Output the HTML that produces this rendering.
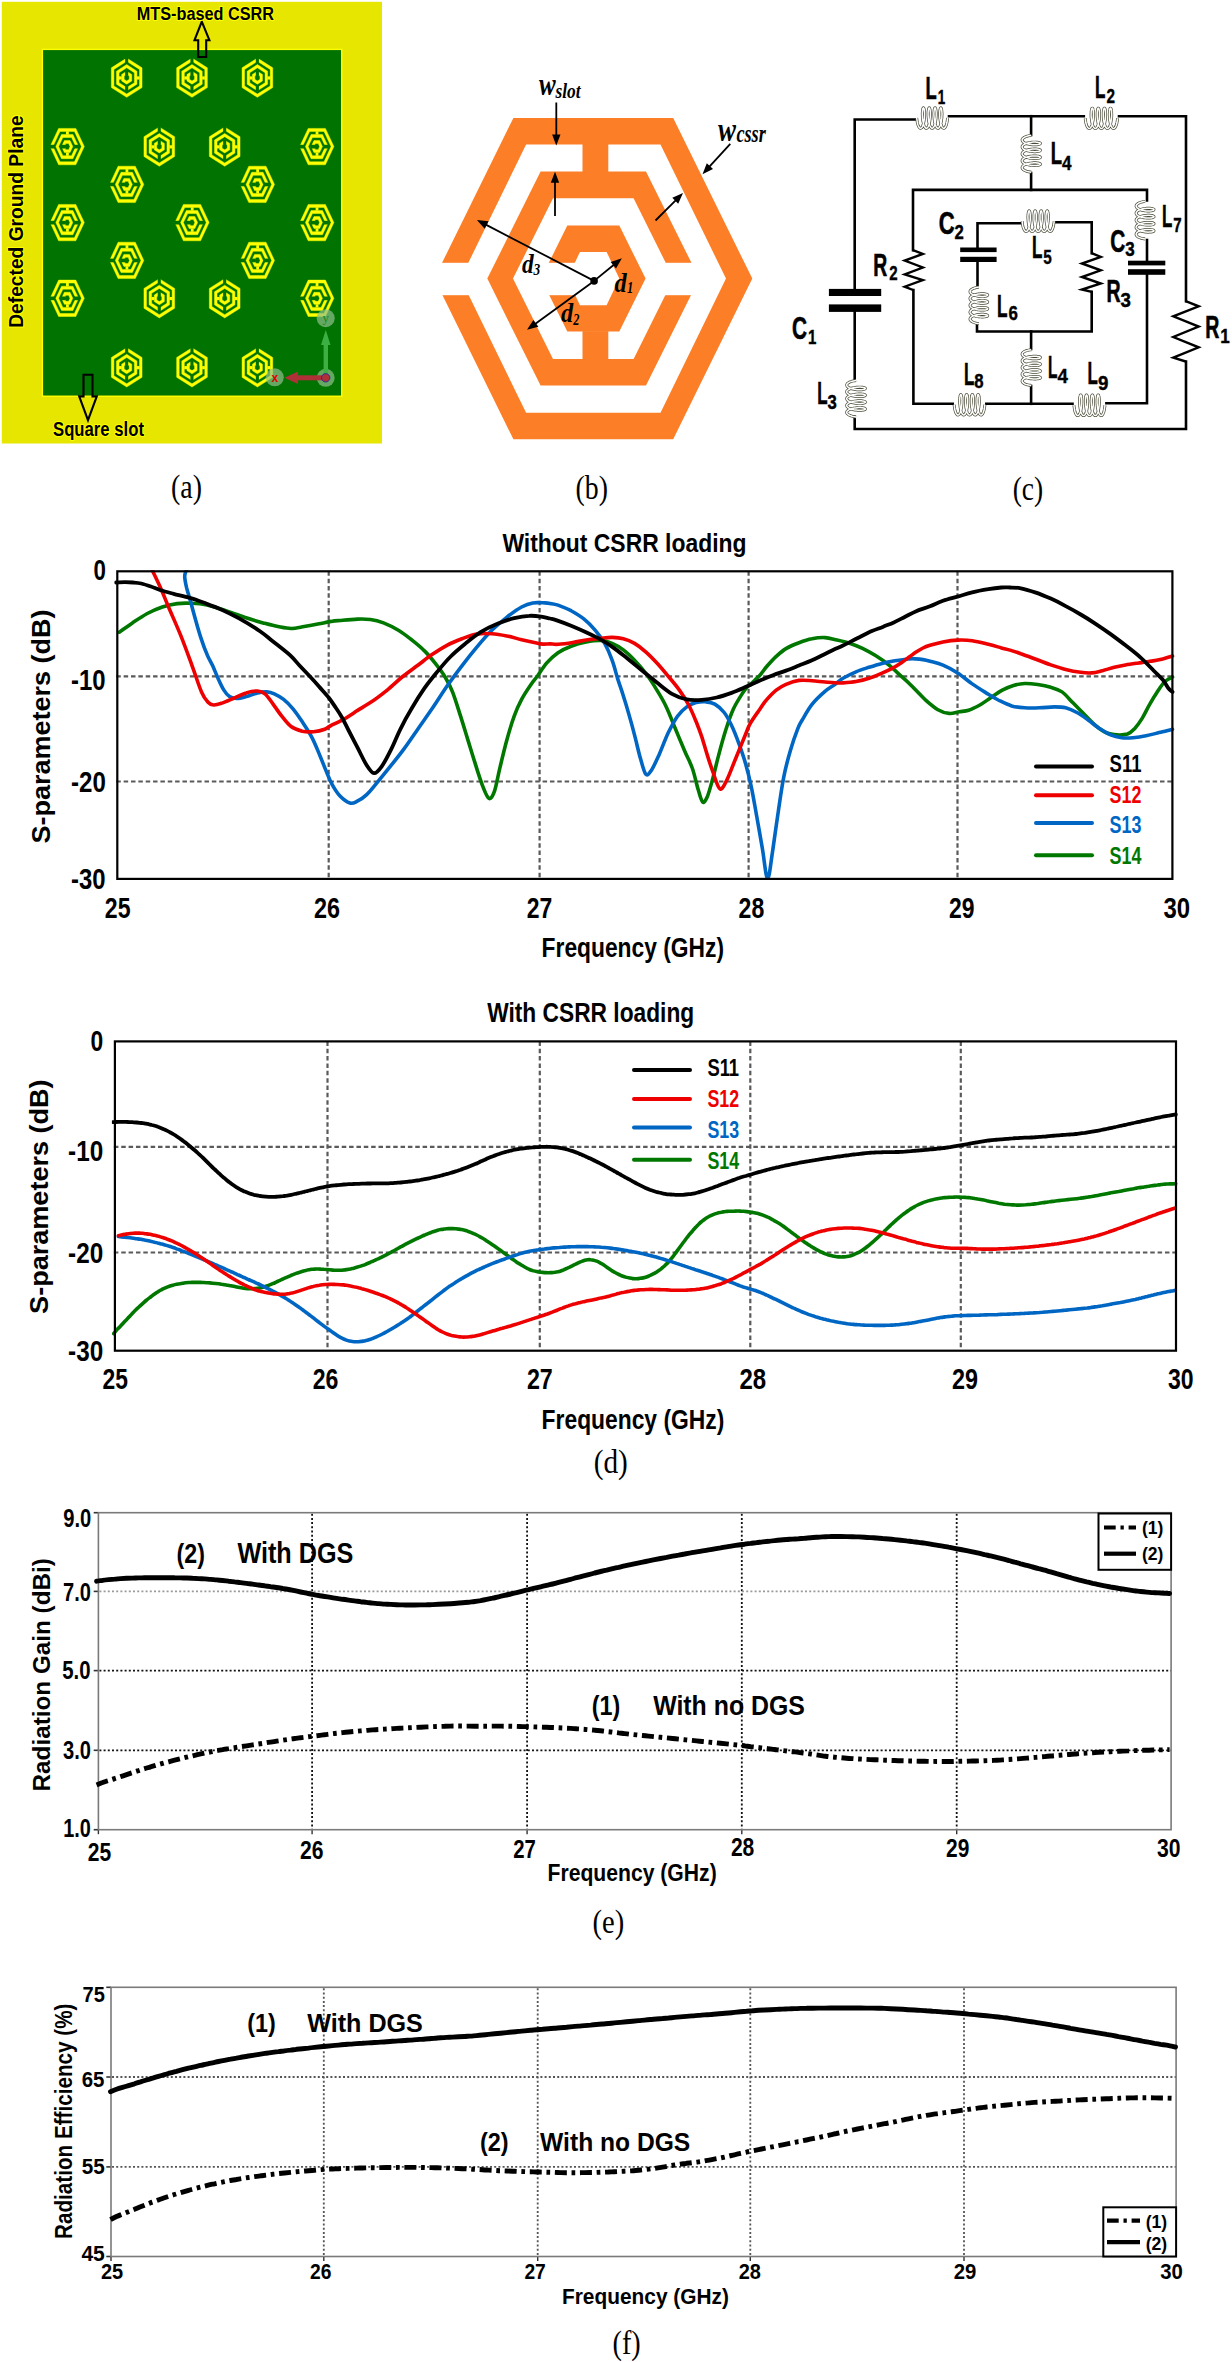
<!DOCTYPE html>
<html><head><meta charset="utf-8"><style>
html,body{margin:0;padding:0;background:#fff;}
body{width:1232px;height:2362px;overflow:hidden;}
svg{display:block;}
</style></head><body>
<svg width="1232" height="2362" viewBox="0 0 1232 2362">
<rect x="0" y="0" width="1232" height="2362" fill="#fff"/>
<line x1="328.7" y1="571.3" x2="328.7" y2="878.9" stroke="#5a5a5a" stroke-width="2.2" stroke-dasharray="4.5 2.85"/>
<line x1="539.6" y1="571.3" x2="539.6" y2="878.9" stroke="#5a5a5a" stroke-width="2.2" stroke-dasharray="4.5 2.85"/>
<line x1="748.6" y1="571.3" x2="748.6" y2="878.9" stroke="#5a5a5a" stroke-width="2.2" stroke-dasharray="4.5 2.85"/>
<line x1="957.5" y1="571.3" x2="957.5" y2="878.9" stroke="#5a5a5a" stroke-width="2.2" stroke-dasharray="4.5 2.85"/>
<line x1="116.3" y1="676.4" x2="1172.4" y2="676.4" stroke="#5a5a5a" stroke-width="2.2" stroke-dasharray="4.5 2.85"/>
<line x1="116.3" y1="781.5" x2="1172.4" y2="781.5" stroke="#5a5a5a" stroke-width="2.2" stroke-dasharray="4.5 2.85"/>
<g clip-path="url(#clip1)">
<clipPath id="clip1"><rect x="114.3" y="570.3" width="1061.1" height="309.6"/></clipPath>
<path d="M119.3 632.2C121.5 630.7 127.7 626 132.4 622.9C137.1 619.8 142.4 616.2 147.3 613.5C152.3 610.9 157.3 608.7 162.3 607C167.3 605.4 172.2 604.3 177.2 603.6C182.2 603 187.2 603 192.1 603.3C197.1 603.5 201.5 603.9 207.1 605.1C212.7 606.4 219.5 608.7 225.7 610.7C232 612.8 238.2 615.3 244.4 617.3C250.6 619.3 257.5 621.3 263.1 622.9C268.7 624.4 273.4 625.7 278 626.6C282.7 627.5 286.7 628.5 291.1 628.5C295.4 628.5 299.5 627.4 304.2 626.6C308.8 625.8 314.6 624.7 319.1 623.8C323.6 622.9 327.7 621.9 331.2 621.4C334.7 620.8 335.6 620.8 340 620.5C344.4 620.1 352.3 619.3 357.3 619.1C362.4 619 366 618.9 370.4 619.5C374.8 620.1 378.8 621.1 383.5 622.9C388.1 624.7 393.7 627.5 398.4 630.3C403.1 633.1 407.1 636.3 411.5 639.7C415.8 643.1 420.5 646.8 424.5 650.9C428.6 654.9 432.3 659.6 435.7 663.9C439.2 668.3 442.3 672.3 445.1 677C447.9 681.7 450.1 685.7 452.5 691.9C455 698.2 457.5 706.6 460 714.4C462.5 722.1 465 730.5 467.5 738.6C470 746.7 472.5 755.1 475 762.9C477.4 770.7 480.1 779.4 482.4 785.3C484.8 791.2 486.9 797.4 489 798.4C491 799.3 492.7 796.2 494.6 790.9C496.4 785.6 498.1 775 500.2 766.6C502.2 758.2 504.4 748.9 506.7 740.5C509 732.1 511.7 723.1 514.2 716.2C516.6 709.4 518.8 704.7 521.6 699.4C524.4 694.1 528.3 688.4 531 684.5C533.6 680.6 534.8 679.6 537.5 676C540.1 672.4 543.4 666.8 546.8 662.9C550.2 659.1 554 655.5 558 652.7C562 650 566.4 648 571.1 646.2C575.7 644.4 581 642.9 586 641.9C591 641 596.6 640.2 600.9 640.4C605.3 640.7 608.4 641.8 612.1 643.4C615.9 645 619.6 647.1 623.3 649.9C627.1 652.7 630.8 656.3 634.5 660.2C638.3 664.1 642 668.3 645.7 673.3C649.5 678.3 653.5 684.5 656.9 690.1C660.4 695.7 663.2 700.3 666.3 706.9C669.4 713.4 672.5 721.8 675.6 729.3C678.7 736.8 682.2 745.2 685 751.7C687.8 758.2 690.2 762.3 692.4 768.5C694.6 774.7 696.3 783.4 698 789C699.7 794.6 701.1 800.8 702.7 802.1C704.2 803.3 705.6 800.5 707.4 796.5C709.1 792.4 711.1 784.7 713 777.8C714.8 771 716.4 763.5 718.6 755.4C720.7 747.3 723.5 737.1 726 729.3C728.5 721.5 730.7 714.8 733.5 708.8C736.3 702.7 740.5 696.4 742.8 692.8C745.2 689.1 745.9 688.5 747.5 686.8C749 685.1 750.6 684.2 752.2 682.8C753.7 681.4 755.5 679.5 756.8 678.3C758.1 677 758.4 677.1 760 675.2C761.6 673.3 763.8 669.9 766.5 666.8C769.2 663.7 773 659.4 776.2 656.4C779.5 653.4 782.2 650.9 786 648.6C789.8 646.3 794.7 644.3 799 642.7C803.3 641.1 807.7 639.6 812 638.8C816.3 637.9 820.8 637.4 825 637.6C829.2 637.8 832.9 639.1 837 640C841.1 640.9 845.2 641.8 849.5 643.2C853.8 644.6 858.2 646.3 862.5 648.4C866.8 650.5 871.2 652.9 875.5 655.6C879.8 658.3 884.1 661.2 888.4 664.7C892.7 668.2 897.8 673.1 901.4 676.4C905 679.6 906.1 680.4 910 684.2C913.9 688 920.2 695 924.8 699.3C929.5 703.5 933.8 707.3 937.9 709.7C941.9 712 945.5 713.1 949.1 713.4C952.7 713.8 956.1 712.2 959.3 711.7C962.6 711.2 965.2 711.3 968.7 710.2C972.1 709.1 976.1 707.1 979.9 705C983.6 702.9 987.3 700 991.1 697.5C994.8 695.1 998.5 692.1 1002.3 690.1C1006 688.1 1009.7 686.5 1013.5 685.4C1017.2 684.3 1020.6 683.7 1024.7 683.5C1028.7 683.4 1033.4 683.9 1037.7 684.5C1042.1 685.1 1046.8 686 1050.8 687.3C1054.9 688.5 1058.3 689.3 1062 691.9C1065.7 694.6 1069.5 699.4 1073.2 703.1C1076.9 706.9 1080.7 710.6 1084.4 714.4C1088.1 718.1 1091.9 722.4 1095.6 725.6C1099.4 728.7 1103.1 731.5 1106.8 733C1110.6 734.6 1114.6 734.7 1118 734.9C1121.4 735 1124.6 735 1127.4 734C1130.2 732.9 1132.3 731 1134.8 728.4C1137.3 725.7 1139.8 722.1 1142.3 718.1C1144.8 714 1147.3 708.4 1149.8 704.1C1152.2 699.7 1154.7 695.7 1157.2 691.9C1159.7 688.2 1162.1 684.2 1164.7 681.7C1167.2 679.2 1171.2 677.8 1172.5 677" fill="none" stroke="#007800" stroke-width="3.6" stroke-linecap="round" stroke-linejoin="round"/>
<path d="M186.5 569.7C186.2 570.8 184.7 573.2 184.7 576.2C184.7 579.2 185.6 583.4 186.5 587.4C187.5 591.4 188.7 594.9 190.3 600.5C191.8 606.1 194 614.5 195.9 621C197.7 627.5 199.6 634.1 201.5 639.7C203.3 645.3 205.2 650.3 207.1 654.6C208.9 659 210.8 661.8 212.7 665.8C214.5 669.9 216.4 674.8 218.3 678.9C220.1 682.9 222 687.1 223.9 690.1C225.7 693 227.3 695.2 229.5 696.6C231.7 698 234.1 698.5 236.9 698.5C239.7 698.5 242.9 697.5 246.3 696.6C249.7 695.7 254.1 693.7 257.5 692.9C260.9 692.1 264 691.8 266.8 691.9C269.6 692.1 271.5 692.6 274.3 693.8C277.1 695.1 280.5 696.9 283.6 699.4C286.7 701.9 289.8 705 293 708.8C296.1 712.5 299.2 717.2 302.3 721.8C305.4 726.5 308.8 731.5 311.6 736.8C314.4 742 316.5 747.3 319.1 753.6C321.7 759.8 325.3 769.2 327.5 774.3C329.6 779.5 330.1 781 332.2 784.6C334.2 788.2 337 792.9 340 796C343 799.1 347 802.2 349.9 803C352.8 803.9 354.5 802.6 357.3 801.2C360.1 799.8 363.2 797.9 366.7 794.6C370.1 791.4 373.8 786.4 377.9 781.6C381.9 776.7 386.6 771.1 390.9 765.7C395.3 760.2 399.7 754.8 404 748.9C408.4 743 412.4 736.9 417.1 730.2C421.7 723.5 427 716.1 432 708.8C437 701.4 442 693.5 446.9 686.3C451.9 679.2 456.9 672.3 461.9 665.8C466.9 659.3 471.8 653.1 476.8 647.1C481.8 641.2 486.8 635.3 491.8 630.3C496.7 625.4 501.7 621.2 506.7 617.3C511.7 613.4 517.3 609.4 521.6 607C526 604.6 528.9 603.6 532.8 602.9C536.7 602.2 542.1 602.8 544.9 602.9C547.8 603 547.8 603 550 603.4C552.2 603.8 554.5 603.9 558 605.1C561.5 606.4 566.7 608.4 571.1 610.7C575.4 613.1 580.1 615.9 584.1 619.1C588.2 622.4 591.9 626.3 595.3 630.3C598.8 634.4 601.9 638.4 604.7 643.4C607.5 648.4 610 654.3 612.1 660.2C614.3 666.1 615.9 673 617.7 678.9C619.6 684.8 621.5 689.8 623.3 695.7C625.2 701.6 627.1 707.8 628.9 714.4C630.8 720.9 632.7 727.7 634.5 734.9C636.4 742 638.3 750.8 640.1 757.3C642 763.8 643.9 771.9 645.7 774.1C647.6 776.3 649.2 773.5 651.3 770.4C653.5 767.2 656 761.6 658.8 755.4C661.6 749.2 665 739.6 668.1 733C671.3 726.5 674.4 720.6 677.5 716.2C680.6 711.9 683.7 709.2 686.8 706.9C689.9 704.6 693 703.4 696.2 702.6C699.3 701.7 702.4 701.6 705.5 701.8C708.6 702.1 711.7 702.3 714.8 704.1C717.9 705.9 721.4 708.9 724.2 712.5C727 716.1 729.1 720.3 731.6 725.6C734.1 730.8 736.8 737.9 739.1 744.2C741.4 750.6 743.6 756.7 745.6 763.8C747.6 770.8 749.3 777.5 751.2 786.3C753.1 795.2 754.9 806.3 756.8 816.7C758.7 827.1 760.6 838.4 762.4 848.8C764.2 859.1 765.9 878.3 767.6 878.6C769.3 878.9 770.9 861.8 772.7 850.6C774.4 839.4 776.4 823.9 778.3 811.5C780.1 799.1 781.8 786.5 783.9 776.3C785.9 766.1 788.1 758.4 790.4 750.5C792.7 742.5 795.9 733.5 797.9 728.4C799.8 723.4 799.8 724 802.2 720C804.6 716 808.2 709.2 812 704.4C815.8 699.6 821.2 694.7 825 691.4C828.8 688.1 831.7 686.8 834.7 684.6C837.7 682.4 839.5 680.4 843 678.3C846.5 676.2 851.7 673.6 856 671.8C860.3 670 864.7 668.7 869 667.3C873.3 665.9 877.7 664.5 882 663.4C886.3 662.3 890.6 661.5 895 660.8C899.4 660.1 904.9 659.3 908.4 659C911.9 658.7 913.3 658.8 915.7 658.9C918.1 659 920.6 659.2 923 659.6C925.4 660 926.7 660.3 930 661.2C933.3 662.1 938.4 663.2 943 665.1C947.6 667 952.7 669.8 957.6 672.9C962.5 676 967.1 680.3 972.2 683.9C977.3 687.5 984.1 691.6 988.4 694.3C992.7 697 994.3 698.1 998.2 700C1002.1 701.9 1007.2 704.6 1011.6 705.9C1016 707.2 1020 707.5 1024.7 707.8C1029.3 708.1 1034.6 708 1039.6 707.8C1044.6 707.7 1050.2 706.9 1054.5 706.9C1058.9 706.9 1062 706.9 1065.7 707.8C1069.5 708.8 1073.2 710.5 1076.9 712.5C1080.7 714.5 1084.4 717.3 1088.1 720C1091.9 722.6 1095.6 725.9 1099.4 728.4C1103.1 730.8 1106.8 733.3 1110.6 734.9C1114.3 736.4 1118 737.2 1121.8 737.7C1125.5 738.2 1128.9 738 1133 737.7C1137 737.4 1141.7 736.7 1146 735.8C1150.4 735 1154.7 733.7 1159.1 732.6C1163.5 731.6 1170.3 729.8 1172.5 729.3" fill="none" stroke="#0066c4" stroke-width="3.6" stroke-linecap="round" stroke-linejoin="round"/>
<path d="M152 569.7C153.4 572.6 157.4 580.7 160.4 587.4C163.4 594.1 166.3 601.7 169.7 609.8C173.2 617.9 177.2 626.6 180.9 635.9C184.7 645.3 188.7 656.5 192.1 665.8C195.6 675.1 198.8 685.9 201.5 691.9C204.1 698 206 700 208 702.2C210 704.4 211.3 704.9 213.6 705C215.9 705.2 218.7 704.2 222 703.1C225.3 702.1 229.2 700.2 233.2 698.5C237.3 696.8 242.2 694.1 246.3 692.9C250.3 691.6 254.4 690.9 257.5 691C260.6 691.2 262.5 691.8 265 693.8C267.4 695.8 269.6 699.4 272.4 703.1C275.2 706.9 278.6 712.3 281.8 716.2C284.9 720.1 287.7 724 291.1 726.5C294.5 729 298.6 730.3 302.3 731.2C306 732 309.8 732 313.5 731.7C317.2 731.4 321.7 730.4 324.7 729.3C327.6 728.2 328.6 726.7 331.2 725.3C333.8 724 337.8 722.2 340 721.2C342.2 720.1 341.4 720.8 344.3 719C347.2 717.3 352.7 713.6 357.3 710.6C362 707.7 367.3 704.7 372.3 701.3C377.3 697.9 382.2 694.1 387.2 690.1C392.2 686 397.2 681.1 402.1 677C407.1 673 412.1 669.5 417.1 665.8C422.1 662.1 427 658 432 654.6C437 651.2 442 647.9 446.9 645.3C451.9 642.6 456.9 640.6 461.9 638.7C466.9 636.9 471.8 634.9 476.8 634.1C481.8 633.2 486.8 633.4 491.8 633.7C496.7 634 501.7 634.9 506.7 635.9C511.7 636.9 516.6 638.5 521.6 639.7C526.6 640.9 533 642.3 536.6 643C540.1 643.8 540.8 644 543.1 644.1C545.3 644.3 547.5 643.8 550 643.8C552.5 643.9 554.2 644.6 558 644.3C561.8 644.1 568 643.3 572.9 642.5C577.9 641.7 583.2 640.4 587.9 639.7C592.5 639 596.9 638.6 600.9 638.2C605 637.8 608.4 637.3 612.1 637.4C615.9 637.5 619.6 637.7 623.3 638.7C627.1 639.7 630.8 641.2 634.5 643.4C638.3 645.6 642 648.5 645.7 651.8C649.5 655.1 653.2 659 656.9 663C660.7 667.1 664.4 671.6 668.1 676.1C671.9 680.6 675.9 685.3 679.4 690.1C682.8 694.9 685.9 699.7 688.7 705C691.5 710.3 694 716.5 696.2 721.8C698.3 727.1 699.9 731.2 701.8 736.8C703.6 742.4 705.5 749.5 707.4 755.4C709.2 761.3 711.1 766.9 713 772.2C714.8 777.5 717 784.5 718.6 787.2C720.1 789.8 720.7 789.6 722.3 788.1C723.8 786.5 725.7 782.6 727.9 777.8C730.1 773 732.4 766.5 735.4 759.2C738.3 752 743.1 740.3 745.6 734.3C748.1 728.3 747.9 727.6 750.3 723.4C752.7 719.1 757.3 712.9 760 709C762.7 705.1 763.8 703 766.5 699.9C769.2 696.8 773 692.7 776.2 690.1C779.5 687.5 782.2 685.9 786 684.3C789.8 682.7 794.7 681 799 680.4C803.3 679.8 807.7 680.4 812 680.7C816.3 681 821.2 681.7 825 682C828.8 682.3 831.7 682.6 834.7 682.7C837.7 682.9 839.5 683.1 843 682.9C846.5 682.7 851.7 682.4 856 681.6C860.3 680.8 864.7 679.7 869 678.3C873.3 676.9 878.2 674.7 882 673.1C885.8 671.5 888.5 670.3 891.7 668.6C894.9 666.9 898.4 664.7 901.4 662.7C904.4 660.7 907.6 658.2 910 656.5C912.4 654.8 913.5 653.7 915.7 652.3C917.9 650.9 920.6 649.2 923 648C925.4 646.8 926.7 646.3 930 645.3C933.3 644.3 938.4 642.9 943 642C947.6 641.1 952.7 640.3 957.6 640.1C962.5 639.9 967.1 640 972.2 640.7C977.3 641.4 983.5 643.1 988.4 644.3C993.3 645.5 997.8 646.9 1001.4 647.9C1005 648.9 1006.7 649.1 1010 650.1C1013.3 651.1 1016.6 652.1 1020.9 653.7C1025.3 655.2 1030.9 657.4 1035.9 659.3C1040.9 661.1 1045.8 663.2 1050.8 664.9C1055.8 666.6 1060.8 668.3 1065.7 669.5C1070.7 670.8 1076.3 671.8 1080.7 672.3C1085 672.9 1088.1 673.2 1091.9 672.9C1095.6 672.6 1099.4 671.4 1103.1 670.5C1106.8 669.5 1110.6 668.2 1114.3 667.3C1118 666.4 1121.4 665.6 1125.5 664.9C1129.5 664.2 1134.2 663.6 1138.6 663C1142.9 662.4 1147.6 661.8 1151.6 661.1C1155.7 660.5 1159.3 659.7 1162.8 658.9C1166.3 658.1 1170.9 656.6 1172.5 656.1" fill="none" stroke="#ee0000" stroke-width="3.6" stroke-linecap="round" stroke-linejoin="round"/>
<path d="M116 582.5C117.5 582.5 122.2 582.2 125 582.2C127.8 582.2 130.3 582.3 133 582.5C135.7 582.7 138.2 582.8 141.2 583.5C144.2 584.2 147.7 585.4 150.9 586.5C154.1 587.6 156.8 589 160.6 590.2C164.4 591.4 168.7 592.5 173.6 593.8C178.5 595.1 184.5 596.3 189.9 597.9C195.3 599.5 200.7 601.6 206.1 603.6C211.5 605.6 216.9 607.6 222.3 610C227.7 612.4 232.3 614.7 238.6 618.2C244.9 621.7 254.4 627.4 260 631.2C265.6 635 267.4 637 272.4 641C277.4 645 285.5 651.1 290 655.2C294.5 659.3 296.2 662 299.5 665.5C302.8 669 306.2 672.5 309.5 676C312.8 679.5 315.8 682.8 319 686.5C322.2 690.2 326.2 694.4 329 698C331.8 701.6 333.8 704.8 336 708C338.2 711.2 339.9 713.8 342 717.5C344.1 721.2 345.8 725 348.4 730C351 735 354.3 741.4 357.3 747.2C360.4 753.1 363.9 760.9 366.7 765.2C369.5 769.6 371.7 772.9 374.1 773.2C376.6 773.4 378.8 770.5 381.6 766.6C384.4 762.7 387.8 756 390.9 749.8C394.1 743.6 396.9 736.1 400.3 729.3C403.7 722.4 407.4 715.6 411.5 708.8C415.5 701.9 420.2 694.4 424.5 688.2C428.9 682 433.3 676.7 437.6 671.4C442 666.1 446 661.1 450.7 656.5C455.3 651.8 460.6 647.5 465.6 643.4C470.6 639.4 475.3 635.5 480.6 632.2C485.8 628.9 491.8 626.1 497.4 623.8C503 621.5 508.9 619.5 514.2 618.2C519.4 616.9 524.6 616 529.1 615.8C533.6 615.5 537.7 616.1 541.2 616.6C544.7 617.1 547.5 618 550 618.5C552.5 619.1 552.6 618.9 556.1 620.1C559.6 621.3 566.1 623.7 571.1 625.7C576 627.7 581 629.9 586 632.2C591 634.5 596.3 637 600.9 639.7C605.6 642.3 609.7 645 614 648.1C618.4 651.2 622.4 654.6 627.1 658.3C631.7 662.1 637 666.4 642 670.5C647 674.5 652 678.7 656.9 682.6C661.9 686.5 666.9 691 671.9 693.8C676.9 696.6 681.8 698.4 686.8 699.4C691.8 700.4 696.8 700.1 701.8 699.8C706.7 699.5 711.7 698.7 716.7 697.5C721.7 696.4 726.6 694.7 731.6 692.9C736.6 691.1 743.3 688 746.6 686.6C749.8 685.2 749 685.5 751.2 684.5C753.4 683.5 756.4 681.9 760 680.4C763.6 678.9 768.7 676.8 773 675.2C777.3 673.6 781.7 672.2 786 670.6C790.3 669 794.7 667.2 799 665.5C803.3 663.8 807.7 662.2 812 660.3C816.3 658.4 821.3 655.8 825 654C828.7 652.2 831 650.9 834 649.5C837 648.1 839.1 647.4 843 645.5C846.9 643.6 852.5 640.7 857.3 638.3C862.1 635.9 867.6 633 871.9 631.1C876.1 629.2 879.1 628.4 882.8 626.9C886.4 625.4 890.1 624 893.8 622.4C897.4 620.8 901.1 618.8 904.7 617C908.4 615.2 911.5 613.2 915.7 611.4C919.9 609.6 925.5 608.1 930 606.3C934.5 604.5 938.4 602.4 943 600.8C947.6 599.2 952.7 598 957.6 596.6C962.5 595.2 967.1 593.5 972.2 592.3C977.3 591 983.5 589.9 988.4 589.1C993.3 588.3 997.8 587.8 1001.4 587.5C1005 587.2 1006.7 587.4 1010 587.5C1013.3 587.6 1016.6 587.5 1020.9 588.3C1025.3 589.2 1030.9 590.9 1035.9 592.6C1040.9 594.3 1045.8 596.4 1050.8 598.6C1055.8 600.8 1060.8 603.4 1065.7 606.1C1070.7 608.7 1075.7 611.5 1080.7 614.5C1085.7 617.4 1090.6 620.5 1095.6 623.8C1100.6 627.1 1105.6 630.5 1110.6 634.1C1115.5 637.7 1120.5 641.4 1125.5 645.3C1130.5 649.2 1135.8 653.2 1140.4 657.4C1145.1 661.6 1149.8 666.7 1153.5 670.5C1157.2 674.2 1160.3 676.9 1162.8 679.8C1165.3 682.8 1166.8 686.2 1168.4 688.2C1170 690.2 1171.8 691.3 1172.5 691.9" fill="none" stroke="#000" stroke-width="3.8" stroke-linecap="round" stroke-linejoin="round"/>
</g>
<rect x="117.3" y="571.3" width="1055.1" height="307.6" fill="none" stroke="#000" stroke-width="2.2"/>
<line x1="1036" y1="766.4" x2="1092" y2="766.4" stroke="#000" stroke-width="4" stroke-linecap="round"/>
<text x="1109.6" y="772.3" font-family="Liberation Sans, sans-serif" font-size="24" font-weight="bold" font-style="normal" fill="#000" textLength="31.80" lengthAdjust="spacingAndGlyphs">S11</text>
<line x1="1036" y1="795.2" x2="1092" y2="795.2" stroke="#ee0000" stroke-width="4" stroke-linecap="round"/>
<text x="1109.6" y="803.3" font-family="Liberation Sans, sans-serif" font-size="24" font-weight="bold" font-style="normal" fill="#ee0000" textLength="31.81" lengthAdjust="spacingAndGlyphs">S12</text>
<line x1="1036" y1="822.9" x2="1092" y2="822.9" stroke="#0066c4" stroke-width="4" stroke-linecap="round"/>
<text x="1109.6" y="833.2" font-family="Liberation Sans, sans-serif" font-size="24" font-weight="bold" font-style="normal" fill="#0066c4" textLength="31.81" lengthAdjust="spacingAndGlyphs">S13</text>
<line x1="1036" y1="855.3" x2="1092" y2="855.3" stroke="#007800" stroke-width="4" stroke-linecap="round"/>
<text x="1109.6" y="864.4" font-family="Liberation Sans, sans-serif" font-size="24" font-weight="bold" font-style="normal" fill="#007800" textLength="31.81" lengthAdjust="spacingAndGlyphs">S14</text>
<text x="502.4" y="551.7" font-family="Liberation Sans, sans-serif" font-size="26.6" font-weight="bold" font-style="normal" fill="#000" textLength="244.20" lengthAdjust="spacingAndGlyphs">Without CSRR loading</text>
<text transform="translate(50.2 843.6) rotate(-90)" x="0" y="0" font-family="Liberation Sans, sans-serif" font-size="26.7" font-weight="bold" font-style="normal" fill="#000" textLength="234.00" lengthAdjust="spacingAndGlyphs">S-parameters (dB)</text>
<text x="541.6" y="956.5" font-family="Liberation Sans, sans-serif" font-size="27.9" font-weight="bold" font-style="normal" fill="#000" textLength="182.40" lengthAdjust="spacingAndGlyphs">Frequency (GHz)</text>
<text x="93.4" y="580.2" font-family="Liberation Sans, sans-serif" font-size="29" font-weight="bold" font-style="normal" fill="#000" textLength="12.40" lengthAdjust="spacingAndGlyphs">0</text>
<text x="71" y="690.1" font-family="Liberation Sans, sans-serif" font-size="29" font-weight="bold" font-style="normal" fill="#000" textLength="34.51" lengthAdjust="spacingAndGlyphs">-10</text>
<text x="71" y="791.5" font-family="Liberation Sans, sans-serif" font-size="29" font-weight="bold" font-style="normal" fill="#000" textLength="34.81" lengthAdjust="spacingAndGlyphs">-20</text>
<text x="71" y="888.6" font-family="Liberation Sans, sans-serif" font-size="29" font-weight="bold" font-style="normal" fill="#000" textLength="34.51" lengthAdjust="spacingAndGlyphs">-30</text>
<text x="104.8" y="917.5" font-family="Liberation Sans, sans-serif" font-size="29" font-weight="bold" font-style="normal" fill="#000" textLength="25.71" lengthAdjust="spacingAndGlyphs">25</text>
<text x="314" y="917.5" font-family="Liberation Sans, sans-serif" font-size="29" font-weight="bold" font-style="normal" fill="#000" textLength="26.01" lengthAdjust="spacingAndGlyphs">26</text>
<text x="526.8" y="917.5" font-family="Liberation Sans, sans-serif" font-size="29" font-weight="bold" font-style="normal" fill="#000" textLength="25.51" lengthAdjust="spacingAndGlyphs">27</text>
<text x="738.6" y="917.5" font-family="Liberation Sans, sans-serif" font-size="29" font-weight="bold" font-style="normal" fill="#000" textLength="25.61" lengthAdjust="spacingAndGlyphs">28</text>
<text x="949" y="917.5" font-family="Liberation Sans, sans-serif" font-size="29" font-weight="bold" font-style="normal" fill="#000" textLength="25.51" lengthAdjust="spacingAndGlyphs">29</text>
<text x="1163.4" y="917.5" font-family="Liberation Sans, sans-serif" font-size="29" font-weight="bold" font-style="normal" fill="#000" textLength="26.61" lengthAdjust="spacingAndGlyphs">30</text>
<line x1="327.5" y1="1041.4" x2="327.5" y2="1350.7" stroke="#5a5a5a" stroke-width="2.2" stroke-dasharray="4.5 2.85"/>
<line x1="539.8" y1="1041.4" x2="539.8" y2="1350.7" stroke="#5a5a5a" stroke-width="2.2" stroke-dasharray="4.5 2.85"/>
<line x1="750.3" y1="1041.4" x2="750.3" y2="1350.7" stroke="#5a5a5a" stroke-width="2.2" stroke-dasharray="4.5 2.85"/>
<line x1="960.8" y1="1041.4" x2="960.8" y2="1350.7" stroke="#5a5a5a" stroke-width="2.2" stroke-dasharray="4.5 2.85"/>
<line x1="113.9" y1="1146.8" x2="1176" y2="1146.8" stroke="#5a5a5a" stroke-width="2.2" stroke-dasharray="4.5 2.85"/>
<line x1="113.9" y1="1252.5" x2="1176" y2="1252.5" stroke="#5a5a5a" stroke-width="2.2" stroke-dasharray="4.5 2.85"/>
<clipPath id="clip2"><rect x="111.9" y="1040.4" width="1067.1" height="311.3"/></clipPath>
<g clip-path="url(#clip2)">
<path d="M113.7 1333.7C114.2 1333.1 115.7 1331.1 116.7 1329.9C117.7 1328.8 118.7 1327.9 119.7 1326.9C120.7 1325.9 121.7 1324.9 122.7 1323.8C123.7 1322.7 124.7 1321.6 125.7 1320.6C126.7 1319.5 127.7 1318.4 128.7 1317.3C129.7 1316.2 130.7 1315.2 131.7 1314.1C132.7 1313.1 133.7 1312 134.7 1311C135.7 1310 136.7 1309.1 137.7 1308.1C138.7 1307.2 139.7 1306.2 140.7 1305.3C141.7 1304.4 142.7 1303.5 143.7 1302.6C144.7 1301.7 145.7 1300.8 146.7 1300C147.7 1299.1 148.7 1298.3 149.7 1297.6C150.7 1296.8 151.7 1296.1 152.7 1295.3C153.7 1294.6 154.7 1293.9 155.7 1293.2C156.7 1292.5 157.7 1291.9 158.7 1291.2C159.7 1290.6 160.7 1290.1 161.7 1289.6C162.7 1289 163.7 1288.6 164.7 1288.2C165.7 1287.7 166.7 1287.3 167.7 1286.9C168.7 1286.5 169.7 1286.1 170.7 1285.8C171.7 1285.5 172.7 1285.1 173.7 1284.9C174.7 1284.6 175.7 1284.4 176.7 1284.2C177.7 1284 178.7 1283.8 179.7 1283.7C180.7 1283.5 181.7 1283.4 182.7 1283.2C183.7 1283.1 184.7 1282.9 185.7 1282.8C186.7 1282.7 187.7 1282.6 188.7 1282.5C189.7 1282.5 190.7 1282.4 191.7 1282.4C192.7 1282.4 193.7 1282.4 194.7 1282.4C195.7 1282.4 196.7 1282.4 197.7 1282.4C198.7 1282.4 199.7 1282.4 200.7 1282.4C201.7 1282.4 202.7 1282.5 203.7 1282.5C204.7 1282.5 205.7 1282.6 206.7 1282.7C207.7 1282.8 208.7 1282.8 209.7 1282.9C210.7 1283 211.7 1283.1 212.7 1283.2C213.7 1283.3 214.7 1283.4 215.7 1283.5C216.7 1283.6 217.7 1283.7 218.7 1283.8C219.7 1284 220.7 1284.1 221.7 1284.3C222.7 1284.4 223.7 1284.6 224.7 1284.7C225.7 1284.9 226.7 1285 227.7 1285.2C228.7 1285.4 229.7 1285.5 230.7 1285.7C231.7 1285.9 232.7 1286.1 233.7 1286.3C234.7 1286.5 235.7 1286.7 236.7 1286.9C237.7 1287.1 238.7 1287.3 239.7 1287.5C240.7 1287.7 241.7 1287.9 242.7 1288.1C243.7 1288.2 244.7 1288.4 245.7 1288.5C246.7 1288.6 247.7 1288.7 248.7 1288.7C249.7 1288.7 250.7 1288.7 251.7 1288.7C252.7 1288.7 253.7 1288.7 254.7 1288.6C255.7 1288.5 256.7 1288.5 257.7 1288.3C258.7 1288.2 259.7 1288 260.7 1287.8C261.7 1287.6 262.7 1287.3 263.7 1287C264.7 1286.7 265.7 1286.4 266.7 1286C267.7 1285.7 268.7 1285.3 269.7 1284.9C270.7 1284.5 271.7 1284.1 272.7 1283.7C273.7 1283.3 274.7 1282.8 275.7 1282.3C276.7 1281.9 277.7 1281.4 278.7 1280.9C279.7 1280.5 280.7 1280 281.7 1279.5C282.7 1279.1 283.7 1278.6 284.7 1278.2C285.7 1277.7 286.7 1277.3 287.7 1276.9C288.7 1276.4 289.7 1276 290.7 1275.6C291.7 1275.2 292.7 1274.7 293.7 1274.3C294.7 1274 295.7 1273.6 296.7 1273.2C297.7 1272.9 298.7 1272.5 299.7 1272.2C300.7 1271.9 301.7 1271.6 302.7 1271.3C303.7 1271 304.7 1270.7 305.7 1270.5C306.7 1270.2 307.7 1270 308.7 1269.8C309.7 1269.6 310.7 1269.5 311.7 1269.3C312.7 1269.2 313.7 1269.2 314.7 1269.1C315.7 1269.1 316.7 1269 317.7 1269C318.7 1269 319.7 1269 320.7 1269.1C321.7 1269.1 322.7 1269.2 323.7 1269.3C324.7 1269.3 325.7 1269.4 326.7 1269.5C327.7 1269.6 328.7 1269.7 329.7 1269.8C330.7 1269.9 331.7 1270 332.7 1270.1C333.7 1270.2 334.7 1270.2 335.7 1270.3C336.7 1270.3 337.7 1270.3 338.7 1270.3C339.7 1270.3 340.7 1270.2 341.7 1270.2C342.7 1270.1 343.7 1270 344.7 1269.9C345.7 1269.7 346.7 1269.6 347.7 1269.4C348.7 1269.3 349.7 1269.1 350.7 1268.9C351.7 1268.7 352.7 1268.4 353.7 1268.2C354.7 1267.9 355.7 1267.6 356.7 1267.3C357.7 1267 358.7 1266.7 359.7 1266.4C360.7 1266.1 361.7 1265.8 362.7 1265.4C363.7 1265.1 364.7 1264.7 365.7 1264.3C366.7 1263.9 367.7 1263.4 368.7 1263C369.7 1262.6 370.7 1262.1 371.7 1261.7C372.7 1261.3 373.7 1260.8 374.7 1260.4C375.7 1259.9 376.7 1259.5 377.7 1259C378.7 1258.5 379.7 1258.1 380.7 1257.6C381.7 1257.1 382.7 1256.6 383.7 1256.1C384.7 1255.6 385.7 1255.1 386.7 1254.6C387.7 1254.1 388.7 1253.6 389.7 1253C390.7 1252.5 391.7 1252 392.7 1251.4C393.7 1250.9 394.7 1250.3 395.7 1249.7C396.7 1249.2 397.7 1248.6 398.7 1248C399.7 1247.5 400.7 1246.9 401.7 1246.4C402.7 1245.8 403.7 1245.3 404.7 1244.7C405.7 1244.2 406.7 1243.7 407.7 1243.2C408.7 1242.7 409.7 1242.2 410.7 1241.7C411.7 1241.2 412.7 1240.7 413.7 1240.2C414.7 1239.7 415.7 1239.2 416.7 1238.7C417.7 1238.2 418.7 1237.8 419.7 1237.3C420.7 1236.8 421.7 1236.4 422.7 1235.9C423.7 1235.5 424.7 1235 425.7 1234.6C426.7 1234.1 427.7 1233.7 428.7 1233.3C429.7 1232.9 430.7 1232.5 431.7 1232.2C432.7 1231.8 433.7 1231.5 434.7 1231.2C435.7 1230.9 436.7 1230.6 437.7 1230.3C438.7 1230 439.7 1229.8 440.7 1229.6C441.7 1229.4 442.7 1229.2 443.7 1229.1C444.7 1228.9 445.7 1228.8 446.7 1228.7C447.7 1228.7 448.7 1228.6 449.7 1228.6C450.7 1228.5 451.7 1228.5 452.7 1228.5C453.7 1228.6 454.7 1228.7 455.7 1228.8C456.7 1228.9 457.7 1229 458.7 1229.1C459.7 1229.3 460.7 1229.4 461.7 1229.6C462.7 1229.8 463.7 1230 464.7 1230.2C465.7 1230.5 466.7 1230.8 467.7 1231.2C468.7 1231.5 469.7 1231.9 470.7 1232.3C471.7 1232.7 472.7 1233.1 473.7 1233.6C474.7 1234 475.7 1234.5 476.7 1235C477.7 1235.5 478.7 1236 479.7 1236.6C480.7 1237.1 481.7 1237.7 482.7 1238.3C483.7 1238.9 484.7 1239.6 485.7 1240.2C486.7 1240.9 487.7 1241.5 488.7 1242.2C489.7 1242.8 490.7 1243.5 491.7 1244.2C492.7 1244.9 493.7 1245.5 494.7 1246.2C495.7 1246.9 496.7 1247.7 497.7 1248.4C498.7 1249.1 499.7 1249.8 500.7 1250.5C501.7 1251.2 502.7 1252 503.7 1252.7C504.7 1253.4 505.7 1254.1 506.7 1254.9C507.7 1255.6 508.7 1256.4 509.7 1257.1C510.7 1257.8 511.7 1258.6 512.7 1259.3C513.7 1260 514.7 1260.7 515.7 1261.4C516.7 1262.1 517.7 1262.8 518.7 1263.4C519.7 1264 520.7 1264.6 521.7 1265.2C522.7 1265.8 523.7 1266.5 524.7 1267C525.7 1267.6 526.7 1268.2 527.7 1268.7C528.7 1269.1 529.7 1269.6 530.7 1270C531.7 1270.4 532.7 1270.6 533.7 1270.9C534.7 1271.2 535.7 1271.4 536.7 1271.6C537.7 1271.8 538.7 1271.9 539.7 1272.1C540.7 1272.2 541.7 1272.3 542.7 1272.4C543.7 1272.5 544.7 1272.6 545.7 1272.6C546.7 1272.7 547.7 1272.7 548.7 1272.7C549.7 1272.7 550.7 1272.6 551.7 1272.6C552.7 1272.5 553.7 1272.4 554.7 1272.3C555.7 1272.1 556.7 1272 557.7 1271.8C558.7 1271.5 559.7 1271.3 560.7 1271C561.7 1270.6 562.7 1270.2 563.7 1269.8C564.7 1269.4 565.7 1268.9 566.7 1268.5C567.7 1268 568.7 1267.5 569.7 1267.1C570.7 1266.6 571.7 1266.1 572.7 1265.6C573.7 1265.1 574.7 1264.6 575.7 1264.2C576.7 1263.7 577.7 1263.2 578.7 1262.7C579.7 1262.2 580.7 1261.7 581.7 1261.4C582.7 1261 583.7 1260.6 584.7 1260.3C585.7 1260 586.7 1259.8 587.7 1259.7C588.7 1259.6 589.7 1259.6 590.7 1259.7C591.7 1259.7 592.7 1259.9 593.7 1260.2C594.7 1260.4 595.7 1260.8 596.7 1261.2C597.7 1261.6 598.7 1262.1 599.7 1262.6C600.7 1263.1 601.7 1263.7 602.7 1264.3C603.7 1265 604.7 1265.7 605.7 1266.4C606.7 1267.1 607.7 1267.8 608.7 1268.5C609.7 1269.2 610.7 1269.9 611.7 1270.6C612.7 1271.2 613.7 1271.8 614.7 1272.3C615.7 1272.9 616.7 1273.4 617.7 1273.9C618.7 1274.4 619.7 1274.9 620.7 1275.3C621.7 1275.8 622.7 1276.2 623.7 1276.5C624.7 1276.9 625.7 1277.1 626.7 1277.4C627.7 1277.7 628.7 1277.9 629.7 1278.1C630.7 1278.3 631.7 1278.5 632.7 1278.6C633.7 1278.7 634.7 1278.7 635.7 1278.7C636.7 1278.7 637.7 1278.7 638.7 1278.6C639.7 1278.5 640.7 1278.3 641.7 1278.1C642.7 1278 643.7 1277.8 644.7 1277.5C645.7 1277.2 646.7 1276.9 647.7 1276.5C648.7 1276.1 649.7 1275.6 650.7 1275.2C651.7 1274.7 652.7 1274.2 653.7 1273.7C654.7 1273.1 655.7 1272.6 656.7 1272C657.7 1271.3 658.7 1270.7 659.7 1269.9C660.7 1269.2 661.7 1268.3 662.7 1267.5C663.7 1266.6 664.7 1265.7 665.7 1264.7C666.7 1263.8 667.7 1262.8 668.7 1261.7C669.7 1260.6 670.7 1259.4 671.7 1258.2C672.7 1256.9 673.7 1255.6 674.7 1254.2C675.7 1252.9 676.7 1251.5 677.7 1250.1C678.7 1248.8 679.7 1247.4 680.7 1246C681.7 1244.7 682.7 1243.3 683.7 1242C684.7 1240.7 685.7 1239.3 686.7 1238C687.7 1236.7 688.7 1235.5 689.7 1234.2C690.7 1233 691.7 1231.8 692.7 1230.7C693.7 1229.5 694.7 1228.4 695.7 1227.3C696.7 1226.3 697.7 1225.2 698.7 1224.2C699.7 1223.2 700.7 1222.3 701.7 1221.5C702.7 1220.6 703.7 1219.9 704.7 1219.2C705.7 1218.5 706.7 1217.9 707.7 1217.3C708.7 1216.7 709.7 1216.2 710.7 1215.7C711.7 1215.2 712.7 1214.8 713.7 1214.4C714.7 1214 715.7 1213.7 716.7 1213.4C717.7 1213.1 718.7 1212.8 719.7 1212.6C720.7 1212.3 721.7 1212.1 722.7 1211.9C723.7 1211.8 724.7 1211.6 725.7 1211.5C726.7 1211.4 727.7 1211.4 728.7 1211.3C729.7 1211.2 730.7 1211.2 731.7 1211.2C732.7 1211.1 733.7 1211.1 734.7 1211.1C735.7 1211 736.7 1211 737.7 1211C738.7 1211 739.7 1211 740.7 1211.1C741.7 1211.1 742.7 1211.2 743.7 1211.3C744.7 1211.4 745.7 1211.5 746.7 1211.6C747.7 1211.7 748.7 1211.8 749.7 1212C750.7 1212.1 751.7 1212.3 752.7 1212.4C753.7 1212.6 754.7 1212.8 755.7 1213C756.7 1213.2 757.7 1213.5 758.7 1213.7C759.7 1214 760.7 1214.4 761.7 1214.7C762.7 1215.1 763.7 1215.5 764.7 1215.9C765.7 1216.3 766.7 1216.7 767.7 1217.2C768.7 1217.6 769.7 1218.1 770.7 1218.6C771.7 1219.1 772.7 1219.7 773.7 1220.3C774.7 1220.8 775.7 1221.4 776.7 1222C777.7 1222.6 778.7 1223.2 779.7 1223.8C780.7 1224.5 781.7 1225.2 782.7 1225.9C783.7 1226.5 784.7 1227.3 785.7 1228C786.7 1228.7 787.7 1229.5 788.7 1230.2C789.7 1231 790.7 1231.7 791.7 1232.5C792.7 1233.2 793.7 1234 794.7 1234.7C795.7 1235.5 796.7 1236.2 797.7 1237C798.7 1237.7 799.7 1238.5 800.7 1239.2C801.7 1239.9 802.7 1240.7 803.7 1241.4C804.7 1242.1 805.7 1242.8 806.7 1243.4C807.7 1244.1 808.7 1244.8 809.7 1245.4C810.7 1246.1 811.7 1246.7 812.7 1247.4C813.7 1248 814.7 1248.6 815.7 1249.1C816.7 1249.7 817.7 1250.2 818.7 1250.7C819.7 1251.3 820.7 1251.8 821.7 1252.2C822.7 1252.7 823.7 1253.2 824.7 1253.6C825.7 1254 826.7 1254.3 827.7 1254.7C828.7 1255 829.7 1255.3 830.7 1255.5C831.7 1255.8 832.7 1256 833.7 1256.2C834.7 1256.4 835.7 1256.6 836.7 1256.7C837.7 1256.8 838.7 1256.9 839.7 1256.9C840.7 1257 841.7 1257 842.7 1256.9C843.7 1256.9 844.7 1256.8 845.7 1256.7C846.7 1256.6 847.7 1256.4 848.7 1256.2C849.7 1256 850.7 1255.7 851.7 1255.4C852.7 1255 853.7 1254.7 854.7 1254.2C855.7 1253.8 856.7 1253.4 857.7 1252.9C858.7 1252.4 859.7 1251.9 860.7 1251.2C861.7 1250.6 862.7 1249.9 863.7 1249.2C864.7 1248.5 865.7 1247.8 866.7 1247C867.7 1246.2 868.7 1245.5 869.7 1244.6C870.7 1243.8 871.7 1243 872.7 1242.1C873.7 1241.2 874.7 1240.3 875.7 1239.4C876.7 1238.5 877.7 1237.6 878.7 1236.7C879.7 1235.7 880.7 1234.8 881.7 1233.9C882.7 1232.9 883.7 1231.9 884.7 1230.9C885.7 1230 886.7 1229 887.7 1228C888.7 1227 889.7 1226 890.7 1225.1C891.7 1224.1 892.7 1223.2 893.7 1222.3C894.7 1221.4 895.7 1220.5 896.7 1219.6C897.7 1218.8 898.7 1217.9 899.7 1217.1C900.7 1216.3 901.7 1215.5 902.7 1214.7C903.7 1213.9 904.7 1213.2 905.7 1212.5C906.7 1211.7 907.7 1211 908.7 1210.4C909.7 1209.7 910.7 1209 911.7 1208.4C912.7 1207.8 913.7 1207.1 914.7 1206.6C915.7 1206 916.7 1205.5 917.7 1205C918.7 1204.5 919.7 1204.1 920.7 1203.7C921.7 1203.2 922.7 1202.8 923.7 1202.4C924.7 1202.1 925.7 1201.7 926.7 1201.4C927.7 1201 928.7 1200.7 929.7 1200.5C930.7 1200.2 931.7 1199.9 932.7 1199.7C933.7 1199.4 934.7 1199.2 935.7 1199C936.7 1198.8 937.7 1198.6 938.7 1198.4C939.7 1198.2 940.7 1198.1 941.7 1198C942.7 1197.9 943.7 1197.7 944.7 1197.6C945.7 1197.5 946.7 1197.4 947.7 1197.4C948.7 1197.3 949.7 1197.2 950.7 1197.2C951.7 1197.1 952.7 1197.1 953.7 1197.1C954.7 1197 955.7 1197 956.7 1197C957.7 1197 958.7 1197 959.7 1197.1C960.7 1197.1 961.7 1197.1 962.7 1197.2C963.7 1197.2 964.7 1197.3 965.7 1197.4C966.7 1197.4 967.7 1197.5 968.7 1197.6C969.7 1197.7 970.7 1197.9 971.7 1198C972.7 1198.1 973.7 1198.3 974.7 1198.5C975.7 1198.6 976.7 1198.8 977.7 1199C978.7 1199.1 979.7 1199.3 980.7 1199.5C981.7 1199.7 982.7 1199.9 983.7 1200.1C984.7 1200.3 985.7 1200.5 986.7 1200.8C987.7 1201 988.7 1201.2 989.7 1201.4C990.7 1201.6 991.7 1201.8 992.7 1202C993.7 1202.2 994.7 1202.4 995.7 1202.6C996.7 1202.8 997.7 1203 998.7 1203.2C999.7 1203.3 1000.7 1203.5 1001.7 1203.7C1002.7 1203.9 1003.7 1204 1004.7 1204.2C1005.7 1204.3 1006.7 1204.4 1007.7 1204.5C1008.7 1204.6 1009.7 1204.7 1010.7 1204.8C1011.7 1204.8 1012.7 1204.9 1013.7 1204.9C1014.7 1205 1015.7 1205 1016.7 1205.1C1017.7 1205.1 1018.7 1205.1 1019.7 1205.1C1020.7 1205.1 1021.7 1205 1022.7 1205C1023.7 1204.9 1024.7 1204.8 1025.7 1204.8C1026.7 1204.7 1027.7 1204.6 1028.7 1204.5C1029.7 1204.5 1030.7 1204.4 1031.7 1204.3C1032.7 1204.2 1033.7 1204 1034.7 1203.9C1035.7 1203.8 1036.7 1203.6 1037.7 1203.5C1038.7 1203.3 1039.7 1203.2 1040.7 1203C1041.7 1202.9 1042.7 1202.7 1043.7 1202.6C1044.7 1202.5 1045.7 1202.3 1046.7 1202.2C1047.7 1202 1048.7 1201.9 1049.7 1201.8C1050.7 1201.6 1051.7 1201.5 1052.7 1201.4C1053.7 1201.3 1054.7 1201.1 1055.7 1201C1056.7 1200.9 1057.7 1200.8 1058.7 1200.6C1059.7 1200.5 1060.7 1200.4 1061.7 1200.3C1062.7 1200.2 1063.7 1200.1 1064.7 1200C1065.7 1199.9 1066.7 1199.8 1067.7 1199.6C1068.7 1199.5 1069.7 1199.4 1070.7 1199.3C1071.7 1199.2 1072.7 1199.1 1073.7 1199C1074.7 1198.9 1075.7 1198.8 1076.7 1198.7C1077.7 1198.6 1078.7 1198.4 1079.7 1198.3C1080.7 1198.1 1081.7 1198 1082.7 1197.9C1083.7 1197.7 1084.7 1197.6 1085.7 1197.4C1086.7 1197.3 1087.7 1197.1 1088.7 1196.9C1089.7 1196.8 1090.7 1196.6 1091.7 1196.5C1092.7 1196.3 1093.7 1196.1 1094.7 1195.9C1095.7 1195.8 1096.7 1195.6 1097.7 1195.4C1098.7 1195.2 1099.7 1195 1100.7 1194.8C1101.7 1194.6 1102.7 1194.5 1103.7 1194.3C1104.7 1194.1 1105.7 1193.9 1106.7 1193.7C1107.7 1193.5 1108.7 1193.3 1109.7 1193.1C1110.7 1193 1111.7 1192.8 1112.7 1192.6C1113.7 1192.4 1114.7 1192.2 1115.7 1192C1116.7 1191.8 1117.7 1191.6 1118.7 1191.5C1119.7 1191.3 1120.7 1191.1 1121.7 1190.9C1122.7 1190.7 1123.7 1190.5 1124.7 1190.3C1125.7 1190.1 1126.7 1190 1127.7 1189.8C1128.7 1189.6 1129.7 1189.4 1130.7 1189.2C1131.7 1189 1132.7 1188.8 1133.7 1188.7C1134.7 1188.5 1135.7 1188.3 1136.7 1188.1C1137.7 1188 1138.7 1187.8 1139.7 1187.6C1140.7 1187.5 1141.7 1187.3 1142.7 1187.2C1143.7 1187 1144.7 1186.9 1145.7 1186.7C1146.7 1186.6 1147.7 1186.4 1148.7 1186.3C1149.7 1186.1 1150.7 1186 1151.7 1185.8C1152.7 1185.7 1153.7 1185.5 1154.7 1185.4C1155.7 1185.3 1156.7 1185.1 1157.7 1185C1158.7 1184.8 1159.7 1184.7 1160.7 1184.6C1161.7 1184.4 1162.7 1184.3 1163.7 1184.2C1164.7 1184.1 1165.7 1184.1 1166.7 1184C1167.7 1184 1168.7 1183.9 1169.7 1183.9C1170.7 1183.9 1171.7 1183.9 1172.7 1183.9C1173.7 1183.8 1175.2 1183.8 1175.7 1183.8" fill="none" stroke="#007800" stroke-width="3.6" stroke-linecap="round" stroke-linejoin="round"/>
<path d="M118.4 1236.6C118.9 1236.7 120.4 1236.8 121.4 1236.9C122.4 1237 123.4 1237.1 124.4 1237.2C125.4 1237.3 126.4 1237.4 127.4 1237.5C128.4 1237.6 129.4 1237.7 130.4 1237.8C131.4 1238 132.4 1238.1 133.4 1238.2C134.4 1238.4 135.4 1238.5 136.4 1238.7C137.4 1238.8 138.4 1239 139.4 1239.1C140.4 1239.3 141.4 1239.5 142.4 1239.6C143.4 1239.8 144.4 1240 145.4 1240.2C146.4 1240.4 147.4 1240.6 148.4 1240.8C149.4 1241.1 150.4 1241.3 151.4 1241.5C152.4 1241.7 153.4 1241.9 154.4 1242.2C155.4 1242.4 156.4 1242.6 157.4 1242.9C158.4 1243.1 159.4 1243.4 160.4 1243.7C161.4 1244 162.4 1244.2 163.4 1244.5C164.4 1244.8 165.4 1245.1 166.4 1245.4C167.4 1245.7 168.4 1246 169.4 1246.3C170.4 1246.6 171.4 1246.9 172.4 1247.3C173.4 1247.6 174.4 1248 175.4 1248.3C176.4 1248.7 177.4 1249.1 178.4 1249.4C179.4 1249.8 180.4 1250.2 181.4 1250.6C182.4 1250.9 183.4 1251.3 184.4 1251.7C185.4 1252.1 186.4 1252.5 187.4 1252.9C188.4 1253.3 189.4 1253.7 190.4 1254.1C191.4 1254.5 192.4 1254.9 193.4 1255.3C194.4 1255.7 195.4 1256.1 196.4 1256.6C197.4 1257 198.4 1257.4 199.4 1257.8C200.4 1258.2 201.4 1258.7 202.4 1259.1C203.4 1259.5 204.4 1259.9 205.4 1260.4C206.4 1260.8 207.4 1261.2 208.4 1261.7C209.4 1262.1 210.4 1262.6 211.4 1263C212.4 1263.4 213.4 1263.9 214.4 1264.3C215.4 1264.7 216.4 1265.2 217.4 1265.6C218.4 1266.1 219.4 1266.5 220.4 1266.9C221.4 1267.4 222.4 1267.8 223.4 1268.2C224.4 1268.7 225.4 1269.1 226.4 1269.6C227.4 1270 228.4 1270.4 229.4 1270.9C230.4 1271.3 231.4 1271.8 232.4 1272.2C233.4 1272.7 234.4 1273.1 235.4 1273.6C236.4 1274.1 237.4 1274.5 238.4 1275C239.4 1275.4 240.4 1275.9 241.4 1276.4C242.4 1276.8 243.4 1277.3 244.4 1277.7C245.4 1278.2 246.4 1278.6 247.4 1279.1C248.4 1279.5 249.4 1280 250.4 1280.4C251.4 1280.9 252.4 1281.3 253.4 1281.7C254.4 1282.2 255.4 1282.6 256.4 1283.1C257.4 1283.5 258.4 1284 259.4 1284.4C260.4 1284.9 261.4 1285.3 262.4 1285.8C263.4 1286.3 264.4 1286.8 265.4 1287.3C266.4 1287.8 267.4 1288.3 268.4 1288.8C269.4 1289.3 270.4 1289.8 271.4 1290.3C272.4 1290.8 273.4 1291.3 274.4 1291.9C275.4 1292.4 276.4 1292.9 277.4 1293.5C278.4 1294.1 279.4 1294.6 280.4 1295.2C281.4 1295.8 282.4 1296.3 283.4 1296.9C284.4 1297.5 285.4 1298.1 286.4 1298.7C287.4 1299.3 288.4 1300 289.4 1300.6C290.4 1301.3 291.4 1302 292.4 1302.6C293.4 1303.3 294.4 1304 295.4 1304.7C296.4 1305.4 297.4 1306.1 298.4 1306.8C299.4 1307.5 300.4 1308.2 301.4 1308.9C302.4 1309.6 303.4 1310.4 304.4 1311.1C305.4 1311.8 306.4 1312.6 307.4 1313.3C308.4 1314.1 309.4 1314.8 310.4 1315.6C311.4 1316.3 312.4 1317.1 313.4 1317.9C314.4 1318.7 315.4 1319.5 316.4 1320.3C317.4 1321.1 318.4 1321.9 319.4 1322.7C320.4 1323.5 321.4 1324.2 322.4 1324.9C323.4 1325.7 324.4 1326.4 325.4 1327.1C326.4 1327.8 327.4 1328.5 328.4 1329.2C329.4 1329.9 330.4 1330.7 331.4 1331.4C332.4 1332.1 333.4 1332.8 334.4 1333.5C335.4 1334.2 336.4 1334.9 337.4 1335.6C338.4 1336.2 339.4 1336.8 340.4 1337.4C341.4 1337.9 342.4 1338.4 343.4 1338.9C344.4 1339.4 345.4 1339.8 346.4 1340.1C347.4 1340.5 348.4 1340.8 349.4 1341C350.4 1341.2 351.4 1341.4 352.4 1341.5C353.4 1341.6 354.4 1341.7 355.4 1341.7C356.4 1341.8 357.4 1341.7 358.4 1341.7C359.4 1341.6 360.4 1341.5 361.4 1341.4C362.4 1341.2 363.4 1341.1 364.4 1340.9C365.4 1340.7 366.4 1340.5 367.4 1340.2C368.4 1339.9 369.4 1339.6 370.4 1339.3C371.4 1338.9 372.4 1338.5 373.4 1338.1C374.4 1337.7 375.4 1337.3 376.4 1336.8C377.4 1336.4 378.4 1336 379.4 1335.5C380.4 1335 381.4 1334.5 382.4 1334C383.4 1333.5 384.4 1333 385.4 1332.4C386.4 1331.9 387.4 1331.3 388.4 1330.7C389.4 1330.2 390.4 1329.6 391.4 1329C392.4 1328.4 393.4 1327.8 394.4 1327.2C395.4 1326.6 396.4 1326 397.4 1325.4C398.4 1324.8 399.4 1324.1 400.4 1323.5C401.4 1322.8 402.4 1322.2 403.4 1321.5C404.4 1320.9 405.4 1320.2 406.4 1319.5C407.4 1318.8 408.4 1318.1 409.4 1317.4C410.4 1316.6 411.4 1315.9 412.4 1315.1C413.4 1314.3 414.4 1313.5 415.4 1312.7C416.4 1312 417.4 1311.2 418.4 1310.4C419.4 1309.6 420.4 1308.8 421.4 1308C422.4 1307.2 423.4 1306.5 424.4 1305.7C425.4 1304.9 426.4 1304.1 427.4 1303.3C428.4 1302.5 429.4 1301.7 430.4 1301C431.4 1300.2 432.4 1299.4 433.4 1298.6C434.4 1297.8 435.4 1297 436.4 1296.2C437.4 1295.5 438.4 1294.7 439.4 1293.9C440.4 1293.1 441.4 1292.3 442.4 1291.6C443.4 1290.8 444.4 1290 445.4 1289.3C446.4 1288.5 447.4 1287.8 448.4 1287.1C449.4 1286.4 450.4 1285.8 451.4 1285.1C452.4 1284.5 453.4 1283.8 454.4 1283.2C455.4 1282.5 456.4 1281.9 457.4 1281.3C458.4 1280.7 459.4 1280 460.4 1279.4C461.4 1278.8 462.4 1278.2 463.4 1277.6C464.4 1277.1 465.4 1276.5 466.4 1275.9C467.4 1275.3 468.4 1274.8 469.4 1274.2C470.4 1273.7 471.4 1273.1 472.4 1272.6C473.4 1272.1 474.4 1271.6 475.4 1271.1C476.4 1270.6 477.4 1270.1 478.4 1269.7C479.4 1269.2 480.4 1268.8 481.4 1268.3C482.4 1267.8 483.4 1267.4 484.4 1267C485.4 1266.5 486.4 1266.1 487.4 1265.7C488.4 1265.2 489.4 1264.8 490.4 1264.4C491.4 1264 492.4 1263.6 493.4 1263.2C494.4 1262.8 495.4 1262.4 496.4 1262C497.4 1261.6 498.4 1261.3 499.4 1260.9C500.4 1260.5 501.4 1260.1 502.4 1259.8C503.4 1259.4 504.4 1259 505.4 1258.7C506.4 1258.3 507.4 1258 508.4 1257.6C509.4 1257.3 510.4 1256.9 511.4 1256.6C512.4 1256.2 513.4 1255.9 514.4 1255.5C515.4 1255.2 516.4 1254.9 517.4 1254.6C518.4 1254.2 519.4 1253.9 520.4 1253.6C521.4 1253.3 522.4 1253 523.4 1252.7C524.4 1252.4 525.4 1252.1 526.4 1251.9C527.4 1251.7 528.4 1251.5 529.4 1251.3C530.4 1251.1 531.4 1250.9 532.4 1250.7C533.4 1250.6 534.4 1250.4 535.4 1250.2C536.4 1250.1 537.4 1249.9 538.4 1249.8C539.4 1249.6 540.4 1249.5 541.4 1249.4C542.4 1249.2 543.4 1249.1 544.4 1249C545.4 1248.8 546.4 1248.7 547.4 1248.6C548.4 1248.5 549.4 1248.4 550.4 1248.2C551.4 1248.1 552.4 1248 553.4 1247.9C554.4 1247.9 555.4 1247.8 556.4 1247.7C557.4 1247.6 558.4 1247.5 559.4 1247.5C560.4 1247.4 561.4 1247.3 562.4 1247.2C563.4 1247.2 564.4 1247.1 565.4 1247.1C566.4 1247 567.4 1247 568.4 1246.9C569.4 1246.9 570.4 1246.8 571.4 1246.8C572.4 1246.8 573.4 1246.7 574.4 1246.7C575.4 1246.7 576.4 1246.7 577.4 1246.6C578.4 1246.6 579.4 1246.6 580.4 1246.6C581.4 1246.6 582.4 1246.6 583.4 1246.6C584.4 1246.6 585.4 1246.6 586.4 1246.6C587.4 1246.6 588.4 1246.7 589.4 1246.7C590.4 1246.7 591.4 1246.7 592.4 1246.8C593.4 1246.8 594.4 1246.8 595.4 1246.9C596.4 1246.9 597.4 1247 598.4 1247C599.4 1247.1 600.4 1247.2 601.4 1247.3C602.4 1247.3 603.4 1247.4 604.4 1247.5C605.4 1247.6 606.4 1247.7 607.4 1247.8C608.4 1247.9 609.4 1248 610.4 1248.1C611.4 1248.2 612.4 1248.3 613.4 1248.5C614.4 1248.6 615.4 1248.8 616.4 1248.9C617.4 1249.1 618.4 1249.2 619.4 1249.4C620.4 1249.5 621.4 1249.7 622.4 1249.9C623.4 1250 624.4 1250.2 625.4 1250.4C626.4 1250.5 627.4 1250.7 628.4 1250.9C629.4 1251.1 630.4 1251.3 631.4 1251.4C632.4 1251.6 633.4 1251.8 634.4 1252C635.4 1252.2 636.4 1252.4 637.4 1252.6C638.4 1252.8 639.4 1253 640.4 1253.2C641.4 1253.4 642.4 1253.6 643.4 1253.8C644.4 1254 645.4 1254.3 646.4 1254.5C647.4 1254.8 648.4 1255 649.4 1255.3C650.4 1255.5 651.4 1255.8 652.4 1256C653.4 1256.3 654.4 1256.5 655.4 1256.8C656.4 1257.1 657.4 1257.4 658.4 1257.7C659.4 1258 660.4 1258.3 661.4 1258.6C662.4 1258.9 663.4 1259.2 664.4 1259.5C665.4 1259.8 666.4 1260.1 667.4 1260.4C668.4 1260.7 669.4 1261.1 670.4 1261.4C671.4 1261.7 672.4 1262 673.4 1262.4C674.4 1262.7 675.4 1263 676.4 1263.4C677.4 1263.7 678.4 1264 679.4 1264.4C680.4 1264.7 681.4 1265 682.4 1265.4C683.4 1265.7 684.4 1266 685.4 1266.4C686.4 1266.7 687.4 1267 688.4 1267.4C689.4 1267.7 690.4 1268 691.4 1268.4C692.4 1268.7 693.4 1269 694.4 1269.3C695.4 1269.7 696.4 1270 697.4 1270.3C698.4 1270.6 699.4 1271 700.4 1271.3C701.4 1271.6 702.4 1272 703.4 1272.3C704.4 1272.6 705.4 1273 706.4 1273.3C707.4 1273.6 708.4 1274 709.4 1274.3C710.4 1274.6 711.4 1275 712.4 1275.3C713.4 1275.7 714.4 1276 715.4 1276.4C716.4 1276.7 717.4 1277.1 718.4 1277.4C719.4 1277.8 720.4 1278.2 721.4 1278.5C722.4 1278.9 723.4 1279.3 724.4 1279.7C725.4 1280 726.4 1280.4 727.4 1280.8C728.4 1281.2 729.4 1281.6 730.4 1282C731.4 1282.4 732.4 1282.8 733.4 1283.2C734.4 1283.6 735.4 1284 736.4 1284.4C737.4 1284.8 738.4 1285.2 739.4 1285.6C740.4 1286 741.4 1286.3 742.4 1286.7C743.4 1287 744.4 1287.3 745.4 1287.6C746.4 1287.9 747.4 1288.2 748.4 1288.5C749.4 1288.8 750.4 1289.1 751.4 1289.4C752.4 1289.7 753.4 1290 754.4 1290.3C755.4 1290.6 756.4 1290.9 757.4 1291.3C758.4 1291.6 759.4 1292 760.4 1292.4C761.4 1292.8 762.4 1293.2 763.4 1293.7C764.4 1294.1 765.4 1294.6 766.4 1295C767.4 1295.5 768.4 1295.9 769.4 1296.4C770.4 1296.9 771.4 1297.4 772.4 1297.8C773.4 1298.3 774.4 1298.8 775.4 1299.2C776.4 1299.7 777.4 1300.2 778.4 1300.7C779.4 1301.2 780.4 1301.7 781.4 1302.1C782.4 1302.6 783.4 1303.1 784.4 1303.6C785.4 1304.1 786.4 1304.6 787.4 1305.1C788.4 1305.6 789.4 1306.1 790.4 1306.6C791.4 1307.1 792.4 1307.5 793.4 1308C794.4 1308.5 795.4 1308.9 796.4 1309.4C797.4 1309.8 798.4 1310.2 799.4 1310.7C800.4 1311.1 801.4 1311.6 802.4 1312C803.4 1312.4 804.4 1312.8 805.4 1313.2C806.4 1313.6 807.4 1314 808.4 1314.4C809.4 1314.7 810.4 1315.1 811.4 1315.4C812.4 1315.7 813.4 1316 814.4 1316.3C815.4 1316.7 816.4 1317 817.4 1317.3C818.4 1317.6 819.4 1317.9 820.4 1318.2C821.4 1318.4 822.4 1318.7 823.4 1319C824.4 1319.2 825.4 1319.5 826.4 1319.7C827.4 1319.9 828.4 1320.2 829.4 1320.4C830.4 1320.6 831.4 1320.8 832.4 1321.1C833.4 1321.3 834.4 1321.5 835.4 1321.7C836.4 1321.9 837.4 1322.1 838.4 1322.3C839.4 1322.4 840.4 1322.6 841.4 1322.8C842.4 1322.9 843.4 1323.1 844.4 1323.2C845.4 1323.4 846.4 1323.5 847.4 1323.7C848.4 1323.8 849.4 1323.9 850.4 1324.1C851.4 1324.2 852.4 1324.3 853.4 1324.4C854.4 1324.5 855.4 1324.6 856.4 1324.6C857.4 1324.7 858.4 1324.8 859.4 1324.8C860.4 1324.9 861.4 1325 862.4 1325C863.4 1325.1 864.4 1325.1 865.4 1325.2C866.4 1325.2 867.4 1325.2 868.4 1325.3C869.4 1325.3 870.4 1325.3 871.4 1325.3C872.4 1325.4 873.4 1325.4 874.4 1325.4C875.4 1325.4 876.4 1325.4 877.4 1325.4C878.4 1325.4 879.4 1325.4 880.4 1325.4C881.4 1325.4 882.4 1325.4 883.4 1325.4C884.4 1325.4 885.4 1325.3 886.4 1325.3C887.4 1325.3 888.4 1325.2 889.4 1325.2C890.4 1325.2 891.4 1325.1 892.4 1325.1C893.4 1325 894.4 1325 895.4 1324.9C896.4 1324.8 897.4 1324.8 898.4 1324.7C899.4 1324.6 900.4 1324.5 901.4 1324.3C902.4 1324.2 903.4 1324.1 904.4 1324C905.4 1323.9 906.4 1323.7 907.4 1323.6C908.4 1323.5 909.4 1323.3 910.4 1323.2C911.4 1323 912.4 1322.9 913.4 1322.7C914.4 1322.5 915.4 1322.4 916.4 1322.2C917.4 1322 918.4 1321.8 919.4 1321.6C920.4 1321.4 921.4 1321.3 922.4 1321.1C923.4 1320.9 924.4 1320.7 925.4 1320.5C926.4 1320.3 927.4 1320.1 928.4 1319.9C929.4 1319.7 930.4 1319.5 931.4 1319.3C932.4 1319.1 933.4 1318.9 934.4 1318.7C935.4 1318.5 936.4 1318.3 937.4 1318.1C938.4 1317.9 939.4 1317.8 940.4 1317.6C941.4 1317.4 942.4 1317.2 943.4 1317.1C944.4 1317 945.4 1316.8 946.4 1316.7C947.4 1316.6 948.4 1316.5 949.4 1316.4C950.4 1316.2 951.4 1316.2 952.4 1316.1C953.4 1316 954.4 1315.9 955.4 1315.8C956.4 1315.8 957.4 1315.7 958.4 1315.7C959.4 1315.6 960.4 1315.6 961.4 1315.6C962.4 1315.5 963.4 1315.5 964.4 1315.5C965.4 1315.5 966.4 1315.4 967.4 1315.4C968.4 1315.4 969.4 1315.4 970.4 1315.4C971.4 1315.3 972.4 1315.3 973.4 1315.3C974.4 1315.2 975.4 1315.2 976.4 1315.2C977.4 1315.1 978.4 1315.1 979.4 1315.1C980.4 1315 981.4 1315 982.4 1315C983.4 1314.9 984.4 1314.9 985.4 1314.9C986.4 1314.9 987.4 1314.8 988.4 1314.8C989.4 1314.8 990.4 1314.8 991.4 1314.7C992.4 1314.7 993.4 1314.7 994.4 1314.7C995.4 1314.6 996.4 1314.6 997.4 1314.6C998.4 1314.5 999.4 1314.5 1000.4 1314.4C1001.4 1314.4 1002.4 1314.4 1003.4 1314.3C1004.4 1314.3 1005.4 1314.3 1006.4 1314.2C1007.4 1314.2 1008.4 1314.1 1009.4 1314.1C1010.4 1314.1 1011.4 1314 1012.4 1314C1013.4 1313.9 1014.4 1313.9 1015.4 1313.8C1016.4 1313.8 1017.4 1313.7 1018.4 1313.7C1019.4 1313.6 1020.4 1313.6 1021.4 1313.5C1022.4 1313.5 1023.4 1313.4 1024.4 1313.4C1025.4 1313.3 1026.4 1313.3 1027.4 1313.2C1028.4 1313.1 1029.4 1313.1 1030.4 1313C1031.4 1313 1032.4 1312.9 1033.4 1312.9C1034.4 1312.8 1035.4 1312.7 1036.4 1312.7C1037.4 1312.6 1038.4 1312.5 1039.4 1312.5C1040.4 1312.4 1041.4 1312.3 1042.4 1312.3C1043.4 1312.2 1044.4 1312.1 1045.4 1312C1046.4 1312 1047.4 1311.9 1048.4 1311.8C1049.4 1311.7 1050.4 1311.6 1051.4 1311.5C1052.4 1311.4 1053.4 1311.4 1054.4 1311.3C1055.4 1311.2 1056.4 1311.1 1057.4 1311C1058.4 1310.9 1059.4 1310.8 1060.4 1310.7C1061.4 1310.6 1062.4 1310.5 1063.4 1310.4C1064.4 1310.3 1065.4 1310.2 1066.4 1310.1C1067.4 1310 1068.4 1309.9 1069.4 1309.8C1070.4 1309.7 1071.4 1309.6 1072.4 1309.5C1073.4 1309.4 1074.4 1309.3 1075.4 1309.2C1076.4 1309.1 1077.4 1309 1078.4 1308.9C1079.4 1308.8 1080.4 1308.7 1081.4 1308.6C1082.4 1308.5 1083.4 1308.4 1084.4 1308.3C1085.4 1308.2 1086.4 1308.1 1087.4 1308C1088.4 1307.8 1089.4 1307.7 1090.4 1307.6C1091.4 1307.4 1092.4 1307.3 1093.4 1307.1C1094.4 1307 1095.4 1306.8 1096.4 1306.7C1097.4 1306.5 1098.4 1306.4 1099.4 1306.2C1100.4 1306.1 1101.4 1305.9 1102.4 1305.8C1103.4 1305.6 1104.4 1305.4 1105.4 1305.2C1106.4 1305.1 1107.4 1304.9 1108.4 1304.7C1109.4 1304.5 1110.4 1304.3 1111.4 1304.1C1112.4 1304 1113.4 1303.8 1114.4 1303.6C1115.4 1303.4 1116.4 1303.2 1117.4 1303C1118.4 1302.8 1119.4 1302.6 1120.4 1302.5C1121.4 1302.3 1122.4 1302.1 1123.4 1301.9C1124.4 1301.7 1125.4 1301.5 1126.4 1301.3C1127.4 1301.1 1128.4 1300.9 1129.4 1300.7C1130.4 1300.5 1131.4 1300.3 1132.4 1300.1C1133.4 1299.9 1134.4 1299.7 1135.4 1299.5C1136.4 1299.2 1137.4 1299 1138.4 1298.7C1139.4 1298.5 1140.4 1298.2 1141.4 1298C1142.4 1297.7 1143.4 1297.5 1144.4 1297.2C1145.4 1297 1146.4 1296.7 1147.4 1296.5C1148.4 1296.2 1149.4 1296 1150.4 1295.7C1151.4 1295.5 1152.4 1295.2 1153.4 1295C1154.4 1294.7 1155.4 1294.5 1156.4 1294.2C1157.4 1294 1158.4 1293.7 1159.4 1293.5C1160.4 1293.3 1161.4 1293 1162.4 1292.8C1163.4 1292.6 1164.4 1292.4 1165.4 1292.2C1166.4 1292 1167.4 1291.8 1168.4 1291.6C1169.4 1291.4 1170.4 1291.3 1171.4 1291.1C1172.4 1290.9 1173.7 1290.7 1174.4 1290.5C1175.1 1290.4 1175.2 1290.3 1175.4 1290.3" fill="none" stroke="#0066c4" stroke-width="3.6" stroke-linecap="round" stroke-linejoin="round"/>
<path d="M118.4 1235.7C118.9 1235.6 120.4 1235.2 121.4 1234.9C122.4 1234.7 123.4 1234.5 124.4 1234.4C125.4 1234.2 126.4 1234 127.4 1233.9C128.4 1233.7 129.4 1233.6 130.4 1233.5C131.4 1233.4 132.4 1233.3 133.4 1233.2C134.4 1233.2 135.4 1233.1 136.4 1233.1C137.4 1233.1 138.4 1233.1 139.4 1233.1C140.4 1233.2 141.4 1233.2 142.4 1233.3C143.4 1233.4 144.4 1233.6 145.4 1233.7C146.4 1233.8 147.4 1234 148.4 1234.1C149.4 1234.3 150.4 1234.5 151.4 1234.6C152.4 1234.8 153.4 1235.1 154.4 1235.3C155.4 1235.5 156.4 1235.8 157.4 1236.1C158.4 1236.3 159.4 1236.6 160.4 1236.9C161.4 1237.2 162.4 1237.5 163.4 1237.8C164.4 1238.1 165.4 1238.5 166.4 1238.8C167.4 1239.2 168.4 1239.6 169.4 1240C170.4 1240.4 171.4 1240.8 172.4 1241.2C173.4 1241.7 174.4 1242.1 175.4 1242.6C176.4 1243 177.4 1243.5 178.4 1244C179.4 1244.4 180.4 1245 181.4 1245.5C182.4 1246 183.4 1246.6 184.4 1247.1C185.4 1247.7 186.4 1248.3 187.4 1248.9C188.4 1249.4 189.4 1250 190.4 1250.6C191.4 1251.2 192.4 1251.8 193.4 1252.4C194.4 1253 195.4 1253.7 196.4 1254.3C197.4 1254.9 198.4 1255.6 199.4 1256.2C200.4 1256.9 201.4 1257.5 202.4 1258.2C203.4 1258.8 204.4 1259.5 205.4 1260.2C206.4 1260.9 207.4 1261.6 208.4 1262.3C209.4 1263 210.4 1263.7 211.4 1264.4C212.4 1265.1 213.4 1265.8 214.4 1266.5C215.4 1267.2 216.4 1267.9 217.4 1268.6C218.4 1269.3 219.4 1270 220.4 1270.6C221.4 1271.3 222.4 1271.9 223.4 1272.6C224.4 1273.2 225.4 1273.9 226.4 1274.5C227.4 1275.1 228.4 1275.8 229.4 1276.4C230.4 1277 231.4 1277.6 232.4 1278.2C233.4 1278.8 234.4 1279.4 235.4 1280C236.4 1280.6 237.4 1281.2 238.4 1281.7C239.4 1282.3 240.4 1282.8 241.4 1283.4C242.4 1283.9 243.4 1284.5 244.4 1285C245.4 1285.5 246.4 1285.9 247.4 1286.4C248.4 1286.8 249.4 1287.3 250.4 1287.7C251.4 1288.1 252.4 1288.6 253.4 1289C254.4 1289.4 255.4 1289.8 256.4 1290.1C257.4 1290.4 258.4 1290.8 259.4 1291C260.4 1291.3 261.4 1291.6 262.4 1291.8C263.4 1292 264.4 1292.2 265.4 1292.4C266.4 1292.7 267.4 1292.9 268.4 1293C269.4 1293.2 270.4 1293.4 271.4 1293.5C272.4 1293.6 273.4 1293.8 274.4 1293.9C275.4 1294 276.4 1294 277.4 1294.1C278.4 1294.2 279.4 1294.2 280.4 1294.2C281.4 1294.3 282.4 1294.2 283.4 1294.2C284.4 1294.2 285.4 1294.1 286.4 1294C287.4 1293.9 288.4 1293.7 289.4 1293.6C290.4 1293.4 291.4 1293.2 292.4 1292.9C293.4 1292.7 294.4 1292.4 295.4 1292.1C296.4 1291.8 297.4 1291.4 298.4 1291.1C299.4 1290.8 300.4 1290.5 301.4 1290.1C302.4 1289.8 303.4 1289.5 304.4 1289.1C305.4 1288.8 306.4 1288.5 307.4 1288.1C308.4 1287.8 309.4 1287.5 310.4 1287.2C311.4 1286.9 312.4 1286.6 313.4 1286.4C314.4 1286.1 315.4 1285.9 316.4 1285.7C317.4 1285.5 318.4 1285.3 319.4 1285.2C320.4 1285 321.4 1284.9 322.4 1284.8C323.4 1284.7 324.4 1284.6 325.4 1284.5C326.4 1284.5 327.4 1284.4 328.4 1284.4C329.4 1284.4 330.4 1284.3 331.4 1284.3C332.4 1284.3 333.4 1284.4 334.4 1284.4C335.4 1284.4 336.4 1284.5 337.4 1284.5C338.4 1284.5 339.4 1284.6 340.4 1284.7C341.4 1284.7 342.4 1284.8 343.4 1284.9C344.4 1285 345.4 1285.2 346.4 1285.3C347.4 1285.5 348.4 1285.6 349.4 1285.8C350.4 1286 351.4 1286.2 352.4 1286.4C353.4 1286.6 354.4 1286.8 355.4 1287.1C356.4 1287.3 357.4 1287.5 358.4 1287.8C359.4 1288 360.4 1288.3 361.4 1288.6C362.4 1288.9 363.4 1289.1 364.4 1289.4C365.4 1289.7 366.4 1290 367.4 1290.3C368.4 1290.6 369.4 1290.9 370.4 1291.2C371.4 1291.5 372.4 1291.9 373.4 1292.2C374.4 1292.5 375.4 1292.9 376.4 1293.3C377.4 1293.6 378.4 1294 379.4 1294.4C380.4 1294.7 381.4 1295.1 382.4 1295.5C383.4 1295.9 384.4 1296.3 385.4 1296.7C386.4 1297.1 387.4 1297.5 388.4 1298C389.4 1298.5 390.4 1298.9 391.4 1299.4C392.4 1299.9 393.4 1300.4 394.4 1300.9C395.4 1301.4 396.4 1301.9 397.4 1302.4C398.4 1303 399.4 1303.5 400.4 1304.1C401.4 1304.7 402.4 1305.3 403.4 1305.9C404.4 1306.5 405.4 1307.1 406.4 1307.8C407.4 1308.4 408.4 1309.1 409.4 1309.7C410.4 1310.4 411.4 1311 412.4 1311.7C413.4 1312.4 414.4 1313.1 415.4 1313.7C416.4 1314.4 417.4 1315.1 418.4 1315.9C419.4 1316.6 420.4 1317.3 421.4 1318C422.4 1318.7 423.4 1319.4 424.4 1320.1C425.4 1320.8 426.4 1321.6 427.4 1322.3C428.4 1323 429.4 1323.7 430.4 1324.4C431.4 1325.1 432.4 1325.8 433.4 1326.5C434.4 1327.2 435.4 1327.9 436.4 1328.6C437.4 1329.2 438.4 1329.9 439.4 1330.4C440.4 1331 441.4 1331.5 442.4 1332C443.4 1332.5 444.4 1332.9 445.4 1333.3C446.4 1333.7 447.4 1334.1 448.4 1334.5C449.4 1334.8 450.4 1335.1 451.4 1335.4C452.4 1335.6 453.4 1335.8 454.4 1336C455.4 1336.2 456.4 1336.4 457.4 1336.5C458.4 1336.6 459.4 1336.8 460.4 1336.9C461.4 1337 462.4 1337 463.4 1337.1C464.4 1337.1 465.4 1337.1 466.4 1337C467.4 1337 468.4 1336.9 469.4 1336.8C470.4 1336.7 471.4 1336.5 472.4 1336.4C473.4 1336.3 474.4 1336.1 475.4 1335.9C476.4 1335.8 477.4 1335.5 478.4 1335.3C479.4 1335.1 480.4 1334.8 481.4 1334.5C482.4 1334.2 483.4 1333.9 484.4 1333.6C485.4 1333.3 486.4 1332.9 487.4 1332.6C488.4 1332.3 489.4 1332 490.4 1331.7C491.4 1331.4 492.4 1331.1 493.4 1330.8C494.4 1330.5 495.4 1330.3 496.4 1330C497.4 1329.7 498.4 1329.4 499.4 1329.1C500.4 1328.8 501.4 1328.5 502.4 1328.3C503.4 1328 504.4 1327.7 505.4 1327.4C506.4 1327.1 507.4 1326.8 508.4 1326.5C509.4 1326.3 510.4 1326 511.4 1325.7C512.4 1325.4 513.4 1325.1 514.4 1324.8C515.4 1324.5 516.4 1324.2 517.4 1323.9C518.4 1323.6 519.4 1323.2 520.4 1322.9C521.4 1322.6 522.4 1322.2 523.4 1321.9C524.4 1321.6 525.4 1321.2 526.4 1320.9C527.4 1320.6 528.4 1320.2 529.4 1319.9C530.4 1319.6 531.4 1319.3 532.4 1318.9C533.4 1318.6 534.4 1318.3 535.4 1317.9C536.4 1317.6 537.4 1317.3 538.4 1317C539.4 1316.6 540.4 1316.3 541.4 1316C542.4 1315.7 543.4 1315.3 544.4 1315C545.4 1314.6 546.4 1314.3 547.4 1314C548.4 1313.6 549.4 1313.2 550.4 1312.8C551.4 1312.5 552.4 1312.1 553.4 1311.7C554.4 1311.3 555.4 1310.9 556.4 1310.5C557.4 1310.1 558.4 1309.6 559.4 1309.2C560.4 1308.9 561.4 1308.4 562.4 1308.1C563.4 1307.7 564.4 1307.3 565.4 1306.9C566.4 1306.6 567.4 1306.2 568.4 1305.9C569.4 1305.5 570.4 1305.2 571.4 1304.9C572.4 1304.6 573.4 1304.3 574.4 1304.1C575.4 1303.8 576.4 1303.5 577.4 1303.2C578.4 1303 579.4 1302.7 580.4 1302.5C581.4 1302.2 582.4 1302 583.4 1301.8C584.4 1301.6 585.4 1301.3 586.4 1301.1C587.4 1300.9 588.4 1300.7 589.4 1300.5C590.4 1300.3 591.4 1300.1 592.4 1299.9C593.4 1299.7 594.4 1299.5 595.4 1299.3C596.4 1299.1 597.4 1298.8 598.4 1298.6C599.4 1298.4 600.4 1298.2 601.4 1297.9C602.4 1297.7 603.4 1297.5 604.4 1297.3C605.4 1297 606.4 1296.8 607.4 1296.5C608.4 1296.3 609.4 1296 610.4 1295.8C611.4 1295.5 612.4 1295.2 613.4 1294.9C614.4 1294.7 615.4 1294.4 616.4 1294.1C617.4 1293.8 618.4 1293.5 619.4 1293.3C620.4 1293 621.4 1292.8 622.4 1292.6C623.4 1292.3 624.4 1292.1 625.4 1291.9C626.4 1291.7 627.4 1291.5 628.4 1291.4C629.4 1291.2 630.4 1291 631.4 1290.8C632.4 1290.7 633.4 1290.5 634.4 1290.4C635.4 1290.3 636.4 1290.2 637.4 1290.1C638.4 1290 639.4 1289.9 640.4 1289.8C641.4 1289.8 642.4 1289.7 643.4 1289.7C644.4 1289.6 645.4 1289.5 646.4 1289.5C647.4 1289.5 648.4 1289.4 649.4 1289.4C650.4 1289.4 651.4 1289.4 652.4 1289.4C653.4 1289.4 654.4 1289.5 655.4 1289.5C656.4 1289.5 657.4 1289.6 658.4 1289.6C659.4 1289.6 660.4 1289.7 661.4 1289.7C662.4 1289.8 663.4 1289.8 664.4 1289.8C665.4 1289.9 666.4 1289.9 667.4 1289.9C668.4 1290 669.4 1290 670.4 1290.1C671.4 1290.1 672.4 1290.1 673.4 1290.2C674.4 1290.2 675.4 1290.2 676.4 1290.3C677.4 1290.3 678.4 1290.3 679.4 1290.3C680.4 1290.3 681.4 1290.3 682.4 1290.2C683.4 1290.2 684.4 1290.2 685.4 1290.2C686.4 1290.1 687.4 1290.1 688.4 1290C689.4 1290 690.4 1290 691.4 1289.9C692.4 1289.8 693.4 1289.8 694.4 1289.7C695.4 1289.6 696.4 1289.5 697.4 1289.3C698.4 1289.2 699.4 1289.1 700.4 1288.9C701.4 1288.8 702.4 1288.7 703.4 1288.5C704.4 1288.3 705.4 1288.2 706.4 1288C707.4 1287.8 708.4 1287.5 709.4 1287.3C710.4 1287.1 711.4 1286.8 712.4 1286.5C713.4 1286.2 714.4 1285.9 715.4 1285.6C716.4 1285.3 717.4 1285.1 718.4 1284.7C719.4 1284.4 720.4 1284 721.4 1283.7C722.4 1283.3 723.4 1282.9 724.4 1282.5C725.4 1282.1 726.4 1281.7 727.4 1281.2C728.4 1280.8 729.4 1280.4 730.4 1279.9C731.4 1279.4 732.4 1279 733.4 1278.5C734.4 1278 735.4 1277.5 736.4 1276.9C737.4 1276.4 738.4 1275.9 739.4 1275.3C740.4 1274.8 741.4 1274.3 742.4 1273.7C743.4 1273.2 744.4 1272.7 745.4 1272.2C746.4 1271.6 747.4 1271.1 748.4 1270.5C749.4 1270 750.4 1269.4 751.4 1268.9C752.4 1268.3 753.4 1267.8 754.4 1267.3C755.4 1266.8 756.4 1266.2 757.4 1265.7C758.4 1265.2 759.4 1264.6 760.4 1264.1C761.4 1263.5 762.4 1262.9 763.4 1262.3C764.4 1261.7 765.4 1261.1 766.4 1260.4C767.4 1259.8 768.4 1259.2 769.4 1258.5C770.4 1257.9 771.4 1257.2 772.4 1256.6C773.4 1256 774.4 1255.3 775.4 1254.7C776.4 1254 777.4 1253.4 778.4 1252.7C779.4 1252.1 780.4 1251.5 781.4 1250.8C782.4 1250.2 783.4 1249.5 784.4 1248.9C785.4 1248.2 786.4 1247.6 787.4 1247C788.4 1246.4 789.4 1245.7 790.4 1245.1C791.4 1244.5 792.4 1243.9 793.4 1243.3C794.4 1242.8 795.4 1242.2 796.4 1241.6C797.4 1241 798.4 1240.5 799.4 1239.9C800.4 1239.4 801.4 1238.8 802.4 1238.3C803.4 1237.8 804.4 1237.4 805.4 1236.9C806.4 1236.5 807.4 1236.1 808.4 1235.7C809.4 1235.3 810.4 1234.9 811.4 1234.5C812.4 1234.1 813.4 1233.8 814.4 1233.4C815.4 1233.1 816.4 1232.7 817.4 1232.4C818.4 1232.1 819.4 1231.8 820.4 1231.6C821.4 1231.3 822.4 1231 823.4 1230.8C824.4 1230.5 825.4 1230.3 826.4 1230C827.4 1229.8 828.4 1229.6 829.4 1229.4C830.4 1229.3 831.4 1229.1 832.4 1229C833.4 1228.9 834.4 1228.8 835.4 1228.7C836.4 1228.6 837.4 1228.5 838.4 1228.4C839.4 1228.3 840.4 1228.2 841.4 1228.2C842.4 1228.1 843.4 1228 844.4 1228C845.4 1228 846.4 1228 847.4 1228C848.4 1228 849.4 1228 850.4 1228C851.4 1228 852.4 1228 853.4 1228.1C854.4 1228.1 855.4 1228.1 856.4 1228.2C857.4 1228.2 858.4 1228.3 859.4 1228.4C860.4 1228.5 861.4 1228.6 862.4 1228.7C863.4 1228.9 864.4 1229 865.4 1229.2C866.4 1229.3 867.4 1229.5 868.4 1229.7C869.4 1229.8 870.4 1230 871.4 1230.2C872.4 1230.4 873.4 1230.6 874.4 1230.8C875.4 1231 876.4 1231.3 877.4 1231.5C878.4 1231.8 879.4 1232 880.4 1232.3C881.4 1232.6 882.4 1232.8 883.4 1233.1C884.4 1233.4 885.4 1233.7 886.4 1234C887.4 1234.2 888.4 1234.5 889.4 1234.8C890.4 1235.1 891.4 1235.4 892.4 1235.6C893.4 1235.9 894.4 1236.2 895.4 1236.5C896.4 1236.8 897.4 1237.1 898.4 1237.4C899.4 1237.6 900.4 1237.9 901.4 1238.2C902.4 1238.5 903.4 1238.8 904.4 1239.1C905.4 1239.3 906.4 1239.6 907.4 1239.9C908.4 1240.2 909.4 1240.5 910.4 1240.7C911.4 1241 912.4 1241.3 913.4 1241.6C914.4 1241.8 915.4 1242.1 916.4 1242.4C917.4 1242.6 918.4 1242.9 919.4 1243.1C920.4 1243.4 921.4 1243.6 922.4 1243.8C923.4 1244 924.4 1244.3 925.4 1244.5C926.4 1244.7 927.4 1244.9 928.4 1245.1C929.4 1245.3 930.4 1245.5 931.4 1245.7C932.4 1245.9 933.4 1246.1 934.4 1246.2C935.4 1246.4 936.4 1246.6 937.4 1246.7C938.4 1246.8 939.4 1247 940.4 1247.1C941.4 1247.2 942.4 1247.3 943.4 1247.4C944.4 1247.6 945.4 1247.7 946.4 1247.8C947.4 1247.9 948.4 1248 949.4 1248C950.4 1248.1 951.4 1248.2 952.4 1248.2C953.4 1248.2 954.4 1248.2 955.4 1248.2C956.4 1248.3 957.4 1248.3 958.4 1248.3C959.4 1248.3 960.4 1248.3 961.4 1248.3C962.4 1248.3 963.4 1248.3 964.4 1248.4C965.4 1248.4 966.4 1248.4 967.4 1248.4C968.4 1248.5 969.4 1248.5 970.4 1248.6C971.4 1248.6 972.4 1248.7 973.4 1248.7C974.4 1248.8 975.4 1248.8 976.4 1248.9C977.4 1248.9 978.4 1249 979.4 1249C980.4 1249.1 981.4 1249.1 982.4 1249.1C983.4 1249.1 984.4 1249.1 985.4 1249.1C986.4 1249.1 987.4 1249.1 988.4 1249.1C989.4 1249.1 990.4 1249.1 991.4 1249.1C992.4 1249.1 993.4 1249.1 994.4 1249.1C995.4 1249 996.4 1249 997.4 1249C998.4 1248.9 999.4 1248.9 1000.4 1248.8C1001.4 1248.8 1002.4 1248.8 1003.4 1248.7C1004.4 1248.7 1005.4 1248.6 1006.4 1248.5C1007.4 1248.5 1008.4 1248.4 1009.4 1248.4C1010.4 1248.3 1011.4 1248.3 1012.4 1248.2C1013.4 1248.2 1014.4 1248.1 1015.4 1248C1016.4 1248 1017.4 1247.9 1018.4 1247.8C1019.4 1247.8 1020.4 1247.7 1021.4 1247.6C1022.4 1247.6 1023.4 1247.5 1024.4 1247.4C1025.4 1247.3 1026.4 1247.3 1027.4 1247.2C1028.4 1247.1 1029.4 1247 1030.4 1246.9C1031.4 1246.8 1032.4 1246.7 1033.4 1246.6C1034.4 1246.5 1035.4 1246.4 1036.4 1246.3C1037.4 1246.2 1038.4 1246.1 1039.4 1245.9C1040.4 1245.8 1041.4 1245.7 1042.4 1245.6C1043.4 1245.5 1044.4 1245.4 1045.4 1245.2C1046.4 1245.1 1047.4 1245 1048.4 1244.9C1049.4 1244.7 1050.4 1244.6 1051.4 1244.5C1052.4 1244.3 1053.4 1244.2 1054.4 1244.1C1055.4 1243.9 1056.4 1243.8 1057.4 1243.7C1058.4 1243.5 1059.4 1243.4 1060.4 1243.2C1061.4 1243.1 1062.4 1242.9 1063.4 1242.8C1064.4 1242.6 1065.4 1242.5 1066.4 1242.3C1067.4 1242.1 1068.4 1242 1069.4 1241.8C1070.4 1241.6 1071.4 1241.5 1072.4 1241.3C1073.4 1241.1 1074.4 1240.9 1075.4 1240.7C1076.4 1240.6 1077.4 1240.4 1078.4 1240.2C1079.4 1240 1080.4 1239.8 1081.4 1239.6C1082.4 1239.4 1083.4 1239.2 1084.4 1239C1085.4 1238.7 1086.4 1238.5 1087.4 1238.2C1088.4 1238 1089.4 1237.7 1090.4 1237.5C1091.4 1237.2 1092.4 1237 1093.4 1236.7C1094.4 1236.4 1095.4 1236.2 1096.4 1235.9C1097.4 1235.6 1098.4 1235.3 1099.4 1235C1100.4 1234.7 1101.4 1234.4 1102.4 1234.1C1103.4 1233.8 1104.4 1233.4 1105.4 1233.1C1106.4 1232.8 1107.4 1232.4 1108.4 1232.1C1109.4 1231.7 1110.4 1231.4 1111.4 1231C1112.4 1230.7 1113.4 1230.4 1114.4 1230C1115.4 1229.6 1116.4 1229.3 1117.4 1228.9C1118.4 1228.5 1119.4 1228.2 1120.4 1227.8C1121.4 1227.4 1122.4 1227 1123.4 1226.7C1124.4 1226.3 1125.4 1225.9 1126.4 1225.5C1127.4 1225.2 1128.4 1224.8 1129.4 1224.4C1130.4 1224 1131.4 1223.7 1132.4 1223.3C1133.4 1222.9 1134.4 1222.5 1135.4 1222.2C1136.4 1221.8 1137.4 1221.4 1138.4 1221C1139.4 1220.7 1140.4 1220.3 1141.4 1219.9C1142.4 1219.5 1143.4 1219.2 1144.4 1218.8C1145.4 1218.4 1146.4 1218 1147.4 1217.7C1148.4 1217.3 1149.4 1216.9 1150.4 1216.5C1151.4 1216.2 1152.4 1215.8 1153.4 1215.4C1154.4 1215.1 1155.4 1214.7 1156.4 1214.3C1157.4 1213.9 1158.4 1213.6 1159.4 1213.2C1160.4 1212.9 1161.4 1212.5 1162.4 1212.2C1163.4 1211.9 1164.4 1211.5 1165.4 1211.2C1166.4 1210.9 1167.4 1210.5 1168.4 1210.2C1169.4 1209.9 1170.4 1209.6 1171.4 1209.3C1172.4 1209 1173.7 1208.5 1174.4 1208.3C1175.1 1208 1175.2 1207.9 1175.4 1207.9" fill="none" stroke="#ee0000" stroke-width="3.6" stroke-linecap="round" stroke-linejoin="round"/>
<path d="M112.8 1122.2C113.3 1122.2 114.8 1122.1 115.8 1122C116.8 1122 117.8 1122 118.8 1121.9C119.8 1121.9 120.8 1121.9 121.8 1121.9C122.8 1121.9 123.8 1121.9 124.8 1121.9C125.8 1121.9 126.8 1122 127.8 1122C128.8 1122 129.8 1122.1 130.8 1122.1C131.8 1122.2 132.8 1122.2 133.8 1122.3C134.8 1122.3 135.8 1122.4 136.8 1122.5C137.8 1122.6 138.8 1122.7 139.8 1122.8C140.8 1122.9 141.8 1123.1 142.8 1123.2C143.8 1123.3 144.8 1123.5 145.8 1123.6C146.8 1123.8 147.8 1124 148.8 1124.2C149.8 1124.5 150.8 1124.7 151.8 1125C152.8 1125.2 153.8 1125.5 154.8 1125.8C155.8 1126.1 156.8 1126.4 157.8 1126.8C158.8 1127.1 159.8 1127.5 160.8 1127.9C161.8 1128.3 162.8 1128.7 163.8 1129.2C164.8 1129.6 165.8 1130.1 166.8 1130.6C167.8 1131.1 168.8 1131.6 169.8 1132.2C170.8 1132.7 171.8 1133.2 172.8 1133.8C173.8 1134.4 174.8 1135.1 175.8 1135.7C176.8 1136.4 177.8 1137.1 178.8 1137.8C179.8 1138.5 180.8 1139.2 181.8 1139.9C182.8 1140.6 183.8 1141.4 184.8 1142.1C185.8 1142.9 186.8 1143.7 187.8 1144.5C188.8 1145.3 189.8 1146.1 190.8 1147C191.8 1147.8 192.8 1148.6 193.8 1149.5C194.8 1150.4 195.8 1151.2 196.8 1152.1C197.8 1153 198.8 1153.9 199.8 1154.9C200.8 1155.8 201.8 1156.7 202.8 1157.7C203.8 1158.7 204.8 1159.7 205.8 1160.7C206.8 1161.7 207.8 1162.7 208.8 1163.7C209.8 1164.6 210.8 1165.6 211.8 1166.6C212.8 1167.6 213.8 1168.5 214.8 1169.5C215.8 1170.4 216.8 1171.4 217.8 1172.3C218.8 1173.2 219.8 1174.2 220.8 1175.1C221.8 1176 222.8 1176.9 223.8 1177.7C224.8 1178.6 225.8 1179.4 226.8 1180.2C227.8 1181 228.8 1181.8 229.8 1182.5C230.8 1183.3 231.8 1184 232.8 1184.7C233.8 1185.4 234.8 1186.1 235.8 1186.8C236.8 1187.4 237.8 1188 238.8 1188.6C239.8 1189.2 240.8 1189.7 241.8 1190.2C242.8 1190.7 243.8 1191.1 244.8 1191.6C245.8 1192 246.8 1192.4 247.8 1192.8C248.8 1193.2 249.8 1193.6 250.8 1193.9C251.8 1194.2 252.8 1194.5 253.8 1194.8C254.8 1195 255.8 1195.2 256.8 1195.4C257.8 1195.6 258.8 1195.8 259.8 1196C260.8 1196.1 261.8 1196.3 262.8 1196.4C263.8 1196.5 264.8 1196.6 265.8 1196.7C266.8 1196.8 267.8 1196.8 268.8 1196.8C269.8 1196.8 270.8 1196.8 271.8 1196.8C272.8 1196.8 273.8 1196.8 274.8 1196.8C275.8 1196.8 276.8 1196.7 277.8 1196.7C278.8 1196.6 279.8 1196.5 280.8 1196.4C281.8 1196.3 282.8 1196.2 283.8 1196C284.8 1195.9 285.8 1195.7 286.8 1195.6C287.8 1195.4 288.8 1195.3 289.8 1195.1C290.8 1194.9 291.8 1194.7 292.8 1194.5C293.8 1194.3 294.8 1194.1 295.8 1193.8C296.8 1193.6 297.8 1193.4 298.8 1193.1C299.8 1192.9 300.8 1192.6 301.8 1192.4C302.8 1192.1 303.8 1191.9 304.8 1191.6C305.8 1191.4 306.8 1191.1 307.8 1190.9C308.8 1190.6 309.8 1190.4 310.8 1190.1C311.8 1189.9 312.8 1189.6 313.8 1189.4C314.8 1189.1 315.8 1188.9 316.8 1188.6C317.8 1188.4 318.8 1188.2 319.8 1187.9C320.8 1187.7 321.8 1187.5 322.8 1187.3C323.8 1187.1 324.8 1186.8 325.8 1186.7C326.8 1186.5 327.8 1186.3 328.8 1186.2C329.8 1186 330.8 1185.9 331.8 1185.7C332.8 1185.6 333.8 1185.5 334.8 1185.4C335.8 1185.3 336.8 1185.2 337.8 1185.1C338.8 1185 339.8 1184.9 340.8 1184.8C341.8 1184.7 342.8 1184.6 343.8 1184.5C344.8 1184.4 345.8 1184.3 346.8 1184.3C347.8 1184.2 348.8 1184.2 349.8 1184.1C350.8 1184.1 351.8 1184 352.8 1184C353.8 1183.9 354.8 1183.9 355.8 1183.9C356.8 1183.8 357.8 1183.8 358.8 1183.8C359.8 1183.7 360.8 1183.7 361.8 1183.7C362.8 1183.7 363.8 1183.6 364.8 1183.6C365.8 1183.6 366.8 1183.6 367.8 1183.5C368.8 1183.5 369.8 1183.5 370.8 1183.5C371.8 1183.5 372.8 1183.4 373.8 1183.4C374.8 1183.4 375.8 1183.4 376.8 1183.4C377.8 1183.4 378.8 1183.4 379.8 1183.4C380.8 1183.4 381.8 1183.4 382.8 1183.4C383.8 1183.4 384.8 1183.4 385.8 1183.4C386.8 1183.3 387.8 1183.3 388.8 1183.3C389.8 1183.2 390.8 1183.2 391.8 1183.1C392.8 1183.1 393.8 1183 394.8 1182.9C395.8 1182.9 396.8 1182.8 397.8 1182.7C398.8 1182.7 399.8 1182.6 400.8 1182.5C401.8 1182.4 402.8 1182.3 403.8 1182.2C404.8 1182.1 405.8 1182 406.8 1181.9C407.8 1181.8 408.8 1181.6 409.8 1181.5C410.8 1181.4 411.8 1181.3 412.8 1181.1C413.8 1181 414.8 1180.9 415.8 1180.7C416.8 1180.6 417.8 1180.4 418.8 1180.3C419.8 1180.1 420.8 1179.9 421.8 1179.7C422.8 1179.5 423.8 1179.4 424.8 1179.2C425.8 1179 426.8 1178.8 427.8 1178.6C428.8 1178.4 429.8 1178.2 430.8 1178C431.8 1177.8 432.8 1177.6 433.8 1177.3C434.8 1177.1 435.8 1176.9 436.8 1176.6C437.8 1176.4 438.8 1176.1 439.8 1175.9C440.8 1175.6 441.8 1175.4 442.8 1175.1C443.8 1174.8 444.8 1174.6 445.8 1174.3C446.8 1174 447.8 1173.8 448.8 1173.5C449.8 1173.2 450.8 1172.9 451.8 1172.6C452.8 1172.3 453.8 1171.9 454.8 1171.6C455.8 1171.3 456.8 1171 457.8 1170.7C458.8 1170.3 459.8 1170 460.8 1169.7C461.8 1169.3 462.8 1169 463.8 1168.6C464.8 1168.2 465.8 1167.8 466.8 1167.4C467.8 1167 468.8 1166.6 469.8 1166.2C470.8 1165.8 471.8 1165.4 472.8 1165C473.8 1164.6 474.8 1164.2 475.8 1163.8C476.8 1163.4 477.8 1162.9 478.8 1162.5C479.8 1162 480.8 1161.5 481.8 1161.1C482.8 1160.6 483.8 1160.1 484.8 1159.7C485.8 1159.2 486.8 1158.8 487.8 1158.3C488.8 1157.9 489.8 1157.5 490.8 1157.1C491.8 1156.7 492.8 1156.3 493.8 1155.9C494.8 1155.5 495.8 1155.2 496.8 1154.8C497.8 1154.5 498.8 1154.1 499.8 1153.8C500.8 1153.4 501.8 1153.1 502.8 1152.8C503.8 1152.5 504.8 1152.2 505.8 1151.9C506.8 1151.6 507.8 1151.4 508.8 1151.1C509.8 1150.9 510.8 1150.6 511.8 1150.4C512.8 1150.1 513.8 1149.9 514.8 1149.7C515.8 1149.5 516.8 1149.3 517.8 1149.1C518.8 1149 519.8 1148.8 520.8 1148.7C521.8 1148.5 522.8 1148.4 523.8 1148.3C524.8 1148.2 525.8 1148.1 526.8 1147.9C527.8 1147.8 528.8 1147.7 529.8 1147.6C530.8 1147.5 531.8 1147.4 532.8 1147.4C533.8 1147.3 534.8 1147.2 535.8 1147.1C536.8 1147.1 537.8 1147 538.8 1147C539.8 1146.9 540.8 1146.9 541.8 1146.8C542.8 1146.8 543.8 1146.8 544.8 1146.8C545.8 1146.8 546.8 1146.7 547.8 1146.8C548.8 1146.8 549.8 1146.8 550.8 1146.9C551.8 1146.9 552.8 1147 553.8 1147.1C554.8 1147.2 555.8 1147.3 556.8 1147.4C557.8 1147.5 558.8 1147.7 559.8 1147.8C560.8 1148 561.8 1148.2 562.8 1148.4C563.8 1148.6 564.8 1148.9 565.8 1149.1C566.8 1149.4 567.8 1149.7 568.8 1150C569.8 1150.3 570.8 1150.6 571.8 1150.9C572.8 1151.2 573.8 1151.5 574.8 1151.9C575.8 1152.2 576.8 1152.6 577.8 1153C578.8 1153.4 579.8 1153.9 580.8 1154.3C581.8 1154.7 582.8 1155.2 583.8 1155.6C584.8 1156.1 585.8 1156.5 586.8 1157C587.8 1157.4 588.8 1157.9 589.8 1158.3C590.8 1158.8 591.8 1159.3 592.8 1159.8C593.8 1160.3 594.8 1160.8 595.8 1161.2C596.8 1161.7 597.8 1162.2 598.8 1162.7C599.8 1163.3 600.8 1163.8 601.8 1164.3C602.8 1164.8 603.8 1165.3 604.8 1165.8C605.8 1166.4 606.8 1166.9 607.8 1167.5C608.8 1168 609.8 1168.6 610.8 1169.1C611.8 1169.7 612.8 1170.3 613.8 1170.8C614.8 1171.4 615.8 1171.9 616.8 1172.5C617.8 1173.1 618.8 1173.6 619.8 1174.2C620.8 1174.8 621.8 1175.3 622.8 1175.9C623.8 1176.4 624.8 1177 625.8 1177.6C626.8 1178.1 627.8 1178.7 628.8 1179.2C629.8 1179.8 630.8 1180.4 631.8 1180.9C632.8 1181.5 633.8 1182 634.8 1182.5C635.8 1183.1 636.8 1183.6 637.8 1184.1C638.8 1184.6 639.8 1185.1 640.8 1185.6C641.8 1186.1 642.8 1186.6 643.8 1187.1C644.8 1187.6 645.8 1188.1 646.8 1188.5C647.8 1189 648.8 1189.4 649.8 1189.8C650.8 1190.1 651.8 1190.5 652.8 1190.8C653.8 1191.1 654.8 1191.4 655.8 1191.7C656.8 1192 657.8 1192.2 658.8 1192.5C659.8 1192.8 660.8 1193 661.8 1193.2C662.8 1193.5 663.8 1193.7 664.8 1193.8C665.8 1194 666.8 1194.1 667.8 1194.3C668.8 1194.4 669.8 1194.4 670.8 1194.5C671.8 1194.6 672.8 1194.7 673.8 1194.7C674.8 1194.8 675.8 1194.9 676.8 1194.9C677.8 1194.9 678.8 1194.9 679.8 1194.9C680.8 1194.9 681.8 1194.8 682.8 1194.8C683.8 1194.7 684.8 1194.6 685.8 1194.5C686.8 1194.4 687.8 1194.3 688.8 1194.2C689.8 1194.1 690.8 1194 691.8 1193.8C692.8 1193.7 693.8 1193.5 694.8 1193.3C695.8 1193.1 696.8 1192.8 697.8 1192.5C698.8 1192.3 699.8 1191.9 700.8 1191.6C701.8 1191.3 702.8 1191 703.8 1190.7C704.8 1190.4 705.8 1190.1 706.8 1189.7C707.8 1189.4 708.8 1189.1 709.8 1188.7C710.8 1188.4 711.8 1188 712.8 1187.7C713.8 1187.3 714.8 1186.9 715.8 1186.5C716.8 1186.2 717.8 1185.8 718.8 1185.4C719.8 1185.1 720.8 1184.7 721.8 1184.3C722.8 1183.9 723.8 1183.6 724.8 1183.2C725.8 1182.8 726.8 1182.4 727.8 1182.1C728.8 1181.7 729.8 1181.3 730.8 1181C731.8 1180.6 732.8 1180.2 733.8 1179.9C734.8 1179.5 735.8 1179.1 736.8 1178.8C737.8 1178.4 738.8 1178.1 739.8 1177.8C740.8 1177.4 741.8 1177.1 742.8 1176.8C743.8 1176.5 744.8 1176.2 745.8 1176C746.8 1175.7 747.8 1175.4 748.8 1175.1C749.8 1174.8 750.8 1174.5 751.8 1174.2C752.8 1173.9 753.8 1173.6 754.8 1173.3C755.8 1173 756.8 1172.7 757.8 1172.4C758.8 1172.1 759.8 1171.8 760.8 1171.6C761.8 1171.3 762.8 1171 763.8 1170.7C764.8 1170.4 765.8 1170.2 766.8 1169.9C767.8 1169.6 768.8 1169.4 769.8 1169.1C770.8 1168.9 771.8 1168.6 772.8 1168.4C773.8 1168.2 774.8 1168 775.8 1167.7C776.8 1167.5 777.8 1167.3 778.8 1167.1C779.8 1166.8 780.8 1166.6 781.8 1166.4C782.8 1166.2 783.8 1166 784.8 1165.7C785.8 1165.5 786.8 1165.3 787.8 1165.1C788.8 1164.9 789.8 1164.7 790.8 1164.5C791.8 1164.3 792.8 1164.1 793.8 1163.9C794.8 1163.7 795.8 1163.5 796.8 1163.3C797.8 1163.1 798.8 1162.9 799.8 1162.7C800.8 1162.5 801.8 1162.3 802.8 1162.1C803.8 1161.9 804.8 1161.8 805.8 1161.6C806.8 1161.4 807.8 1161.2 808.8 1161.1C809.8 1160.9 810.8 1160.7 811.8 1160.6C812.8 1160.4 813.8 1160.2 814.8 1160.1C815.8 1159.9 816.8 1159.7 817.8 1159.6C818.8 1159.4 819.8 1159.3 820.8 1159.1C821.8 1158.9 822.8 1158.8 823.8 1158.6C824.8 1158.5 825.8 1158.4 826.8 1158.2C827.8 1158.1 828.8 1157.9 829.8 1157.8C830.8 1157.6 831.8 1157.5 832.8 1157.3C833.8 1157.2 834.8 1157.1 835.8 1156.9C836.8 1156.8 837.8 1156.6 838.8 1156.5C839.8 1156.4 840.8 1156.2 841.8 1156.1C842.8 1156 843.8 1155.8 844.8 1155.7C845.8 1155.6 846.8 1155.4 847.8 1155.3C848.8 1155.2 849.8 1155 850.8 1154.9C851.8 1154.8 852.8 1154.6 853.8 1154.5C854.8 1154.4 855.8 1154.3 856.8 1154.2C857.8 1154 858.8 1153.9 859.8 1153.8C860.8 1153.7 861.8 1153.6 862.8 1153.5C863.8 1153.4 864.8 1153.3 865.8 1153.2C866.8 1153.1 867.8 1153 868.8 1152.9C869.8 1152.8 870.8 1152.7 871.8 1152.6C872.8 1152.6 873.8 1152.5 874.8 1152.5C875.8 1152.5 876.8 1152.4 877.8 1152.4C878.8 1152.4 879.8 1152.3 880.8 1152.3C881.8 1152.3 882.8 1152.2 883.8 1152.2C884.8 1152.2 885.8 1152.1 886.8 1152.1C887.8 1152.1 888.8 1152.1 889.8 1152.1C890.8 1152.1 891.8 1152.1 892.8 1152.1C893.8 1152 894.8 1152.1 895.8 1152C896.8 1152 897.8 1152 898.8 1152C899.8 1152 900.8 1151.9 901.8 1151.9C902.8 1151.8 903.8 1151.7 904.8 1151.7C905.8 1151.6 906.8 1151.5 907.8 1151.4C908.8 1151.3 909.8 1151.2 910.8 1151.2C911.8 1151.1 912.8 1151 913.8 1150.9C914.8 1150.8 915.8 1150.7 916.8 1150.6C917.8 1150.5 918.8 1150.5 919.8 1150.4C920.8 1150.3 921.8 1150.2 922.8 1150.1C923.8 1150 924.8 1149.9 925.8 1149.8C926.8 1149.7 927.8 1149.6 928.8 1149.5C929.8 1149.4 930.8 1149.4 931.8 1149.3C932.8 1149.2 933.8 1149.1 934.8 1149C935.8 1148.9 936.8 1148.8 937.8 1148.7C938.8 1148.6 939.8 1148.5 940.8 1148.3C941.8 1148.2 942.8 1148.1 943.8 1148C944.8 1147.9 945.8 1147.7 946.8 1147.6C947.8 1147.5 948.8 1147.3 949.8 1147.2C950.8 1147 951.8 1146.9 952.8 1146.7C953.8 1146.6 954.8 1146.4 955.8 1146.2C956.8 1146.1 957.8 1145.9 958.8 1145.7C959.8 1145.6 960.8 1145.4 961.8 1145.2C962.8 1145 963.8 1144.8 964.8 1144.6C965.8 1144.4 966.8 1144.2 967.8 1144C968.8 1143.8 969.8 1143.6 970.8 1143.5C971.8 1143.3 972.8 1143.1 973.8 1142.9C974.8 1142.7 975.8 1142.5 976.8 1142.3C977.8 1142.1 978.8 1142 979.8 1141.8C980.8 1141.6 981.8 1141.4 982.8 1141.3C983.8 1141.2 984.8 1141 985.8 1140.9C986.8 1140.8 987.8 1140.6 988.8 1140.5C989.8 1140.4 990.8 1140.3 991.8 1140.2C992.8 1140.1 993.8 1140 994.8 1139.9C995.8 1139.8 996.8 1139.7 997.8 1139.6C998.8 1139.5 999.8 1139.4 1000.8 1139.3C1001.8 1139.3 1002.8 1139.2 1003.8 1139.1C1004.8 1139 1005.8 1138.9 1006.8 1138.8C1007.8 1138.8 1008.8 1138.7 1009.8 1138.6C1010.8 1138.5 1011.8 1138.4 1012.8 1138.4C1013.8 1138.3 1014.8 1138.2 1015.8 1138.1C1016.8 1138.1 1017.8 1138 1018.8 1138C1019.8 1137.9 1020.8 1137.9 1021.8 1137.8C1022.8 1137.8 1023.8 1137.8 1024.8 1137.7C1025.8 1137.7 1026.8 1137.7 1027.8 1137.7C1028.8 1137.6 1029.8 1137.6 1030.8 1137.5C1031.8 1137.5 1032.8 1137.4 1033.8 1137.3C1034.8 1137.3 1035.8 1137.2 1036.8 1137.2C1037.8 1137.1 1038.8 1137 1039.8 1136.9C1040.8 1136.9 1041.8 1136.8 1042.8 1136.7C1043.8 1136.6 1044.8 1136.5 1045.8 1136.5C1046.8 1136.4 1047.8 1136.3 1048.8 1136.2C1049.8 1136.1 1050.8 1136 1051.8 1135.9C1052.8 1135.8 1053.8 1135.7 1054.8 1135.6C1055.8 1135.5 1056.8 1135.4 1057.8 1135.3C1058.8 1135.3 1059.8 1135.2 1060.8 1135.1C1061.8 1135 1062.8 1135 1063.8 1134.9C1064.8 1134.8 1065.8 1134.8 1066.8 1134.7C1067.8 1134.7 1068.8 1134.6 1069.8 1134.5C1070.8 1134.4 1071.8 1134.4 1072.8 1134.3C1073.8 1134.2 1074.8 1134.1 1075.8 1134C1076.8 1133.9 1077.8 1133.7 1078.8 1133.6C1079.8 1133.5 1080.8 1133.4 1081.8 1133.2C1082.8 1133.1 1083.8 1133 1084.8 1132.9C1085.8 1132.7 1086.8 1132.6 1087.8 1132.4C1088.8 1132.3 1089.8 1132.1 1090.8 1131.9C1091.8 1131.8 1092.8 1131.6 1093.8 1131.4C1094.8 1131.2 1095.8 1131 1096.8 1130.8C1097.8 1130.6 1098.8 1130.5 1099.8 1130.3C1100.8 1130.1 1101.8 1129.9 1102.8 1129.7C1103.8 1129.5 1104.8 1129.3 1105.8 1129.1C1106.8 1128.9 1107.8 1128.6 1108.8 1128.4C1109.8 1128.2 1110.8 1128 1111.8 1127.8C1112.8 1127.6 1113.8 1127.4 1114.8 1127.2C1115.8 1126.9 1116.8 1126.7 1117.8 1126.5C1118.8 1126.3 1119.8 1126.1 1120.8 1125.8C1121.8 1125.6 1122.8 1125.4 1123.8 1125.2C1124.8 1125 1125.8 1124.7 1126.8 1124.5C1127.8 1124.3 1128.8 1124.1 1129.8 1123.8C1130.8 1123.6 1131.8 1123.4 1132.8 1123.2C1133.8 1122.9 1134.8 1122.7 1135.8 1122.5C1136.8 1122.3 1137.8 1122.1 1138.8 1121.9C1139.8 1121.7 1140.8 1121.4 1141.8 1121.2C1142.8 1121 1143.8 1120.8 1144.8 1120.6C1145.8 1120.4 1146.8 1120.2 1147.8 1119.9C1148.8 1119.7 1149.8 1119.5 1150.8 1119.3C1151.8 1119.1 1152.8 1118.8 1153.8 1118.6C1154.8 1118.4 1155.8 1118.2 1156.8 1117.9C1157.8 1117.7 1158.8 1117.5 1159.8 1117.3C1160.8 1117.1 1161.8 1116.9 1162.8 1116.7C1163.8 1116.5 1164.8 1116.3 1165.8 1116.1C1166.8 1115.9 1167.8 1115.7 1168.8 1115.6C1169.8 1115.4 1170.8 1115.3 1171.8 1115.1C1172.8 1114.9 1174.1 1114.7 1174.8 1114.6C1175.5 1114.5 1175.6 1114.4 1175.8 1114.4" fill="none" stroke="#000" stroke-width="3.8" stroke-linecap="round" stroke-linejoin="round"/>
</g>
<rect x="114.9" y="1041.4" width="1061.1" height="309.3" fill="none" stroke="#000" stroke-width="2.2"/>
<line x1="634" y1="1070.1" x2="690" y2="1070.1" stroke="#000" stroke-width="4" stroke-linecap="round"/>
<text x="707.4" y="1075.7" font-family="Liberation Sans, sans-serif" font-size="23" font-weight="bold" font-style="normal" fill="#000" textLength="31.70" lengthAdjust="spacingAndGlyphs">S11</text>
<line x1="634" y1="1099" x2="690" y2="1099" stroke="#ee0000" stroke-width="4" stroke-linecap="round"/>
<text x="707.4" y="1106.9" font-family="Liberation Sans, sans-serif" font-size="23" font-weight="bold" font-style="normal" fill="#ee0000" textLength="31.71" lengthAdjust="spacingAndGlyphs">S12</text>
<line x1="634" y1="1127.4" x2="690" y2="1127.4" stroke="#0066c4" stroke-width="4" stroke-linecap="round"/>
<text x="707.4" y="1137.7" font-family="Liberation Sans, sans-serif" font-size="23" font-weight="bold" font-style="normal" fill="#0066c4" textLength="31.71" lengthAdjust="spacingAndGlyphs">S13</text>
<line x1="634" y1="1159.7" x2="690" y2="1159.7" stroke="#007800" stroke-width="4" stroke-linecap="round"/>
<text x="707.4" y="1169" font-family="Liberation Sans, sans-serif" font-size="23" font-weight="bold" font-style="normal" fill="#007800" textLength="31.71" lengthAdjust="spacingAndGlyphs">S14</text>
<text x="487.2" y="1021.5" font-family="Liberation Sans, sans-serif" font-size="27.5" font-weight="bold" font-style="normal" fill="#000" textLength="207.00" lengthAdjust="spacingAndGlyphs">With CSRR loading</text>
<text transform="translate(47.5 1313.9) rotate(-90)" x="0" y="0" font-family="Liberation Sans, sans-serif" font-size="26.2" font-weight="bold" font-style="normal" fill="#000" textLength="234.50" lengthAdjust="spacingAndGlyphs">S-parameters (dB)</text>
<text x="541.6" y="1428.7" font-family="Liberation Sans, sans-serif" font-size="27.2" font-weight="bold" font-style="normal" fill="#000" textLength="182.70" lengthAdjust="spacingAndGlyphs">Frequency (GHz)</text>
<text x="90.5" y="1050.5" font-family="Liberation Sans, sans-serif" font-size="29.5" font-weight="bold" font-style="normal" fill="#000" textLength="12.70" lengthAdjust="spacingAndGlyphs">0</text>
<text x="68.1" y="1161.2" font-family="Liberation Sans, sans-serif" font-size="29.5" font-weight="bold" font-style="normal" fill="#000" textLength="35.11" lengthAdjust="spacingAndGlyphs">-10</text>
<text x="68.1" y="1263.3" font-family="Liberation Sans, sans-serif" font-size="29.5" font-weight="bold" font-style="normal" fill="#000" textLength="35.11" lengthAdjust="spacingAndGlyphs">-20</text>
<text x="68.1" y="1360.9" font-family="Liberation Sans, sans-serif" font-size="29.5" font-weight="bold" font-style="normal" fill="#000" textLength="35.11" lengthAdjust="spacingAndGlyphs">-30</text>
<text x="102.5" y="1389.4" font-family="Liberation Sans, sans-serif" font-size="29.5" font-weight="bold" font-style="normal" fill="#000" textLength="25.41" lengthAdjust="spacingAndGlyphs">25</text>
<text x="312.7" y="1389.4" font-family="Liberation Sans, sans-serif" font-size="29.5" font-weight="bold" font-style="normal" fill="#000" textLength="25.71" lengthAdjust="spacingAndGlyphs">26</text>
<text x="526.9" y="1389.4" font-family="Liberation Sans, sans-serif" font-size="29.5" font-weight="bold" font-style="normal" fill="#000" textLength="25.91" lengthAdjust="spacingAndGlyphs">27</text>
<text x="739.5" y="1389.4" font-family="Liberation Sans, sans-serif" font-size="29.5" font-weight="bold" font-style="normal" fill="#000" textLength="26.71" lengthAdjust="spacingAndGlyphs">28</text>
<text x="952" y="1389.4" font-family="Liberation Sans, sans-serif" font-size="29.5" font-weight="bold" font-style="normal" fill="#000" textLength="26.01" lengthAdjust="spacingAndGlyphs">29</text>
<text x="1168" y="1389.4" font-family="Liberation Sans, sans-serif" font-size="29.5" font-weight="bold" font-style="normal" fill="#000" textLength="25.61" lengthAdjust="spacingAndGlyphs">30</text>
<line x1="312.1" y1="1513.7" x2="312.1" y2="1829.7" stroke="#111" stroke-width="1.8" stroke-dasharray="2 2.2"/>
<line x1="312.1" y1="1829.7" x2="312.1" y2="1834.2" stroke="#333" stroke-width="1.4"/>
<line x1="527.1" y1="1513.7" x2="527.1" y2="1829.7" stroke="#111" stroke-width="1.8" stroke-dasharray="2 2.2"/>
<line x1="527.1" y1="1829.7" x2="527.1" y2="1834.2" stroke="#333" stroke-width="1.4"/>
<line x1="741.8" y1="1513.7" x2="741.8" y2="1829.7" stroke="#111" stroke-width="1.8" stroke-dasharray="2 2.2"/>
<line x1="741.8" y1="1829.7" x2="741.8" y2="1834.2" stroke="#333" stroke-width="1.4"/>
<line x1="956.7" y1="1513.7" x2="956.7" y2="1829.7" stroke="#111" stroke-width="1.8" stroke-dasharray="2 2.2"/>
<line x1="956.7" y1="1829.7" x2="956.7" y2="1834.2" stroke="#333" stroke-width="1.4"/>
<line x1="99.4" y1="1591.4" x2="1171.1" y2="1591.4" stroke="#9a9a9a" stroke-width="1.8" stroke-dasharray="2 2.2"/>
<line x1="99.4" y1="1670.6" x2="1171.1" y2="1670.6" stroke="#111" stroke-width="1.8" stroke-dasharray="2 2.2"/>
<line x1="99.4" y1="1750.3" x2="1171.1" y2="1750.3" stroke="#111" stroke-width="1.8" stroke-dasharray="2 2.2"/>
<line x1="93.7" y1="1512.7" x2="98.4" y2="1512.7" stroke="#333" stroke-width="1.6"/>
<line x1="93.7" y1="1591.4" x2="98.4" y2="1591.4" stroke="#333" stroke-width="1.6"/>
<line x1="93.7" y1="1670.6" x2="98.4" y2="1670.6" stroke="#333" stroke-width="1.6"/>
<line x1="93.7" y1="1750.3" x2="98.4" y2="1750.3" stroke="#333" stroke-width="1.6"/>
<line x1="93.7" y1="1829.7" x2="98.4" y2="1829.7" stroke="#333" stroke-width="1.6"/>
<line x1="98.4" y1="1829.7" x2="98.4" y2="1834.2" stroke="#333" stroke-width="1.4"/>
<rect x="98.4" y="1512.7" width="1072.7" height="317" fill="none" stroke="#7a7a7a" stroke-width="1.6"/>
<path d="M96.6 1581.2C97.6 1581 100.6 1580.6 102.6 1580.3C104.6 1580 106.6 1579.8 108.6 1579.6C110.6 1579.4 112.6 1579.2 114.6 1579.1C116.6 1578.9 118.6 1578.8 120.6 1578.6C122.6 1578.5 124.6 1578.4 126.6 1578.3C128.6 1578.2 130.6 1578.1 132.6 1578.1C134.6 1578 136.6 1578 138.6 1577.9C140.6 1577.9 142.6 1577.8 144.6 1577.8C146.6 1577.8 148.6 1577.7 150.6 1577.7C152.6 1577.7 154.6 1577.7 156.6 1577.7C158.6 1577.7 160.6 1577.7 162.6 1577.7C164.6 1577.7 166.6 1577.7 168.6 1577.7C170.6 1577.7 172.6 1577.7 174.6 1577.8C176.6 1577.8 178.6 1577.8 180.6 1577.9C182.6 1577.9 184.6 1578 186.6 1578C188.6 1578.1 190.6 1578.2 192.6 1578.3C194.6 1578.3 196.6 1578.4 198.6 1578.6C200.6 1578.7 202.6 1578.8 204.6 1578.9C206.6 1579.1 208.6 1579.2 210.6 1579.4C212.6 1579.6 214.6 1579.7 216.6 1579.9C218.6 1580.1 220.6 1580.3 222.6 1580.5C224.6 1580.7 226.6 1580.9 228.6 1581.2C230.6 1581.4 232.6 1581.6 234.6 1581.9C236.6 1582.1 238.6 1582.4 240.6 1582.6C242.6 1582.9 244.6 1583.2 246.6 1583.4C248.6 1583.7 250.6 1583.9 252.6 1584.2C254.6 1584.5 256.6 1584.7 258.6 1585C260.6 1585.3 262.6 1585.6 264.6 1585.8C266.6 1586.1 268.6 1586.4 270.6 1586.7C272.6 1586.9 274.6 1587.2 276.6 1587.5C278.6 1587.8 280.6 1588.1 282.6 1588.5C284.6 1588.8 286.6 1589.2 288.6 1589.5C290.6 1589.9 292.6 1590.3 294.6 1590.7C296.6 1591.2 298.6 1591.6 300.6 1592C302.6 1592.4 304.6 1592.8 306.6 1593.2C308.6 1593.7 310.6 1594 312.6 1594.4C314.6 1594.8 316.6 1595.2 318.6 1595.5C320.6 1595.8 322.6 1596.2 324.6 1596.5C326.6 1596.8 328.6 1597.1 330.6 1597.4C332.6 1597.8 334.6 1598.1 336.6 1598.4C338.6 1598.7 340.6 1599 342.6 1599.3C344.6 1599.5 346.6 1599.8 348.6 1600.1C350.6 1600.4 352.6 1600.7 354.6 1600.9C356.6 1601.2 358.6 1601.4 360.6 1601.7C362.6 1601.9 364.6 1602.2 366.6 1602.4C368.6 1602.6 370.6 1602.9 372.6 1603.1C374.6 1603.3 376.6 1603.4 378.6 1603.6C380.6 1603.8 382.6 1603.9 384.6 1604.1C386.6 1604.2 388.6 1604.3 390.6 1604.4C392.6 1604.5 394.6 1604.6 396.6 1604.7C398.6 1604.8 400.6 1604.9 402.6 1604.9C404.6 1604.9 406.6 1605 408.6 1605C410.6 1605 412.6 1605 414.6 1605C416.6 1605 418.6 1605 420.6 1604.9C422.6 1604.9 424.6 1604.8 426.6 1604.8C428.6 1604.7 430.6 1604.7 432.6 1604.6C434.6 1604.5 436.6 1604.4 438.6 1604.3C440.6 1604.2 442.6 1604.1 444.6 1604C446.6 1603.9 448.6 1603.8 450.6 1603.7C452.6 1603.6 454.6 1603.5 456.6 1603.3C458.6 1603.2 460.6 1603 462.6 1602.8C464.6 1602.7 466.6 1602.5 468.6 1602.3C470.6 1602 472.6 1601.8 474.6 1601.5C476.6 1601.2 478.6 1600.9 480.6 1600.6C482.6 1600.2 484.6 1599.8 486.6 1599.4C488.6 1599 490.6 1598.6 492.6 1598.2C494.6 1597.7 496.6 1597.3 498.6 1596.8C500.6 1596.4 502.6 1595.9 504.6 1595.4C506.6 1595 508.6 1594.5 510.6 1594C512.6 1593.5 514.6 1593 516.6 1592.6C518.6 1592.1 520.6 1591.6 522.6 1591.1C524.6 1590.6 526.6 1590.1 528.6 1589.7C530.6 1589.2 532.6 1588.7 534.6 1588.2C536.6 1587.8 538.6 1587.3 540.6 1586.8C542.6 1586.4 544.6 1585.9 546.6 1585.4C548.6 1584.9 550.6 1584.5 552.6 1584C554.6 1583.5 556.6 1583 558.6 1582.4C560.6 1581.9 562.6 1581.4 564.6 1580.9C566.6 1580.4 568.6 1579.8 570.6 1579.3C572.6 1578.8 574.6 1578.2 576.6 1577.7C578.6 1577.2 580.6 1576.7 582.6 1576.1C584.6 1575.6 586.6 1575.1 588.6 1574.6C590.6 1574.1 592.6 1573.6 594.6 1573C596.6 1572.5 598.6 1572 600.6 1571.5C602.6 1571 604.6 1570.5 606.6 1570.1C608.6 1569.6 610.6 1569.1 612.6 1568.6C614.6 1568.2 616.6 1567.7 618.6 1567.3C620.6 1566.8 622.6 1566.4 624.6 1565.9C626.6 1565.5 628.6 1565.1 630.6 1564.6C632.6 1564.2 634.6 1563.8 636.6 1563.3C638.6 1562.9 640.6 1562.5 642.6 1562.1C644.6 1561.7 646.6 1561.3 648.6 1560.9C650.6 1560.5 652.6 1560.1 654.6 1559.7C656.6 1559.3 658.6 1558.9 660.6 1558.5C662.6 1558.1 664.6 1557.7 666.6 1557.4C668.6 1557 670.6 1556.6 672.6 1556.2C674.6 1555.8 676.6 1555.4 678.6 1555.1C680.6 1554.7 682.6 1554.3 684.6 1554C686.6 1553.6 688.6 1553.2 690.6 1552.9C692.6 1552.5 694.6 1552.2 696.6 1551.8C698.6 1551.5 700.6 1551.2 702.6 1550.8C704.6 1550.5 706.6 1550.2 708.6 1549.8C710.6 1549.5 712.6 1549.2 714.6 1548.8C716.6 1548.5 718.6 1548.2 720.6 1547.9C722.6 1547.5 724.6 1547.2 726.6 1546.9C728.6 1546.6 730.6 1546.2 732.6 1545.9C734.6 1545.6 736.6 1545.3 738.6 1545C740.6 1544.7 742.6 1544.4 744.6 1544.2C746.6 1543.9 748.6 1543.6 750.6 1543.4C752.6 1543.1 754.6 1542.9 756.6 1542.6C758.6 1542.4 760.6 1542.1 762.6 1541.9C764.6 1541.7 766.6 1541.5 768.6 1541.3C770.6 1541 772.6 1540.8 774.6 1540.6C776.6 1540.4 778.6 1540.2 780.6 1540C782.6 1539.9 784.6 1539.7 786.6 1539.5C788.6 1539.4 790.6 1539.2 792.6 1539.1C794.6 1538.9 796.6 1538.8 798.6 1538.7C800.6 1538.5 802.6 1538.4 804.6 1538.3C806.6 1538.1 808.6 1538 810.6 1537.8C812.6 1537.7 814.6 1537.5 816.6 1537.3C818.6 1537.2 820.6 1537 822.6 1536.9C824.6 1536.8 826.6 1536.7 828.6 1536.6C830.6 1536.6 832.6 1536.5 834.6 1536.5C836.6 1536.5 838.6 1536.5 840.6 1536.5C842.6 1536.5 844.6 1536.5 846.6 1536.6C848.6 1536.6 850.6 1536.6 852.6 1536.7C854.6 1536.8 856.6 1536.9 858.6 1536.9C860.6 1537 862.6 1537.1 864.6 1537.2C866.6 1537.4 868.6 1537.5 870.6 1537.6C872.6 1537.7 874.6 1537.9 876.6 1538C878.6 1538.1 880.6 1538.3 882.6 1538.5C884.6 1538.6 886.6 1538.8 888.6 1539C890.6 1539.2 892.6 1539.4 894.6 1539.6C896.6 1539.8 898.6 1540 900.6 1540.2C902.6 1540.4 904.6 1540.6 906.6 1540.9C908.6 1541.1 910.6 1541.4 912.6 1541.6C914.6 1541.9 916.6 1542.1 918.6 1542.4C920.6 1542.7 922.6 1542.9 924.6 1543.2C926.6 1543.5 928.6 1543.8 930.6 1544.1C932.6 1544.5 934.6 1544.8 936.6 1545.1C938.6 1545.4 940.6 1545.8 942.6 1546.1C944.6 1546.5 946.6 1546.8 948.6 1547.2C950.6 1547.5 952.6 1547.9 954.6 1548.3C956.6 1548.7 958.6 1549.1 960.6 1549.5C962.6 1549.9 964.6 1550.3 966.6 1550.7C968.6 1551.1 970.6 1551.5 972.6 1551.9C974.6 1552.4 976.6 1552.8 978.6 1553.2C980.6 1553.7 982.6 1554.1 984.6 1554.6C986.6 1555 988.6 1555.5 990.6 1555.9C992.6 1556.4 994.6 1556.9 996.6 1557.4C998.6 1557.9 1000.6 1558.4 1002.6 1558.9C1004.6 1559.4 1006.6 1560 1008.6 1560.5C1010.6 1561.1 1012.6 1561.6 1014.6 1562.2C1016.6 1562.7 1018.6 1563.2 1020.6 1563.8C1022.6 1564.3 1024.6 1564.9 1026.6 1565.4C1028.6 1565.9 1030.6 1566.5 1032.6 1567C1034.6 1567.5 1036.6 1568 1038.6 1568.6C1040.6 1569.1 1042.6 1569.7 1044.6 1570.2C1046.6 1570.8 1048.6 1571.3 1050.6 1571.9C1052.6 1572.5 1054.6 1573.1 1056.6 1573.7C1058.6 1574.2 1060.6 1574.8 1062.6 1575.4C1064.6 1576 1066.6 1576.6 1068.6 1577.2C1070.6 1577.7 1072.6 1578.3 1074.6 1578.8C1076.6 1579.3 1078.6 1579.9 1080.6 1580.4C1082.6 1580.9 1084.6 1581.4 1086.6 1581.9C1088.6 1582.3 1090.6 1582.8 1092.6 1583.3C1094.6 1583.7 1096.6 1584.2 1098.6 1584.6C1100.6 1585 1102.6 1585.4 1104.6 1585.8C1106.6 1586.2 1108.6 1586.6 1110.6 1587C1112.6 1587.3 1114.6 1587.7 1116.6 1588C1118.6 1588.4 1120.6 1588.7 1122.6 1589C1124.6 1589.3 1126.6 1589.6 1128.6 1589.9C1130.6 1590.2 1132.6 1590.5 1134.6 1590.8C1136.6 1591 1138.6 1591.3 1140.6 1591.5C1142.6 1591.7 1144.6 1591.9 1146.6 1592.1C1148.6 1592.3 1150.6 1592.4 1152.6 1592.6C1154.6 1592.7 1156.6 1592.8 1158.6 1592.9C1160.6 1593 1162.8 1593.1 1164.6 1593.2C1166.4 1593.3 1168.8 1593.4 1169.6 1593.5" fill="none" stroke="#000" stroke-width="4.9" stroke-linejoin="round" stroke-linecap="round"/>
<path d="M96.6 1784.9C97.6 1784.5 100.6 1783.2 102.6 1782.5C104.6 1781.7 106.6 1781.1 108.6 1780.5C110.6 1779.9 112.6 1779.3 114.6 1778.6C116.6 1778 118.6 1777.3 120.6 1776.6C122.6 1776 124.6 1775.3 126.6 1774.6C128.6 1773.9 130.6 1773.2 132.6 1772.6C134.6 1771.9 136.6 1771.2 138.6 1770.6C140.6 1769.9 142.6 1769.3 144.6 1768.7C146.6 1768.1 148.6 1767.4 150.6 1766.8C152.6 1766.3 154.6 1765.7 156.6 1765.1C158.6 1764.5 160.6 1764 162.6 1763.4C164.6 1762.8 166.6 1762.3 168.6 1761.8C170.6 1761.2 172.6 1760.7 174.6 1760.2C176.6 1759.7 178.6 1759.2 180.6 1758.7C182.6 1758.2 184.6 1757.7 186.6 1757.2C188.6 1756.7 190.6 1756.2 192.6 1755.8C194.6 1755.3 196.6 1754.9 198.6 1754.4C200.6 1754 202.6 1753.6 204.6 1753.1C206.6 1752.7 208.6 1752.3 210.6 1751.9C212.6 1751.5 214.6 1751.1 216.6 1750.7C218.6 1750.4 220.6 1750 222.6 1749.7C224.6 1749.3 226.6 1749 228.6 1748.7C230.6 1748.3 232.6 1748 234.6 1747.7C236.6 1747.4 238.6 1747 240.6 1746.7C242.6 1746.4 244.6 1746.1 246.6 1745.8C248.6 1745.5 250.6 1745.2 252.6 1744.9C254.6 1744.6 256.6 1744.3 258.6 1744C260.6 1743.7 262.6 1743.4 264.6 1743.1C266.6 1742.7 268.6 1742.4 270.6 1742.1C272.6 1741.8 274.6 1741.5 276.6 1741.1C278.6 1740.8 280.6 1740.5 282.6 1740.2C284.6 1739.9 286.6 1739.6 288.6 1739.3C290.6 1739 292.6 1738.8 294.6 1738.5C296.6 1738.2 298.6 1738 300.6 1737.7C302.6 1737.5 304.6 1737.2 306.6 1737C308.6 1736.7 310.6 1736.5 312.6 1736.2C314.6 1736 316.6 1735.7 318.6 1735.5C320.6 1735.2 322.6 1735 324.6 1734.7C326.6 1734.5 328.6 1734.2 330.6 1734C332.6 1733.7 334.6 1733.5 336.6 1733.3C338.6 1733.1 340.6 1732.8 342.6 1732.6C344.6 1732.4 346.6 1732.2 348.6 1732C350.6 1731.8 352.6 1731.6 354.6 1731.4C356.6 1731.3 358.6 1731.1 360.6 1730.9C362.6 1730.7 364.6 1730.6 366.6 1730.4C368.6 1730.2 370.6 1730.1 372.6 1729.9C374.6 1729.8 376.6 1729.6 378.6 1729.5C380.6 1729.4 382.6 1729.2 384.6 1729.1C386.6 1729 388.6 1728.9 390.6 1728.8C392.6 1728.6 394.6 1728.5 396.6 1728.4C398.6 1728.3 400.6 1728.2 402.6 1728.1C404.6 1728 406.6 1727.9 408.6 1727.8C410.6 1727.7 412.6 1727.6 414.6 1727.5C416.6 1727.4 418.6 1727.3 420.6 1727.2C422.6 1727.1 424.6 1727 426.6 1726.9C428.6 1726.9 430.6 1726.8 432.6 1726.7C434.6 1726.6 436.6 1726.5 438.6 1726.5C440.6 1726.4 442.6 1726.3 444.6 1726.3C446.6 1726.2 448.6 1726.1 450.6 1726.1C452.6 1726 454.6 1726 456.6 1726C458.6 1726 460.6 1726 462.6 1726C464.6 1726.1 466.6 1726.1 468.6 1726.1C470.6 1726.2 472.6 1726.2 474.6 1726.2C476.6 1726.2 478.6 1726.2 480.6 1726.2C482.6 1726.2 484.6 1726.2 486.6 1726.2C488.6 1726.2 490.6 1726.1 492.6 1726.1C494.6 1726.1 496.6 1726.1 498.6 1726.1C500.6 1726.1 502.6 1726.2 504.6 1726.2C506.6 1726.2 508.6 1726.2 510.6 1726.3C512.6 1726.3 514.6 1726.4 516.6 1726.4C518.6 1726.5 520.6 1726.5 522.6 1726.6C524.6 1726.6 526.6 1726.7 528.6 1726.7C530.6 1726.8 532.6 1726.8 534.6 1726.9C536.6 1727 538.6 1727 540.6 1727.1C542.6 1727.2 544.6 1727.2 546.6 1727.3C548.6 1727.4 550.6 1727.5 552.6 1727.5C554.6 1727.6 556.6 1727.7 558.6 1727.8C560.6 1727.9 562.6 1728 564.6 1728.1C566.6 1728.2 568.6 1728.3 570.6 1728.4C572.6 1728.5 574.6 1728.6 576.6 1728.8C578.6 1728.9 580.6 1729 582.6 1729.2C584.6 1729.3 586.6 1729.5 588.6 1729.7C590.6 1729.8 592.6 1730 594.6 1730.2C596.6 1730.4 598.6 1730.6 600.6 1730.8C602.6 1731 604.6 1731.2 606.6 1731.5C608.6 1731.7 610.6 1731.9 612.6 1732.2C614.6 1732.4 616.6 1732.6 618.6 1732.9C620.6 1733.1 622.6 1733.4 624.6 1733.6C626.6 1733.8 628.6 1734 630.6 1734.3C632.6 1734.5 634.6 1734.7 636.6 1734.9C638.6 1735.1 640.6 1735.3 642.6 1735.5C644.6 1735.7 646.6 1735.9 648.6 1736.1C650.6 1736.3 652.6 1736.5 654.6 1736.7C656.6 1736.9 658.6 1737.1 660.6 1737.3C662.6 1737.5 664.6 1737.7 666.6 1737.9C668.6 1738.1 670.6 1738.3 672.6 1738.5C674.6 1738.7 676.6 1738.9 678.6 1739.1C680.6 1739.3 682.6 1739.5 684.6 1739.7C686.6 1739.9 688.6 1740.1 690.6 1740.3C692.6 1740.5 694.6 1740.7 696.6 1740.9C698.6 1741.1 700.6 1741.3 702.6 1741.5C704.6 1741.7 706.6 1741.9 708.6 1742.1C710.6 1742.3 712.6 1742.5 714.6 1742.7C716.6 1742.9 718.6 1743.1 720.6 1743.3C722.6 1743.5 724.6 1743.7 726.6 1743.9C728.6 1744.1 730.6 1744.3 732.6 1744.5C734.6 1744.7 736.6 1744.9 738.6 1745.1C740.6 1745.4 742.6 1745.6 744.6 1745.8C746.6 1746.1 748.6 1746.3 750.6 1746.6C752.6 1746.8 754.6 1747 756.6 1747.3C758.6 1747.5 760.6 1747.8 762.6 1748C764.6 1748.3 766.6 1748.5 768.6 1748.8C770.6 1749 772.6 1749.3 774.6 1749.5C776.6 1749.8 778.6 1750 780.6 1750.3C782.6 1750.5 784.6 1750.8 786.6 1751C788.6 1751.3 790.6 1751.5 792.6 1751.7C794.6 1752 796.6 1752.2 798.6 1752.4C800.6 1752.7 802.6 1752.9 804.6 1753.2C806.6 1753.4 808.6 1753.7 810.6 1754C812.6 1754.3 814.6 1754.6 816.6 1754.9C818.6 1755.2 820.6 1755.5 822.6 1755.8C824.6 1756.1 826.6 1756.3 828.6 1756.6C830.6 1756.8 832.6 1757 834.6 1757.2C836.6 1757.4 838.6 1757.6 840.6 1757.7C842.6 1757.9 844.6 1758.1 846.6 1758.2C848.6 1758.4 850.6 1758.5 852.6 1758.6C854.6 1758.8 856.6 1758.9 858.6 1759C860.6 1759.1 862.6 1759.2 864.6 1759.3C866.6 1759.4 868.6 1759.5 870.6 1759.6C872.6 1759.7 874.6 1759.8 876.6 1759.8C878.6 1759.9 880.6 1760 882.6 1760.1C884.6 1760.2 886.6 1760.2 888.6 1760.3C890.6 1760.4 892.6 1760.5 894.6 1760.5C896.6 1760.6 898.6 1760.7 900.6 1760.7C902.6 1760.8 904.6 1760.8 906.6 1760.9C908.6 1760.9 910.6 1761 912.6 1761C914.6 1761.1 916.6 1761.1 918.6 1761.2C920.6 1761.2 922.6 1761.3 924.6 1761.3C926.6 1761.3 928.6 1761.4 930.6 1761.4C932.6 1761.4 934.6 1761.4 936.6 1761.5C938.6 1761.5 940.6 1761.5 942.6 1761.5C944.6 1761.5 946.6 1761.5 948.6 1761.5C950.6 1761.5 952.6 1761.5 954.6 1761.4C956.6 1761.4 958.6 1761.3 960.6 1761.3C962.6 1761.3 964.6 1761.2 966.6 1761.2C968.6 1761.1 970.6 1761.1 972.6 1761C974.6 1761 976.6 1760.9 978.6 1760.9C980.6 1760.8 982.6 1760.8 984.6 1760.7C986.6 1760.6 988.6 1760.6 990.6 1760.5C992.6 1760.4 994.6 1760.4 996.6 1760.3C998.6 1760.2 1000.6 1760.1 1002.6 1759.9C1004.6 1759.8 1006.6 1759.7 1008.6 1759.5C1010.6 1759.4 1012.6 1759.2 1014.6 1759.1C1016.6 1758.9 1018.6 1758.8 1020.6 1758.6C1022.6 1758.5 1024.6 1758.3 1026.6 1758.1C1028.6 1758 1030.6 1757.8 1032.6 1757.6C1034.6 1757.4 1036.6 1757.3 1038.6 1757.1C1040.6 1756.9 1042.6 1756.7 1044.6 1756.6C1046.6 1756.4 1048.6 1756.2 1050.6 1756C1052.6 1755.9 1054.6 1755.7 1056.6 1755.5C1058.6 1755.3 1060.6 1755.2 1062.6 1755C1064.6 1754.8 1066.6 1754.7 1068.6 1754.5C1070.6 1754.3 1072.6 1754.2 1074.6 1754C1076.6 1753.8 1078.6 1753.7 1080.6 1753.5C1082.6 1753.4 1084.6 1753.2 1086.6 1753.1C1088.6 1753 1090.6 1752.8 1092.6 1752.7C1094.6 1752.5 1096.6 1752.4 1098.6 1752.3C1100.6 1752.2 1102.6 1752.1 1104.6 1752C1106.6 1751.9 1108.6 1751.8 1110.6 1751.7C1112.6 1751.6 1114.6 1751.5 1116.6 1751.4C1118.6 1751.3 1120.6 1751.2 1122.6 1751.1C1124.6 1751 1126.6 1750.9 1128.6 1750.9C1130.6 1750.8 1132.6 1750.7 1134.6 1750.6C1136.6 1750.5 1138.6 1750.5 1140.6 1750.4C1142.6 1750.3 1144.6 1750.3 1146.6 1750.2C1148.6 1750.2 1150.6 1750.1 1152.6 1750C1154.6 1750 1156.6 1750 1158.6 1749.9C1160.6 1749.9 1162.8 1749.8 1164.6 1749.8C1166.4 1749.7 1168.8 1749.6 1169.6 1749.6" fill="none" stroke="#000" stroke-width="4.9" stroke-linejoin="round" stroke-dasharray="12 4.7 3.7 4.7"/>
<rect x="1098.5" y="1513.5" width="72.6" height="56.3" fill="#fff" stroke="#000" stroke-width="2"/>
<line x1="1104" y1="1527.5" x2="1136" y2="1527.5" stroke="#000" stroke-width="4.2" stroke-dasharray="11.7 4.8 3.3 4.8"/>
<line x1="1104" y1="1553.7" x2="1136" y2="1553.7" stroke="#000" stroke-width="4.2"/>
<text x="1141.9" y="1534.2" font-family="Liberation Sans, sans-serif" font-size="18.5" font-weight="bold" font-style="normal" fill="#000" textLength="21.50" lengthAdjust="spacingAndGlyphs">(1)</text>
<text x="1141.9" y="1560.4" font-family="Liberation Sans, sans-serif" font-size="18.5" font-weight="bold" font-style="normal" fill="#000" textLength="21.50" lengthAdjust="spacingAndGlyphs">(2)</text>
<text x="176.5" y="1563.3" font-family="Liberation Sans, sans-serif" font-size="27.5" font-weight="bold" font-style="normal" fill="#000" textLength="28.40" lengthAdjust="spacingAndGlyphs">(2)</text>
<text x="237.4" y="1563.3" font-family="Liberation Sans, sans-serif" font-size="29.5" font-weight="bold" font-style="normal" fill="#000" textLength="115.99" lengthAdjust="spacingAndGlyphs">With DGS</text>
<text x="591.7" y="1715.2" font-family="Liberation Sans, sans-serif" font-size="27.5" font-weight="bold" font-style="normal" fill="#000" textLength="28.50" lengthAdjust="spacingAndGlyphs">(1)</text>
<text x="653.2" y="1715.2" font-family="Liberation Sans, sans-serif" font-size="28.5" font-weight="bold" font-style="normal" fill="#000" textLength="151.70" lengthAdjust="spacingAndGlyphs">With no DGS</text>
<text transform="translate(50 1791.4) rotate(-90)" x="0" y="0" font-family="Liberation Sans, sans-serif" font-size="23.5" font-weight="bold" font-style="normal" fill="#000" textLength="233.20" lengthAdjust="spacingAndGlyphs">Radiation Gain (dBi)</text>
<text x="547.5" y="1881.1" font-family="Liberation Sans, sans-serif" font-size="24.5" font-weight="bold" font-style="normal" fill="#000" textLength="169.20" lengthAdjust="spacingAndGlyphs">Frequency (GHz)</text>
<text x="63.2" y="1526.5" font-family="Liberation Sans, sans-serif" font-size="25.5" font-weight="bold" font-style="normal" fill="#000" textLength="28.00" lengthAdjust="spacingAndGlyphs">9.0</text>
<text x="63" y="1600.9" font-family="Liberation Sans, sans-serif" font-size="25.5" font-weight="bold" font-style="normal" fill="#000" textLength="27.90" lengthAdjust="spacingAndGlyphs">7.0</text>
<text x="62.3" y="1679.1" font-family="Liberation Sans, sans-serif" font-size="25.5" font-weight="bold" font-style="normal" fill="#000" textLength="28.30" lengthAdjust="spacingAndGlyphs">5.0</text>
<text x="63" y="1758.6" font-family="Liberation Sans, sans-serif" font-size="25.5" font-weight="bold" font-style="normal" fill="#000" textLength="27.90" lengthAdjust="spacingAndGlyphs">3.0</text>
<text x="63.3" y="1836.8" font-family="Liberation Sans, sans-serif" font-size="25.5" font-weight="bold" font-style="normal" fill="#000" textLength="27.60" lengthAdjust="spacingAndGlyphs">1.0</text>
<text x="87.8" y="1860.6" font-family="Liberation Sans, sans-serif" font-size="25.5" font-weight="bold" font-style="normal" fill="#000" textLength="23.41" lengthAdjust="spacingAndGlyphs">25</text>
<text x="300" y="1859" font-family="Liberation Sans, sans-serif" font-size="25.5" font-weight="bold" font-style="normal" fill="#000" textLength="23.51" lengthAdjust="spacingAndGlyphs">26</text>
<text x="513.2" y="1857.9" font-family="Liberation Sans, sans-serif" font-size="25.5" font-weight="bold" font-style="normal" fill="#000" textLength="22.61" lengthAdjust="spacingAndGlyphs">27</text>
<text x="730.9" y="1856" font-family="Liberation Sans, sans-serif" font-size="25.5" font-weight="bold" font-style="normal" fill="#000" textLength="23.41" lengthAdjust="spacingAndGlyphs">28</text>
<text x="946" y="1856.8" font-family="Liberation Sans, sans-serif" font-size="25.5" font-weight="bold" font-style="normal" fill="#000" textLength="23.31" lengthAdjust="spacingAndGlyphs">29</text>
<text x="1157" y="1856.8" font-family="Liberation Sans, sans-serif" font-size="25.5" font-weight="bold" font-style="normal" fill="#000" textLength="23.51" lengthAdjust="spacingAndGlyphs">30</text>
<line x1="323.8" y1="1988.3" x2="323.8" y2="2256.5" stroke="#555" stroke-width="1.8" stroke-dasharray="2 2.2"/>
<line x1="323.8" y1="2256.5" x2="323.8" y2="2261" stroke="#333" stroke-width="1.4"/>
<line x1="537.7" y1="1988.3" x2="537.7" y2="2256.5" stroke="#555" stroke-width="1.8" stroke-dasharray="2 2.2"/>
<line x1="537.7" y1="2256.5" x2="537.7" y2="2261" stroke="#333" stroke-width="1.4"/>
<line x1="750.3" y1="1988.3" x2="750.3" y2="2256.5" stroke="#555" stroke-width="1.8" stroke-dasharray="2 2.2"/>
<line x1="750.3" y1="2256.5" x2="750.3" y2="2261" stroke="#333" stroke-width="1.4"/>
<line x1="964" y1="1988.3" x2="964" y2="2256.5" stroke="#555" stroke-width="1.8" stroke-dasharray="2 2.2"/>
<line x1="964" y1="2256.5" x2="964" y2="2261" stroke="#333" stroke-width="1.4"/>
<line x1="112" y1="2077" x2="1176.1" y2="2077" stroke="#555" stroke-width="1.8" stroke-dasharray="2 2.2"/>
<line x1="112" y1="2166.9" x2="1176.1" y2="2166.9" stroke="#555" stroke-width="1.8" stroke-dasharray="2 2.2"/>
<line x1="106.3" y1="1987.3" x2="111" y2="1987.3" stroke="#333" stroke-width="1.6"/>
<line x1="106.3" y1="2077" x2="111" y2="2077" stroke="#333" stroke-width="1.6"/>
<line x1="106.3" y1="2166.9" x2="111" y2="2166.9" stroke="#333" stroke-width="1.6"/>
<line x1="106.3" y1="2256.5" x2="111" y2="2256.5" stroke="#333" stroke-width="1.6"/>
<line x1="111" y1="2256.5" x2="111" y2="2261" stroke="#333" stroke-width="1.4"/>
<rect x="111" y="1987.3" width="1065.1" height="269.2" fill="none" stroke="#7a7a7a" stroke-width="1.6"/>
<path d="M110.5 2091.7C111.5 2091.3 114.5 2090 116.5 2089.3C118.5 2088.6 120.5 2088 122.5 2087.4C124.5 2086.8 126.5 2086.2 128.5 2085.6C130.5 2085 132.5 2084.4 134.5 2083.8C136.5 2083.1 138.5 2082.5 140.5 2081.9C142.5 2081.2 144.5 2080.6 146.5 2080C148.5 2079.4 150.5 2078.8 152.5 2078.2C154.5 2077.5 156.5 2077 158.5 2076.4C160.5 2075.8 162.5 2075.2 164.5 2074.6C166.5 2074 168.5 2073.5 170.5 2072.9C172.5 2072.4 174.5 2071.8 176.5 2071.3C178.5 2070.7 180.5 2070.2 182.5 2069.7C184.5 2069.2 186.5 2068.7 188.5 2068.2C190.5 2067.8 192.5 2067.3 194.5 2066.8C196.5 2066.3 198.5 2065.9 200.5 2065.4C202.5 2065 204.5 2064.5 206.5 2064.1C208.5 2063.7 210.5 2063.2 212.5 2062.8C214.5 2062.4 216.5 2061.9 218.5 2061.5C220.5 2061.1 222.5 2060.7 224.5 2060.3C226.5 2059.9 228.5 2059.5 230.5 2059.2C232.5 2058.8 234.5 2058.4 236.5 2058.1C238.5 2057.7 240.5 2057.4 242.5 2057C244.5 2056.7 246.5 2056.4 248.5 2056C250.5 2055.7 252.5 2055.4 254.5 2055.1C256.5 2054.8 258.5 2054.4 260.5 2054.1C262.5 2053.8 264.5 2053.5 266.5 2053.2C268.5 2053 270.5 2052.7 272.5 2052.4C274.5 2052.1 276.5 2051.8 278.5 2051.6C280.5 2051.3 282.5 2051.1 284.5 2050.8C286.5 2050.5 288.5 2050.3 290.5 2050.1C292.5 2049.8 294.5 2049.6 296.5 2049.3C298.5 2049.1 300.5 2048.9 302.5 2048.7C304.5 2048.5 306.5 2048.3 308.5 2048.1C310.5 2047.8 312.5 2047.6 314.5 2047.4C316.5 2047.2 318.5 2047 320.5 2046.8C322.5 2046.6 324.5 2046.4 326.5 2046.2C328.5 2046 330.5 2045.8 332.5 2045.6C334.5 2045.5 336.5 2045.3 338.5 2045.1C340.5 2044.9 342.5 2044.7 344.5 2044.5C346.5 2044.4 348.5 2044.2 350.5 2044.1C352.5 2043.9 354.5 2043.8 356.5 2043.6C358.5 2043.5 360.5 2043.4 362.5 2043.3C364.5 2043.1 366.5 2043 368.5 2042.9C370.5 2042.8 372.5 2042.6 374.5 2042.5C376.5 2042.4 378.5 2042.3 380.5 2042.1C382.5 2042 384.5 2041.9 386.5 2041.7C388.5 2041.6 390.5 2041.5 392.5 2041.3C394.5 2041.2 396.5 2041.1 398.5 2040.9C400.5 2040.8 402.5 2040.6 404.5 2040.5C406.5 2040.4 408.5 2040.2 410.5 2040.1C412.5 2039.9 414.5 2039.8 416.5 2039.6C418.5 2039.5 420.5 2039.3 422.5 2039.2C424.5 2039 426.5 2038.9 428.5 2038.7C430.5 2038.6 432.5 2038.4 434.5 2038.3C436.5 2038.1 438.5 2038 440.5 2037.8C442.5 2037.7 444.5 2037.6 446.5 2037.4C448.5 2037.3 450.5 2037.2 452.5 2037.1C454.5 2037 456.5 2036.9 458.5 2036.8C460.5 2036.7 462.5 2036.6 464.5 2036.5C466.5 2036.4 468.5 2036.2 470.5 2036.1C472.5 2035.9 474.5 2035.8 476.5 2035.6C478.5 2035.4 480.5 2035.2 482.5 2035C484.5 2034.8 486.5 2034.6 488.5 2034.4C490.5 2034.2 492.5 2034 494.5 2033.8C496.5 2033.6 498.5 2033.4 500.5 2033.2C502.5 2033 504.5 2032.8 506.5 2032.6C508.5 2032.4 510.5 2032.2 512.5 2032C514.5 2031.8 516.5 2031.6 518.5 2031.4C520.5 2031.2 522.5 2031.1 524.5 2030.9C526.5 2030.7 528.5 2030.5 530.5 2030.3C532.5 2030.1 534.5 2030 536.5 2029.8C538.5 2029.6 540.5 2029.4 542.5 2029.3C544.5 2029.1 546.5 2028.9 548.5 2028.7C550.5 2028.6 552.5 2028.4 554.5 2028.2C556.5 2028 558.5 2027.9 560.5 2027.7C562.5 2027.5 564.5 2027.3 566.5 2027.2C568.5 2027 570.5 2026.8 572.5 2026.6C574.5 2026.5 576.5 2026.3 578.5 2026.1C580.5 2025.9 582.5 2025.8 584.5 2025.6C586.5 2025.4 588.5 2025.2 590.5 2025.1C592.5 2024.9 594.5 2024.7 596.5 2024.5C598.5 2024.4 600.5 2024.2 602.5 2024C604.5 2023.8 606.5 2023.7 608.5 2023.5C610.5 2023.3 612.5 2023.1 614.5 2022.9C616.5 2022.8 618.5 2022.6 620.5 2022.4C622.5 2022.2 624.5 2022 626.5 2021.8C628.5 2021.6 630.5 2021.4 632.5 2021.2C634.5 2021 636.5 2020.8 638.5 2020.6C640.5 2020.4 642.5 2020.3 644.5 2020.1C646.5 2019.9 648.5 2019.7 650.5 2019.5C652.5 2019.3 654.5 2019.2 656.5 2019C658.5 2018.8 660.5 2018.6 662.5 2018.5C664.5 2018.3 666.5 2018.1 668.5 2018C670.5 2017.8 672.5 2017.6 674.5 2017.4C676.5 2017.3 678.5 2017.1 680.5 2016.9C682.5 2016.8 684.5 2016.6 686.5 2016.4C688.5 2016.3 690.5 2016.1 692.5 2015.9C694.5 2015.7 696.5 2015.6 698.5 2015.4C700.5 2015.2 702.5 2015.1 704.5 2014.9C706.5 2014.8 708.5 2014.6 710.5 2014.5C712.5 2014.3 714.5 2014.2 716.5 2014C718.5 2013.9 720.5 2013.7 722.5 2013.5C724.5 2013.4 726.5 2013.2 728.5 2013C730.5 2012.8 732.5 2012.6 734.5 2012.4C736.5 2012.2 738.5 2012 740.5 2011.8C742.5 2011.6 744.5 2011.4 746.5 2011.3C748.5 2011.1 750.5 2010.9 752.5 2010.8C754.5 2010.6 756.5 2010.5 758.5 2010.3C760.5 2010.2 762.5 2010.1 764.5 2010C766.5 2009.9 768.5 2009.8 770.5 2009.7C772.5 2009.6 774.5 2009.5 776.5 2009.4C778.5 2009.3 780.5 2009.2 782.5 2009.1C784.5 2009 786.5 2009 788.5 2008.9C790.5 2008.8 792.5 2008.7 794.5 2008.6C796.5 2008.6 798.5 2008.5 800.5 2008.4C802.5 2008.4 804.5 2008.3 806.5 2008.3C808.5 2008.2 810.5 2008.2 812.5 2008.2C814.5 2008.1 816.5 2008.1 818.5 2008.1C820.5 2008.1 822.5 2008.1 824.5 2008.1C826.5 2008 828.5 2008 830.5 2008C832.5 2008 834.5 2008 836.5 2008C838.5 2008 840.5 2008 842.5 2008C844.5 2007.9 846.5 2007.9 848.5 2008C850.5 2008 852.5 2008 854.5 2008C856.5 2008 858.5 2008 860.5 2008C862.5 2008 864.5 2008 866.5 2008.1C868.5 2008.1 870.5 2008.1 872.5 2008.1C874.5 2008.2 876.5 2008.2 878.5 2008.2C880.5 2008.3 882.5 2008.3 884.5 2008.4C886.5 2008.5 888.5 2008.6 890.5 2008.7C892.5 2008.8 894.5 2008.9 896.5 2009C898.5 2009.1 900.5 2009.2 902.5 2009.3C904.5 2009.4 906.5 2009.6 908.5 2009.7C910.5 2009.8 912.5 2009.9 914.5 2010C916.5 2010.1 918.5 2010.3 920.5 2010.4C922.5 2010.5 924.5 2010.6 926.5 2010.8C928.5 2010.9 930.5 2011 932.5 2011.2C934.5 2011.3 936.5 2011.5 938.5 2011.6C940.5 2011.8 942.5 2011.9 944.5 2012.1C946.5 2012.2 948.5 2012.4 950.5 2012.5C952.5 2012.7 954.5 2012.9 956.5 2013C958.5 2013.2 960.5 2013.4 962.5 2013.5C964.5 2013.7 966.5 2013.9 968.5 2014.1C970.5 2014.2 972.5 2014.4 974.5 2014.6C976.5 2014.8 978.5 2015 980.5 2015.2C982.5 2015.4 984.5 2015.6 986.5 2015.8C988.5 2016 990.5 2016.2 992.5 2016.4C994.5 2016.6 996.5 2016.8 998.5 2017C1000.5 2017.3 1002.5 2017.5 1004.5 2017.8C1006.5 2018 1008.5 2018.3 1010.5 2018.6C1012.5 2018.9 1014.5 2019.2 1016.5 2019.5C1018.5 2019.7 1020.5 2020.1 1022.5 2020.4C1024.5 2020.7 1026.5 2021 1028.5 2021.3C1030.5 2021.6 1032.5 2021.9 1034.5 2022.2C1036.5 2022.6 1038.5 2022.9 1040.5 2023.2C1042.5 2023.5 1044.5 2023.9 1046.5 2024.2C1048.5 2024.5 1050.5 2024.8 1052.5 2025.2C1054.5 2025.5 1056.5 2025.9 1058.5 2026.2C1060.5 2026.5 1062.5 2026.9 1064.5 2027.2C1066.5 2027.6 1068.5 2027.9 1070.5 2028.3C1072.5 2028.6 1074.5 2029 1076.5 2029.3C1078.5 2029.7 1080.5 2030 1082.5 2030.3C1084.5 2030.7 1086.5 2031 1088.5 2031.3C1090.5 2031.6 1092.5 2032 1094.5 2032.3C1096.5 2032.6 1098.5 2033 1100.5 2033.3C1102.5 2033.7 1104.5 2034 1106.5 2034.4C1108.5 2034.7 1110.5 2035.1 1112.5 2035.4C1114.5 2035.8 1116.5 2036.2 1118.5 2036.6C1120.5 2036.9 1122.5 2037.3 1124.5 2037.7C1126.5 2038.1 1128.5 2038.4 1130.5 2038.8C1132.5 2039.2 1134.5 2039.6 1136.5 2039.9C1138.5 2040.3 1140.5 2040.7 1142.5 2041.1C1144.5 2041.4 1146.5 2041.8 1148.5 2042.2C1150.5 2042.5 1152.5 2042.9 1154.5 2043.3C1156.5 2043.6 1158.5 2043.9 1160.5 2044.3C1162.5 2044.6 1164.5 2044.9 1166.5 2045.2C1168.5 2045.6 1171 2046 1172.5 2046.3C1174 2046.6 1175 2046.9 1175.5 2047" fill="none" stroke="#000" stroke-width="4.9" stroke-linejoin="round" stroke-linecap="round"/>
<path d="M110.5 2219.7C111.5 2219.1 114.5 2217.5 116.5 2216.5C118.5 2215.6 120.5 2214.9 122.5 2214.1C124.5 2213.3 126.5 2212.5 128.5 2211.7C130.5 2210.9 132.5 2210.1 134.5 2209.3C136.5 2208.4 138.5 2207.6 140.5 2206.8C142.5 2206 144.5 2205.2 146.5 2204.4C148.5 2203.6 150.5 2202.8 152.5 2202.1C154.5 2201.3 156.5 2200.6 158.5 2199.9C160.5 2199.1 162.5 2198.5 164.5 2197.8C166.5 2197.1 168.5 2196.4 170.5 2195.8C172.5 2195.1 174.5 2194.5 176.5 2193.9C178.5 2193.3 180.5 2192.7 182.5 2192.1C184.5 2191.5 186.5 2190.9 188.5 2190.3C190.5 2189.8 192.5 2189.2 194.5 2188.7C196.5 2188.1 198.5 2187.6 200.5 2187.1C202.5 2186.6 204.5 2186.1 206.5 2185.6C208.5 2185.1 210.5 2184.6 212.5 2184.2C214.5 2183.8 216.5 2183.3 218.5 2182.9C220.5 2182.5 222.5 2182.1 224.5 2181.7C226.5 2181.3 228.5 2180.9 230.5 2180.5C232.5 2180.2 234.5 2179.8 236.5 2179.5C238.5 2179.1 240.5 2178.8 242.5 2178.5C244.5 2178.1 246.5 2177.8 248.5 2177.5C250.5 2177.2 252.5 2176.9 254.5 2176.6C256.5 2176.4 258.5 2176.1 260.5 2175.8C262.5 2175.6 264.5 2175.3 266.5 2175.1C268.5 2174.8 270.5 2174.6 272.5 2174.3C274.5 2174.1 276.5 2173.9 278.5 2173.6C280.5 2173.4 282.5 2173.2 284.5 2173C286.5 2172.8 288.5 2172.6 290.5 2172.4C292.5 2172.2 294.5 2172 296.5 2171.8C298.5 2171.6 300.5 2171.4 302.5 2171.2C304.5 2171 306.5 2170.9 308.5 2170.7C310.5 2170.5 312.5 2170.3 314.5 2170.2C316.5 2170 318.5 2169.8 320.5 2169.7C322.5 2169.5 324.5 2169.4 326.5 2169.3C328.5 2169.2 330.5 2169.1 332.5 2169C334.5 2168.9 336.5 2168.8 338.5 2168.7C340.5 2168.6 342.5 2168.6 344.5 2168.5C346.5 2168.4 348.5 2168.4 350.5 2168.3C352.5 2168.2 354.5 2168.2 356.5 2168.1C358.5 2168.1 360.5 2168 362.5 2168C364.5 2167.9 366.5 2167.9 368.5 2167.8C370.5 2167.8 372.5 2167.8 374.5 2167.7C376.5 2167.7 378.5 2167.7 380.5 2167.6C382.5 2167.6 384.5 2167.6 386.5 2167.5C388.5 2167.5 390.5 2167.5 392.5 2167.5C394.5 2167.5 396.5 2167.4 398.5 2167.4C400.5 2167.4 402.5 2167.4 404.5 2167.4C406.5 2167.4 408.5 2167.4 410.5 2167.4C412.5 2167.4 414.5 2167.4 416.5 2167.4C418.5 2167.4 420.5 2167.5 422.5 2167.5C424.5 2167.5 426.5 2167.6 428.5 2167.6C430.5 2167.6 432.5 2167.7 434.5 2167.7C436.5 2167.8 438.5 2167.8 440.5 2167.9C442.5 2167.9 444.5 2168 446.5 2168.1C448.5 2168.1 450.5 2168.2 452.5 2168.3C454.5 2168.3 456.5 2168.4 458.5 2168.5C460.5 2168.6 462.5 2168.7 464.5 2168.7C466.5 2168.8 468.5 2168.9 470.5 2169C472.5 2169.2 474.5 2169.3 476.5 2169.4C478.5 2169.5 480.5 2169.6 482.5 2169.7C484.5 2169.9 486.5 2170 488.5 2170.1C490.5 2170.2 492.5 2170.3 494.5 2170.4C496.5 2170.5 498.5 2170.7 500.5 2170.7C502.5 2170.8 504.5 2170.9 506.5 2171C508.5 2171.1 510.5 2171.2 512.5 2171.2C514.5 2171.3 516.5 2171.4 518.5 2171.5C520.5 2171.5 522.5 2171.6 524.5 2171.6C526.5 2171.7 528.5 2171.8 530.5 2171.8C532.5 2171.9 534.5 2171.9 536.5 2172C538.5 2172 540.5 2172.1 542.5 2172.1C544.5 2172.2 546.5 2172.2 548.5 2172.3C550.5 2172.3 552.5 2172.4 554.5 2172.4C556.5 2172.5 558.5 2172.5 560.5 2172.6C562.5 2172.6 564.5 2172.6 566.5 2172.7C568.5 2172.7 570.5 2172.7 572.5 2172.7C574.5 2172.7 576.5 2172.7 578.5 2172.7C580.5 2172.7 582.5 2172.6 584.5 2172.6C586.5 2172.6 588.5 2172.6 590.5 2172.5C592.5 2172.5 594.5 2172.4 596.5 2172.4C598.5 2172.3 600.5 2172.2 602.5 2172.2C604.5 2172.1 606.5 2172 608.5 2172C610.5 2171.9 612.5 2171.8 614.5 2171.7C616.5 2171.6 618.5 2171.5 620.5 2171.4C622.5 2171.3 624.5 2171.2 626.5 2171.1C628.5 2170.9 630.5 2170.8 632.5 2170.7C634.5 2170.5 636.5 2170.4 638.5 2170.2C640.5 2170 642.5 2169.9 644.5 2169.6C646.5 2169.4 648.5 2169.2 650.5 2168.9C652.5 2168.7 654.5 2168.4 656.5 2168.1C658.5 2167.8 660.5 2167.4 662.5 2167.1C664.5 2166.8 666.5 2166.4 668.5 2166C670.5 2165.7 672.5 2165.3 674.5 2165C676.5 2164.7 678.5 2164.4 680.5 2164.1C682.5 2163.8 684.5 2163.6 686.5 2163.3C688.5 2163.1 690.5 2162.9 692.5 2162.6C694.5 2162.4 696.5 2162.2 698.5 2161.9C700.5 2161.6 702.5 2161.3 704.5 2161C706.5 2160.6 708.5 2160.3 710.5 2159.9C712.5 2159.5 714.5 2159.1 716.5 2158.7C718.5 2158.3 720.5 2157.9 722.5 2157.5C724.5 2157.1 726.5 2156.6 728.5 2156.2C730.5 2155.7 732.5 2155.3 734.5 2154.8C736.5 2154.4 738.5 2153.9 740.5 2153.4C742.5 2153 744.5 2152.5 746.5 2152.1C748.5 2151.7 750.5 2151.2 752.5 2150.8C754.5 2150.4 756.5 2150 758.5 2149.6C760.5 2149.2 762.5 2148.8 764.5 2148.4C766.5 2148 768.5 2147.6 770.5 2147.2C772.5 2146.8 774.5 2146.4 776.5 2146C778.5 2145.6 780.5 2145.2 782.5 2144.8C784.5 2144.4 786.5 2144 788.5 2143.6C790.5 2143.2 792.5 2142.8 794.5 2142.4C796.5 2142 798.5 2141.6 800.5 2141.2C802.5 2140.8 804.5 2140.4 806.5 2140C808.5 2139.6 810.5 2139.2 812.5 2138.7C814.5 2138.3 816.5 2137.9 818.5 2137.5C820.5 2137.1 822.5 2136.6 824.5 2136.2C826.5 2135.8 828.5 2135.3 830.5 2134.8C832.5 2134.4 834.5 2133.9 836.5 2133.5C838.5 2133 840.5 2132.5 842.5 2132.1C844.5 2131.7 846.5 2131.2 848.5 2130.8C850.5 2130.4 852.5 2130 854.5 2129.6C856.5 2129.2 858.5 2128.8 860.5 2128.4C862.5 2128 864.5 2127.6 866.5 2127.2C868.5 2126.8 870.5 2126.4 872.5 2126C874.5 2125.7 876.5 2125.3 878.5 2124.9C880.5 2124.5 882.5 2124.1 884.5 2123.7C886.5 2123.4 888.5 2123 890.5 2122.6C892.5 2122.2 894.5 2121.8 896.5 2121.4C898.5 2120.9 900.5 2120.5 902.5 2120.1C904.5 2119.7 906.5 2119.2 908.5 2118.8C910.5 2118.4 912.5 2118 914.5 2117.6C916.5 2117.2 918.5 2116.8 920.5 2116.4C922.5 2116 924.5 2115.7 926.5 2115.3C928.5 2115 930.5 2114.7 932.5 2114.3C934.5 2114 936.5 2113.8 938.5 2113.5C940.5 2113.2 942.5 2113 944.5 2112.7C946.5 2112.4 948.5 2112.2 950.5 2111.9C952.5 2111.6 954.5 2111.4 956.5 2111.1C958.5 2110.8 960.5 2110.5 962.5 2110.2C964.5 2110 966.5 2109.7 968.5 2109.4C970.5 2109.1 972.5 2108.8 974.5 2108.5C976.5 2108.2 978.5 2108 980.5 2107.7C982.5 2107.5 984.5 2107.2 986.5 2107C988.5 2106.8 990.5 2106.6 992.5 2106.4C994.5 2106.2 996.5 2106 998.5 2105.8C1000.5 2105.6 1002.5 2105.4 1004.5 2105.2C1006.5 2105 1008.5 2104.8 1010.5 2104.6C1012.5 2104.4 1014.5 2104.2 1016.5 2104C1018.5 2103.8 1020.5 2103.6 1022.5 2103.4C1024.5 2103.2 1026.5 2103 1028.5 2102.9C1030.5 2102.7 1032.5 2102.6 1034.5 2102.4C1036.5 2102.3 1038.5 2102.2 1040.5 2102.1C1042.5 2101.9 1044.5 2101.8 1046.5 2101.7C1048.5 2101.6 1050.5 2101.5 1052.5 2101.4C1054.5 2101.3 1056.5 2101.2 1058.5 2101.1C1060.5 2101 1062.5 2100.8 1064.5 2100.7C1066.5 2100.6 1068.5 2100.5 1070.5 2100.4C1072.5 2100.2 1074.5 2100.1 1076.5 2100C1078.5 2099.9 1080.5 2099.8 1082.5 2099.7C1084.5 2099.6 1086.5 2099.5 1088.5 2099.4C1090.5 2099.3 1092.5 2099.3 1094.5 2099.2C1096.5 2099.1 1098.5 2099 1100.5 2099C1102.5 2098.9 1104.5 2098.8 1106.5 2098.7C1108.5 2098.7 1110.5 2098.6 1112.5 2098.5C1114.5 2098.4 1116.5 2098.4 1118.5 2098.3C1120.5 2098.2 1122.5 2098.1 1124.5 2098.1C1126.5 2098 1128.5 2098 1130.5 2097.9C1132.5 2097.9 1134.5 2097.8 1136.5 2097.8C1138.5 2097.8 1140.5 2097.8 1142.5 2097.8C1144.5 2097.8 1146.5 2097.8 1148.5 2097.8C1150.5 2097.8 1152.5 2097.8 1154.5 2097.9C1156.5 2097.9 1158.5 2097.9 1160.5 2098C1162.5 2098 1164.5 2098 1166.5 2098.1C1168.5 2098.1 1171 2098.2 1172.5 2098.3C1174 2098.3 1175 2098.4 1175.5 2098.4" fill="none" stroke="#000" stroke-width="4.9" stroke-linejoin="round" stroke-dasharray="12 4.7 3.7 4.7"/>
<rect x="1103.3" y="2207.3" width="72.8" height="49.2" fill="#fff" stroke="#000" stroke-width="2"/>
<line x1="1107" y1="2220.6" x2="1140" y2="2220.6" stroke="#000" stroke-width="4.2" stroke-dasharray="11.7 4.8 3.3 4.8"/>
<line x1="1107" y1="2242.1" x2="1140" y2="2242.1" stroke="#000" stroke-width="4.2"/>
<text x="1145.7" y="2227.5" font-family="Liberation Sans, sans-serif" font-size="18" font-weight="bold" font-style="normal" fill="#000" textLength="21.50" lengthAdjust="spacingAndGlyphs">(1)</text>
<text x="1145.7" y="2249.5" font-family="Liberation Sans, sans-serif" font-size="18" font-weight="bold" font-style="normal" fill="#000" textLength="21.50" lengthAdjust="spacingAndGlyphs">(2)</text>
<text x="247.2" y="2031.7" font-family="Liberation Sans, sans-serif" font-size="25" font-weight="bold" font-style="normal" fill="#000" textLength="28.50" lengthAdjust="spacingAndGlyphs">(1)</text>
<text x="307.2" y="2031.7" font-family="Liberation Sans, sans-serif" font-size="26" font-weight="bold" font-style="normal" fill="#000" textLength="115.69" lengthAdjust="spacingAndGlyphs">With DGS</text>
<text x="480" y="2151.2" font-family="Liberation Sans, sans-serif" font-size="25" font-weight="bold" font-style="normal" fill="#000" textLength="28.60" lengthAdjust="spacingAndGlyphs">(2)</text>
<text x="540.1" y="2151.2" font-family="Liberation Sans, sans-serif" font-size="26" font-weight="bold" font-style="normal" fill="#000" textLength="150.20" lengthAdjust="spacingAndGlyphs">With no DGS</text>
<text transform="translate(72.4 2238.9) rotate(-90)" x="0" y="0" font-family="Liberation Sans, sans-serif" font-size="23" font-weight="bold" font-style="normal" fill="#000" textLength="235.29" lengthAdjust="spacingAndGlyphs">Radiation Efficiency (%)</text>
<text x="562" y="2304" font-family="Liberation Sans, sans-serif" font-size="22" font-weight="bold" font-style="normal" fill="#000" textLength="166.90" lengthAdjust="spacingAndGlyphs">Frequency (GHz)</text>
<text x="82.6" y="2002.2" font-family="Liberation Sans, sans-serif" font-size="21.5" font-weight="bold" font-style="normal" fill="#000" textLength="22.31" lengthAdjust="spacingAndGlyphs">75</text>
<text x="81.7" y="2087.2" font-family="Liberation Sans, sans-serif" font-size="21.5" font-weight="bold" font-style="normal" fill="#000" textLength="22.71" lengthAdjust="spacingAndGlyphs">65</text>
<text x="81.8" y="2173.5" font-family="Liberation Sans, sans-serif" font-size="21.5" font-weight="bold" font-style="normal" fill="#000" textLength="23.01" lengthAdjust="spacingAndGlyphs">55</text>
<text x="81.4" y="2261.1" font-family="Liberation Sans, sans-serif" font-size="21.5" font-weight="bold" font-style="normal" fill="#000" textLength="23.41" lengthAdjust="spacingAndGlyphs">45</text>
<text x="100.9" y="2279.2" font-family="Liberation Sans, sans-serif" font-size="21.5" font-weight="bold" font-style="normal" fill="#000" textLength="22.21" lengthAdjust="spacingAndGlyphs">25</text>
<text x="310.1" y="2279.2" font-family="Liberation Sans, sans-serif" font-size="21.5" font-weight="bold" font-style="normal" fill="#000" textLength="21.41" lengthAdjust="spacingAndGlyphs">26</text>
<text x="524.4" y="2279.2" font-family="Liberation Sans, sans-serif" font-size="21.5" font-weight="bold" font-style="normal" fill="#000" textLength="21.41" lengthAdjust="spacingAndGlyphs">27</text>
<text x="738.7" y="2279.2" font-family="Liberation Sans, sans-serif" font-size="21.5" font-weight="bold" font-style="normal" fill="#000" textLength="22.21" lengthAdjust="spacingAndGlyphs">28</text>
<text x="953.7" y="2279.2" font-family="Liberation Sans, sans-serif" font-size="21.5" font-weight="bold" font-style="normal" fill="#000" textLength="22.61" lengthAdjust="spacingAndGlyphs">29</text>
<text x="1160.2" y="2279.2" font-family="Liberation Sans, sans-serif" font-size="21.5" font-weight="bold" font-style="normal" fill="#000" textLength="22.61" lengthAdjust="spacingAndGlyphs">30</text>
<text x="171.1" y="497.5" font-family="Liberation Serif, sans-serif" font-size="33.5" font-weight="normal" font-style="normal" fill="#000" textLength="30.90" lengthAdjust="spacingAndGlyphs">(a)</text>
<text x="575.6" y="499.3" font-family="Liberation Serif, sans-serif" font-size="33.5" font-weight="normal" font-style="normal" fill="#000" textLength="32.40" lengthAdjust="spacingAndGlyphs">(b)</text>
<text x="1012.7" y="499.5" font-family="Liberation Serif, sans-serif" font-size="33.5" font-weight="normal" font-style="normal" fill="#000" textLength="30.50" lengthAdjust="spacingAndGlyphs">(c)</text>
<text x="593.7" y="1472.8" font-family="Liberation Serif, sans-serif" font-size="33.5" font-weight="normal" font-style="normal" fill="#000" textLength="34.10" lengthAdjust="spacingAndGlyphs">(d)</text>
<text x="592.5" y="1932.9" font-family="Liberation Serif, sans-serif" font-size="33.5" font-weight="normal" font-style="normal" fill="#000" textLength="31.70" lengthAdjust="spacingAndGlyphs">(e)</text>
<text x="612.5" y="2353.5" font-family="Liberation Serif, sans-serif" font-size="33.5" font-weight="normal" font-style="normal" fill="#000" textLength="28.20" lengthAdjust="spacingAndGlyphs">(f)</text>
<rect x="1.8" y="1.8" width="380.2" height="441.7" fill="#e6e600"/>
<rect x="42.4" y="49.4" width="299.3" height="346.8" fill="none" stroke="#ffff00" stroke-width="1.4"/>
<rect x="43.1" y="50.1" width="297.9" height="345.4" fill="#007300"/>
<g transform="translate(126.7 77.7) scale(0.0955 0.1235) rotate(90)">
<path d="M-159 0 L-79.9 -160.7 L79.9 -160.7 L159 0 L79.9 160.7 L-79.9 160.7ZM-132.7 0 L-67.2 -134.1 L67.2 -134.1 L132.7 0 L67.2 134.1 L-67.2 134.1ZM-106 0 L-52.7 -107 L52.7 -107 L106 0 L52.7 107 L-52.7 107ZM-80.3 0 L-40.3 -80.3 L40.3 -80.3 L80.3 0 L40.3 80.3 L-40.3 80.3ZM-52.3 0 L-26 -53 L26 -53 L52.3 0 L26 53 L-26 53ZM-26 0 L-13.3 -26.7 L13.3 -26.7 L26 0 L13.3 26.7 L-13.3 26.7Z" fill="#ffff00" fill-rule="evenodd" stroke="#ffff00" stroke-width="4"/>
<rect x="-166" y="-15.8" width="50" height="32.4" fill="#007300"/>
<rect x="58" y="-15.8" width="54" height="32.4" fill="#007300"/>
<rect x="-57" y="-15.8" width="42" height="32.4" fill="#007300"/>
<rect x="-10.8" y="-134.6" width="25.8" height="28.2" fill="#ffff00"/>
<rect x="-10.8" y="52.5" width="25.8" height="28.3" fill="#ffff00"/>
</g>
<g transform="translate(192 77.7) scale(0.0955 0.1235) rotate(90)">
<path d="M-159 0 L-79.9 -160.7 L79.9 -160.7 L159 0 L79.9 160.7 L-79.9 160.7ZM-132.7 0 L-67.2 -134.1 L67.2 -134.1 L132.7 0 L67.2 134.1 L-67.2 134.1ZM-106 0 L-52.7 -107 L52.7 -107 L106 0 L52.7 107 L-52.7 107ZM-80.3 0 L-40.3 -80.3 L40.3 -80.3 L80.3 0 L40.3 80.3 L-40.3 80.3ZM-52.3 0 L-26 -53 L26 -53 L52.3 0 L26 53 L-26 53ZM-26 0 L-13.3 -26.7 L13.3 -26.7 L26 0 L13.3 26.7 L-13.3 26.7Z" fill="#ffff00" fill-rule="evenodd" stroke="#ffff00" stroke-width="4"/>
<rect x="-166" y="-15.8" width="50" height="32.4" fill="#007300"/>
<rect x="58" y="-15.8" width="54" height="32.4" fill="#007300"/>
<rect x="-57" y="-15.8" width="42" height="32.4" fill="#007300"/>
<rect x="-10.8" y="-134.6" width="25.8" height="28.2" fill="#ffff00"/>
<rect x="-10.8" y="52.5" width="25.8" height="28.3" fill="#ffff00"/>
</g>
<g transform="translate(257.4 77.7) scale(0.0955 0.1235) rotate(90)">
<path d="M-159 0 L-79.9 -160.7 L79.9 -160.7 L159 0 L79.9 160.7 L-79.9 160.7ZM-132.7 0 L-67.2 -134.1 L67.2 -134.1 L132.7 0 L67.2 134.1 L-67.2 134.1ZM-106 0 L-52.7 -107 L52.7 -107 L106 0 L52.7 107 L-52.7 107ZM-80.3 0 L-40.3 -80.3 L40.3 -80.3 L80.3 0 L40.3 80.3 L-40.3 80.3ZM-52.3 0 L-26 -53 L26 -53 L52.3 0 L26 53 L-26 53ZM-26 0 L-13.3 -26.7 L13.3 -26.7 L26 0 L13.3 26.7 L-13.3 26.7Z" fill="#ffff00" fill-rule="evenodd" stroke="#ffff00" stroke-width="4"/>
<rect x="-166" y="-15.8" width="50" height="32.4" fill="#007300"/>
<rect x="58" y="-15.8" width="54" height="32.4" fill="#007300"/>
<rect x="-57" y="-15.8" width="42" height="32.4" fill="#007300"/>
<rect x="-10.8" y="-134.6" width="25.8" height="28.2" fill="#ffff00"/>
<rect x="-10.8" y="52.5" width="25.8" height="28.3" fill="#ffff00"/>
</g>
<g transform="translate(159.3 146.6) scale(0.0955 0.1235) rotate(90)">
<path d="M-159 0 L-79.9 -160.7 L79.9 -160.7 L159 0 L79.9 160.7 L-79.9 160.7ZM-132.7 0 L-67.2 -134.1 L67.2 -134.1 L132.7 0 L67.2 134.1 L-67.2 134.1ZM-106 0 L-52.7 -107 L52.7 -107 L106 0 L52.7 107 L-52.7 107ZM-80.3 0 L-40.3 -80.3 L40.3 -80.3 L80.3 0 L40.3 80.3 L-40.3 80.3ZM-52.3 0 L-26 -53 L26 -53 L52.3 0 L26 53 L-26 53ZM-26 0 L-13.3 -26.7 L13.3 -26.7 L26 0 L13.3 26.7 L-13.3 26.7Z" fill="#ffff00" fill-rule="evenodd" stroke="#ffff00" stroke-width="4"/>
<rect x="-166" y="-15.8" width="50" height="32.4" fill="#007300"/>
<rect x="58" y="-15.8" width="54" height="32.4" fill="#007300"/>
<rect x="-57" y="-15.8" width="42" height="32.4" fill="#007300"/>
<rect x="-10.8" y="-134.6" width="25.8" height="28.2" fill="#ffff00"/>
<rect x="-10.8" y="52.5" width="25.8" height="28.3" fill="#ffff00"/>
</g>
<g transform="translate(224.7 146.6) scale(0.0955 0.1235) rotate(90)">
<path d="M-159 0 L-79.9 -160.7 L79.9 -160.7 L159 0 L79.9 160.7 L-79.9 160.7ZM-132.7 0 L-67.2 -134.1 L67.2 -134.1 L132.7 0 L67.2 134.1 L-67.2 134.1ZM-106 0 L-52.7 -107 L52.7 -107 L106 0 L52.7 107 L-52.7 107ZM-80.3 0 L-40.3 -80.3 L40.3 -80.3 L80.3 0 L40.3 80.3 L-40.3 80.3ZM-52.3 0 L-26 -53 L26 -53 L52.3 0 L26 53 L-26 53ZM-26 0 L-13.3 -26.7 L13.3 -26.7 L26 0 L13.3 26.7 L-13.3 26.7Z" fill="#ffff00" fill-rule="evenodd" stroke="#ffff00" stroke-width="4"/>
<rect x="-166" y="-15.8" width="50" height="32.4" fill="#007300"/>
<rect x="58" y="-15.8" width="54" height="32.4" fill="#007300"/>
<rect x="-57" y="-15.8" width="42" height="32.4" fill="#007300"/>
<rect x="-10.8" y="-134.6" width="25.8" height="28.2" fill="#ffff00"/>
<rect x="-10.8" y="52.5" width="25.8" height="28.3" fill="#ffff00"/>
</g>
<g transform="translate(159.3 298.3) scale(0.0955 0.1235) rotate(90)">
<path d="M-159 0 L-79.9 -160.7 L79.9 -160.7 L159 0 L79.9 160.7 L-79.9 160.7ZM-132.7 0 L-67.2 -134.1 L67.2 -134.1 L132.7 0 L67.2 134.1 L-67.2 134.1ZM-106 0 L-52.7 -107 L52.7 -107 L106 0 L52.7 107 L-52.7 107ZM-80.3 0 L-40.3 -80.3 L40.3 -80.3 L80.3 0 L40.3 80.3 L-40.3 80.3ZM-52.3 0 L-26 -53 L26 -53 L52.3 0 L26 53 L-26 53ZM-26 0 L-13.3 -26.7 L13.3 -26.7 L26 0 L13.3 26.7 L-13.3 26.7Z" fill="#ffff00" fill-rule="evenodd" stroke="#ffff00" stroke-width="4"/>
<rect x="-166" y="-15.8" width="50" height="32.4" fill="#007300"/>
<rect x="58" y="-15.8" width="54" height="32.4" fill="#007300"/>
<rect x="-57" y="-15.8" width="42" height="32.4" fill="#007300"/>
<rect x="-10.8" y="-134.6" width="25.8" height="28.2" fill="#ffff00"/>
<rect x="-10.8" y="52.5" width="25.8" height="28.3" fill="#ffff00"/>
</g>
<g transform="translate(224.7 298.3) scale(0.0955 0.1235) rotate(90)">
<path d="M-159 0 L-79.9 -160.7 L79.9 -160.7 L159 0 L79.9 160.7 L-79.9 160.7ZM-132.7 0 L-67.2 -134.1 L67.2 -134.1 L132.7 0 L67.2 134.1 L-67.2 134.1ZM-106 0 L-52.7 -107 L52.7 -107 L106 0 L52.7 107 L-52.7 107ZM-80.3 0 L-40.3 -80.3 L40.3 -80.3 L80.3 0 L40.3 80.3 L-40.3 80.3ZM-52.3 0 L-26 -53 L26 -53 L52.3 0 L26 53 L-26 53ZM-26 0 L-13.3 -26.7 L13.3 -26.7 L26 0 L13.3 26.7 L-13.3 26.7Z" fill="#ffff00" fill-rule="evenodd" stroke="#ffff00" stroke-width="4"/>
<rect x="-166" y="-15.8" width="50" height="32.4" fill="#007300"/>
<rect x="58" y="-15.8" width="54" height="32.4" fill="#007300"/>
<rect x="-57" y="-15.8" width="42" height="32.4" fill="#007300"/>
<rect x="-10.8" y="-134.6" width="25.8" height="28.2" fill="#ffff00"/>
<rect x="-10.8" y="52.5" width="25.8" height="28.3" fill="#ffff00"/>
</g>
<g transform="translate(126.7 367.4) scale(0.0955 0.1235) rotate(90)">
<path d="M-159 0 L-79.9 -160.7 L79.9 -160.7 L159 0 L79.9 160.7 L-79.9 160.7ZM-132.7 0 L-67.2 -134.1 L67.2 -134.1 L132.7 0 L67.2 134.1 L-67.2 134.1ZM-106 0 L-52.7 -107 L52.7 -107 L106 0 L52.7 107 L-52.7 107ZM-80.3 0 L-40.3 -80.3 L40.3 -80.3 L80.3 0 L40.3 80.3 L-40.3 80.3ZM-52.3 0 L-26 -53 L26 -53 L52.3 0 L26 53 L-26 53ZM-26 0 L-13.3 -26.7 L13.3 -26.7 L26 0 L13.3 26.7 L-13.3 26.7Z" fill="#ffff00" fill-rule="evenodd" stroke="#ffff00" stroke-width="4"/>
<rect x="-166" y="-15.8" width="50" height="32.4" fill="#007300"/>
<rect x="58" y="-15.8" width="54" height="32.4" fill="#007300"/>
<rect x="-57" y="-15.8" width="42" height="32.4" fill="#007300"/>
<rect x="-10.8" y="-134.6" width="25.8" height="28.2" fill="#ffff00"/>
<rect x="-10.8" y="52.5" width="25.8" height="28.3" fill="#ffff00"/>
</g>
<g transform="translate(192 367.4) scale(0.0955 0.1235) rotate(90)">
<path d="M-159 0 L-79.9 -160.7 L79.9 -160.7 L159 0 L79.9 160.7 L-79.9 160.7ZM-132.7 0 L-67.2 -134.1 L67.2 -134.1 L132.7 0 L67.2 134.1 L-67.2 134.1ZM-106 0 L-52.7 -107 L52.7 -107 L106 0 L52.7 107 L-52.7 107ZM-80.3 0 L-40.3 -80.3 L40.3 -80.3 L80.3 0 L40.3 80.3 L-40.3 80.3ZM-52.3 0 L-26 -53 L26 -53 L52.3 0 L26 53 L-26 53ZM-26 0 L-13.3 -26.7 L13.3 -26.7 L26 0 L13.3 26.7 L-13.3 26.7Z" fill="#ffff00" fill-rule="evenodd" stroke="#ffff00" stroke-width="4"/>
<rect x="-166" y="-15.8" width="50" height="32.4" fill="#007300"/>
<rect x="58" y="-15.8" width="54" height="32.4" fill="#007300"/>
<rect x="-57" y="-15.8" width="42" height="32.4" fill="#007300"/>
<rect x="-10.8" y="-134.6" width="25.8" height="28.2" fill="#ffff00"/>
<rect x="-10.8" y="52.5" width="25.8" height="28.3" fill="#ffff00"/>
</g>
<g transform="translate(257.4 367.4) scale(0.0955 0.1235) rotate(90)">
<path d="M-159 0 L-79.9 -160.7 L79.9 -160.7 L159 0 L79.9 160.7 L-79.9 160.7ZM-132.7 0 L-67.2 -134.1 L67.2 -134.1 L132.7 0 L67.2 134.1 L-67.2 134.1ZM-106 0 L-52.7 -107 L52.7 -107 L106 0 L52.7 107 L-52.7 107ZM-80.3 0 L-40.3 -80.3 L40.3 -80.3 L80.3 0 L40.3 80.3 L-40.3 80.3ZM-52.3 0 L-26 -53 L26 -53 L52.3 0 L26 53 L-26 53ZM-26 0 L-13.3 -26.7 L13.3 -26.7 L26 0 L13.3 26.7 L-13.3 26.7Z" fill="#ffff00" fill-rule="evenodd" stroke="#ffff00" stroke-width="4"/>
<rect x="-166" y="-15.8" width="50" height="32.4" fill="#007300"/>
<rect x="58" y="-15.8" width="54" height="32.4" fill="#007300"/>
<rect x="-57" y="-15.8" width="42" height="32.4" fill="#007300"/>
<rect x="-10.8" y="-134.6" width="25.8" height="28.2" fill="#ffff00"/>
<rect x="-10.8" y="52.5" width="25.8" height="28.3" fill="#ffff00"/>
</g>
<g transform="translate(67.2 146.6) scale(0.1075 0.1133)">
<path d="M-159 0 L-79.9 -160.7 L79.9 -160.7 L159 0 L79.9 160.7 L-79.9 160.7ZM-132.7 0 L-67.2 -134.1 L67.2 -134.1 L132.7 0 L67.2 134.1 L-67.2 134.1ZM-106 0 L-52.7 -107 L52.7 -107 L106 0 L52.7 107 L-52.7 107ZM-80.3 0 L-40.3 -80.3 L40.3 -80.3 L80.3 0 L40.3 80.3 L-40.3 80.3ZM-52.3 0 L-26 -53 L26 -53 L52.3 0 L26 53 L-26 53ZM-26 0 L-13.3 -26.7 L13.3 -26.7 L26 0 L13.3 26.7 L-13.3 26.7Z" fill="#ffff00" fill-rule="evenodd" stroke="#ffff00" stroke-width="4"/>
<rect x="-166" y="-15.8" width="50" height="32.4" fill="#007300"/>
<rect x="58" y="-15.8" width="54" height="32.4" fill="#007300"/>
<rect x="-57" y="-15.8" width="42" height="32.4" fill="#007300"/>
<rect x="-10.8" y="-134.6" width="25.8" height="28.2" fill="#ffff00"/>
<rect x="-10.8" y="52.5" width="25.8" height="28.3" fill="#ffff00"/>
</g>
<g transform="translate(316.8 146.6) scale(0.1075 0.1133)">
<path d="M-159 0 L-79.9 -160.7 L79.9 -160.7 L159 0 L79.9 160.7 L-79.9 160.7ZM-132.7 0 L-67.2 -134.1 L67.2 -134.1 L132.7 0 L67.2 134.1 L-67.2 134.1ZM-106 0 L-52.7 -107 L52.7 -107 L106 0 L52.7 107 L-52.7 107ZM-80.3 0 L-40.3 -80.3 L40.3 -80.3 L80.3 0 L40.3 80.3 L-40.3 80.3ZM-52.3 0 L-26 -53 L26 -53 L52.3 0 L26 53 L-26 53ZM-26 0 L-13.3 -26.7 L13.3 -26.7 L26 0 L13.3 26.7 L-13.3 26.7Z" fill="#ffff00" fill-rule="evenodd" stroke="#ffff00" stroke-width="4"/>
<rect x="-166" y="-15.8" width="50" height="32.4" fill="#007300"/>
<rect x="58" y="-15.8" width="54" height="32.4" fill="#007300"/>
<rect x="-57" y="-15.8" width="42" height="32.4" fill="#007300"/>
<rect x="-10.8" y="-134.6" width="25.8" height="28.2" fill="#ffff00"/>
<rect x="-10.8" y="52.5" width="25.8" height="28.3" fill="#ffff00"/>
</g>
<g transform="translate(126.7 184.4) scale(0.1075 0.1133)">
<path d="M-159 0 L-79.9 -160.7 L79.9 -160.7 L159 0 L79.9 160.7 L-79.9 160.7ZM-132.7 0 L-67.2 -134.1 L67.2 -134.1 L132.7 0 L67.2 134.1 L-67.2 134.1ZM-106 0 L-52.7 -107 L52.7 -107 L106 0 L52.7 107 L-52.7 107ZM-80.3 0 L-40.3 -80.3 L40.3 -80.3 L80.3 0 L40.3 80.3 L-40.3 80.3ZM-52.3 0 L-26 -53 L26 -53 L52.3 0 L26 53 L-26 53ZM-26 0 L-13.3 -26.7 L13.3 -26.7 L26 0 L13.3 26.7 L-13.3 26.7Z" fill="#ffff00" fill-rule="evenodd" stroke="#ffff00" stroke-width="4"/>
<rect x="-166" y="-15.8" width="50" height="32.4" fill="#007300"/>
<rect x="58" y="-15.8" width="54" height="32.4" fill="#007300"/>
<rect x="-57" y="-15.8" width="42" height="32.4" fill="#007300"/>
<rect x="-10.8" y="-134.6" width="25.8" height="28.2" fill="#ffff00"/>
<rect x="-10.8" y="52.5" width="25.8" height="28.3" fill="#ffff00"/>
</g>
<g transform="translate(257.4 184.4) scale(0.1075 0.1133)">
<path d="M-159 0 L-79.9 -160.7 L79.9 -160.7 L159 0 L79.9 160.7 L-79.9 160.7ZM-132.7 0 L-67.2 -134.1 L67.2 -134.1 L132.7 0 L67.2 134.1 L-67.2 134.1ZM-106 0 L-52.7 -107 L52.7 -107 L106 0 L52.7 107 L-52.7 107ZM-80.3 0 L-40.3 -80.3 L40.3 -80.3 L80.3 0 L40.3 80.3 L-40.3 80.3ZM-52.3 0 L-26 -53 L26 -53 L52.3 0 L26 53 L-26 53ZM-26 0 L-13.3 -26.7 L13.3 -26.7 L26 0 L13.3 26.7 L-13.3 26.7Z" fill="#ffff00" fill-rule="evenodd" stroke="#ffff00" stroke-width="4"/>
<rect x="-166" y="-15.8" width="50" height="32.4" fill="#007300"/>
<rect x="58" y="-15.8" width="54" height="32.4" fill="#007300"/>
<rect x="-57" y="-15.8" width="42" height="32.4" fill="#007300"/>
<rect x="-10.8" y="-134.6" width="25.8" height="28.2" fill="#ffff00"/>
<rect x="-10.8" y="52.5" width="25.8" height="28.3" fill="#ffff00"/>
</g>
<g transform="translate(67.2 222.6) scale(0.1075 0.1133)">
<path d="M-159 0 L-79.9 -160.7 L79.9 -160.7 L159 0 L79.9 160.7 L-79.9 160.7ZM-132.7 0 L-67.2 -134.1 L67.2 -134.1 L132.7 0 L67.2 134.1 L-67.2 134.1ZM-106 0 L-52.7 -107 L52.7 -107 L106 0 L52.7 107 L-52.7 107ZM-80.3 0 L-40.3 -80.3 L40.3 -80.3 L80.3 0 L40.3 80.3 L-40.3 80.3ZM-52.3 0 L-26 -53 L26 -53 L52.3 0 L26 53 L-26 53ZM-26 0 L-13.3 -26.7 L13.3 -26.7 L26 0 L13.3 26.7 L-13.3 26.7Z" fill="#ffff00" fill-rule="evenodd" stroke="#ffff00" stroke-width="4"/>
<rect x="-166" y="-15.8" width="50" height="32.4" fill="#007300"/>
<rect x="58" y="-15.8" width="54" height="32.4" fill="#007300"/>
<rect x="-57" y="-15.8" width="42" height="32.4" fill="#007300"/>
<rect x="-10.8" y="-134.6" width="25.8" height="28.2" fill="#ffff00"/>
<rect x="-10.8" y="52.5" width="25.8" height="28.3" fill="#ffff00"/>
</g>
<g transform="translate(192 222.6) scale(0.1075 0.1133)">
<path d="M-159 0 L-79.9 -160.7 L79.9 -160.7 L159 0 L79.9 160.7 L-79.9 160.7ZM-132.7 0 L-67.2 -134.1 L67.2 -134.1 L132.7 0 L67.2 134.1 L-67.2 134.1ZM-106 0 L-52.7 -107 L52.7 -107 L106 0 L52.7 107 L-52.7 107ZM-80.3 0 L-40.3 -80.3 L40.3 -80.3 L80.3 0 L40.3 80.3 L-40.3 80.3ZM-52.3 0 L-26 -53 L26 -53 L52.3 0 L26 53 L-26 53ZM-26 0 L-13.3 -26.7 L13.3 -26.7 L26 0 L13.3 26.7 L-13.3 26.7Z" fill="#ffff00" fill-rule="evenodd" stroke="#ffff00" stroke-width="4"/>
<rect x="-166" y="-15.8" width="50" height="32.4" fill="#007300"/>
<rect x="58" y="-15.8" width="54" height="32.4" fill="#007300"/>
<rect x="-57" y="-15.8" width="42" height="32.4" fill="#007300"/>
<rect x="-10.8" y="-134.6" width="25.8" height="28.2" fill="#ffff00"/>
<rect x="-10.8" y="52.5" width="25.8" height="28.3" fill="#ffff00"/>
</g>
<g transform="translate(316.8 222.6) scale(0.1075 0.1133)">
<path d="M-159 0 L-79.9 -160.7 L79.9 -160.7 L159 0 L79.9 160.7 L-79.9 160.7ZM-132.7 0 L-67.2 -134.1 L67.2 -134.1 L132.7 0 L67.2 134.1 L-67.2 134.1ZM-106 0 L-52.7 -107 L52.7 -107 L106 0 L52.7 107 L-52.7 107ZM-80.3 0 L-40.3 -80.3 L40.3 -80.3 L80.3 0 L40.3 80.3 L-40.3 80.3ZM-52.3 0 L-26 -53 L26 -53 L52.3 0 L26 53 L-26 53ZM-26 0 L-13.3 -26.7 L13.3 -26.7 L26 0 L13.3 26.7 L-13.3 26.7Z" fill="#ffff00" fill-rule="evenodd" stroke="#ffff00" stroke-width="4"/>
<rect x="-166" y="-15.8" width="50" height="32.4" fill="#007300"/>
<rect x="58" y="-15.8" width="54" height="32.4" fill="#007300"/>
<rect x="-57" y="-15.8" width="42" height="32.4" fill="#007300"/>
<rect x="-10.8" y="-134.6" width="25.8" height="28.2" fill="#ffff00"/>
<rect x="-10.8" y="52.5" width="25.8" height="28.3" fill="#ffff00"/>
</g>
<g transform="translate(126.7 260.4) scale(0.1075 0.1133)">
<path d="M-159 0 L-79.9 -160.7 L79.9 -160.7 L159 0 L79.9 160.7 L-79.9 160.7ZM-132.7 0 L-67.2 -134.1 L67.2 -134.1 L132.7 0 L67.2 134.1 L-67.2 134.1ZM-106 0 L-52.7 -107 L52.7 -107 L106 0 L52.7 107 L-52.7 107ZM-80.3 0 L-40.3 -80.3 L40.3 -80.3 L80.3 0 L40.3 80.3 L-40.3 80.3ZM-52.3 0 L-26 -53 L26 -53 L52.3 0 L26 53 L-26 53ZM-26 0 L-13.3 -26.7 L13.3 -26.7 L26 0 L13.3 26.7 L-13.3 26.7Z" fill="#ffff00" fill-rule="evenodd" stroke="#ffff00" stroke-width="4"/>
<rect x="-166" y="-15.8" width="50" height="32.4" fill="#007300"/>
<rect x="58" y="-15.8" width="54" height="32.4" fill="#007300"/>
<rect x="-57" y="-15.8" width="42" height="32.4" fill="#007300"/>
<rect x="-10.8" y="-134.6" width="25.8" height="28.2" fill="#ffff00"/>
<rect x="-10.8" y="52.5" width="25.8" height="28.3" fill="#ffff00"/>
</g>
<g transform="translate(257.4 260.4) scale(0.1075 0.1133)">
<path d="M-159 0 L-79.9 -160.7 L79.9 -160.7 L159 0 L79.9 160.7 L-79.9 160.7ZM-132.7 0 L-67.2 -134.1 L67.2 -134.1 L132.7 0 L67.2 134.1 L-67.2 134.1ZM-106 0 L-52.7 -107 L52.7 -107 L106 0 L52.7 107 L-52.7 107ZM-80.3 0 L-40.3 -80.3 L40.3 -80.3 L80.3 0 L40.3 80.3 L-40.3 80.3ZM-52.3 0 L-26 -53 L26 -53 L52.3 0 L26 53 L-26 53ZM-26 0 L-13.3 -26.7 L13.3 -26.7 L26 0 L13.3 26.7 L-13.3 26.7Z" fill="#ffff00" fill-rule="evenodd" stroke="#ffff00" stroke-width="4"/>
<rect x="-166" y="-15.8" width="50" height="32.4" fill="#007300"/>
<rect x="58" y="-15.8" width="54" height="32.4" fill="#007300"/>
<rect x="-57" y="-15.8" width="42" height="32.4" fill="#007300"/>
<rect x="-10.8" y="-134.6" width="25.8" height="28.2" fill="#ffff00"/>
<rect x="-10.8" y="52.5" width="25.8" height="28.3" fill="#ffff00"/>
</g>
<g transform="translate(67.2 298.3) scale(0.1075 0.1133)">
<path d="M-159 0 L-79.9 -160.7 L79.9 -160.7 L159 0 L79.9 160.7 L-79.9 160.7ZM-132.7 0 L-67.2 -134.1 L67.2 -134.1 L132.7 0 L67.2 134.1 L-67.2 134.1ZM-106 0 L-52.7 -107 L52.7 -107 L106 0 L52.7 107 L-52.7 107ZM-80.3 0 L-40.3 -80.3 L40.3 -80.3 L80.3 0 L40.3 80.3 L-40.3 80.3ZM-52.3 0 L-26 -53 L26 -53 L52.3 0 L26 53 L-26 53ZM-26 0 L-13.3 -26.7 L13.3 -26.7 L26 0 L13.3 26.7 L-13.3 26.7Z" fill="#ffff00" fill-rule="evenodd" stroke="#ffff00" stroke-width="4"/>
<rect x="-166" y="-15.8" width="50" height="32.4" fill="#007300"/>
<rect x="58" y="-15.8" width="54" height="32.4" fill="#007300"/>
<rect x="-57" y="-15.8" width="42" height="32.4" fill="#007300"/>
<rect x="-10.8" y="-134.6" width="25.8" height="28.2" fill="#ffff00"/>
<rect x="-10.8" y="52.5" width="25.8" height="28.3" fill="#ffff00"/>
</g>
<g transform="translate(316.8 298.3) scale(0.1075 0.1133)">
<path d="M-159 0 L-79.9 -160.7 L79.9 -160.7 L159 0 L79.9 160.7 L-79.9 160.7ZM-132.7 0 L-67.2 -134.1 L67.2 -134.1 L132.7 0 L67.2 134.1 L-67.2 134.1ZM-106 0 L-52.7 -107 L52.7 -107 L106 0 L52.7 107 L-52.7 107ZM-80.3 0 L-40.3 -80.3 L40.3 -80.3 L80.3 0 L40.3 80.3 L-40.3 80.3ZM-52.3 0 L-26 -53 L26 -53 L52.3 0 L26 53 L-26 53ZM-26 0 L-13.3 -26.7 L13.3 -26.7 L26 0 L13.3 26.7 L-13.3 26.7Z" fill="#ffff00" fill-rule="evenodd" stroke="#ffff00" stroke-width="4"/>
<rect x="-166" y="-15.8" width="50" height="32.4" fill="#007300"/>
<rect x="58" y="-15.8" width="54" height="32.4" fill="#007300"/>
<rect x="-57" y="-15.8" width="42" height="32.4" fill="#007300"/>
<rect x="-10.8" y="-134.6" width="25.8" height="28.2" fill="#ffff00"/>
<rect x="-10.8" y="52.5" width="25.8" height="28.3" fill="#ffff00"/>
</g>
<path d="M201.8 21.6 L209.4 40.2 L206.2 40.2 L206.2 57 L198.2 57 L198.2 40.2 L194.5 40.2 Z" fill="none" stroke="#000" stroke-width="2.1" stroke-linejoin="miter"/>
<path d="M88 420.2 L96.8 396.4 L92.5 396.4 L92.5 374.8 L83.5 374.8 L83.5 396.4 L79.2 396.4 Z" fill="none" stroke="#000" stroke-width="2.1" stroke-linejoin="miter"/>
<text x="136.8" y="19.7" font-family="Liberation Sans, sans-serif" font-size="19" font-weight="bold" font-style="normal" fill="#000" textLength="137.31" lengthAdjust="spacingAndGlyphs" stroke="#ffff00" stroke-width="2" paint-order="stroke" stroke-linejoin="round">MTS-based CSRR</text>
<text x="53" y="436.1" font-family="Liberation Sans, sans-serif" font-size="19.5" font-weight="bold" font-style="normal" fill="#000" textLength="91.00" lengthAdjust="spacingAndGlyphs" stroke="#ffff00" stroke-width="2" paint-order="stroke" stroke-linejoin="round">Square slot</text>
<text transform="translate(22.8 327.8) rotate(-90)" x="0" y="0" font-family="Liberation Sans, sans-serif" font-size="19.3" font-weight="bold" font-style="normal" fill="#000" textLength="212.39" lengthAdjust="spacingAndGlyphs" stroke="#ffff00" stroke-width="2" paint-order="stroke" stroke-linejoin="round">Defected  Ground Plane</text>
<circle cx="325.7" cy="377.8" r="9" fill="#8fbf8f" fill-opacity="0.7"/>
<circle cx="274.8" cy="377.3" r="9" fill="#8fbf8f" fill-opacity="0.7"/>
<circle cx="325.7" cy="318.2" r="9" fill="#8fbf8f" fill-opacity="0.7"/>
<rect x="323.6" y="341" width="4.4" height="36" fill="#3cb043"/>
<path d="M325.8 330 L330.5 345 L321 345 Z" fill="#3cb043"/>
<rect x="296" y="375.3" width="30" height="5" fill="#b03038"/>
<path d="M284.4 377.8 L298 371.5 L298 384 Z" fill="#b03038"/>
<circle cx="325.7" cy="377.8" r="4.2" fill="#b03038" stroke="#2020a0" stroke-width="0.8"/>
<text x="274.8" y="381.5" font-family="Liberation Sans, sans-serif" font-size="12" font-weight="bold" fill="#e00000" text-anchor="middle">x</text>
<text x="325.7" y="322" font-family="Liberation Serif, serif" font-size="13" fill="#1a8a1a" text-anchor="middle">y</text>
<g transform="translate(593.3 278.6)">
<path d="M-159 0 L-79.9 -160.7 L79.9 -160.7 L159 0 L79.9 160.7 L-79.9 160.7ZM-132.7 0 L-67.2 -134.1 L67.2 -134.1 L132.7 0 L67.2 134.1 L-67.2 134.1ZM-106 0 L-52.7 -107 L52.7 -107 L106 0 L52.7 107 L-52.7 107ZM-80.3 0 L-40.3 -80.3 L40.3 -80.3 L80.3 0 L40.3 80.3 L-40.3 80.3ZM-52.3 0 L-26 -53 L26 -53 L52.3 0 L26 53 L-26 53ZM-26 0 L-13.3 -26.7 L13.3 -26.7 L26 0 L13.3 26.7 L-13.3 26.7Z" fill="#fc7f28" fill-rule="evenodd"/>
<rect x="-166" y="-15.8" width="50" height="32.4" fill="#fff"/>
<rect x="58" y="-15.8" width="54" height="32.4" fill="#fff"/>
<rect x="-57" y="-15.8" width="42" height="32.4" fill="#fff"/>
<rect x="-10.8" y="-134.6" width="25.8" height="28.2" fill="#fc7f28"/>
<rect x="-10.8" y="52.5" width="25.8" height="28.3" fill="#fc7f28"/>
</g>
<line x1="556.3" y1="102.5" x2="556.3" y2="135.5" stroke="#000" stroke-width="1.8"/>
<path d="M556.3 145.5 L552.1 134.5 L560.5 134.5 Z" fill="#000"/>
<line x1="555" y1="215.9" x2="555" y2="181.8" stroke="#000" stroke-width="1.8"/>
<path d="M555 171.8 L559.2 182.8 L550.8 182.8 Z" fill="#000"/>
<line x1="730.3" y1="143.8" x2="709.2" y2="166.8" stroke="#000" stroke-width="1.8"/>
<path d="M702.5 174.2 L706.8 163.2 L713 168.9 Z" fill="#000"/>
<line x1="655.5" y1="220.5" x2="675.9" y2="200.1" stroke="#000" stroke-width="1.8"/>
<path d="M683 193 L678.2 203.7 L672.3 197.8 Z" fill="#000"/>
<line x1="594.1" y1="280.9" x2="485.8" y2="224.6" stroke="#000" stroke-width="1.8"/>
<path d="M476.9 220 L488.6 221.3 L484.7 228.8 Z" fill="#000"/>
<line x1="594.1" y1="280.9" x2="614.2" y2="264.5" stroke="#000" stroke-width="1.8"/>
<path d="M621.9 258.2 L616 268.4 L610.7 261.9 Z" fill="#000"/>
<line x1="594.1" y1="280.9" x2="535.1" y2="323.9" stroke="#000" stroke-width="1.8"/>
<path d="M527 329.8 L533.4 319.9 L538.4 326.7 Z" fill="#000"/>
<circle cx="594.1" cy="280.9" r="3.8" fill="#000"/>
<text x="539.1" y="95" font-family="Liberation Serif, sans-serif" font-size="31" font-weight="bold" font-style="italic" fill="#000" textLength="16.70" lengthAdjust="spacingAndGlyphs">w</text>
<text x="555.4" y="97.6" font-family="Liberation Serif, sans-serif" font-size="21" font-weight="bold" font-style="italic" fill="#000" textLength="25.06" lengthAdjust="spacingAndGlyphs">slot</text>
<text x="717.9" y="140.5" font-family="Liberation Serif, sans-serif" font-size="34" font-weight="bold" font-style="italic" fill="#000" textLength="17.99" lengthAdjust="spacingAndGlyphs">w</text>
<text x="736.4" y="142" font-family="Liberation Serif, sans-serif" font-size="24.5" font-weight="bold" font-style="italic" fill="#000" textLength="29.36" lengthAdjust="spacingAndGlyphs">cssr</text>
<text x="521.9" y="273" font-family="Liberation Serif, sans-serif" font-size="27" font-weight="bold" font-style="italic" fill="#000" textLength="11.70" lengthAdjust="spacingAndGlyphs">d</text>
<text x="533.4" y="274.7" font-family="Liberation Serif, sans-serif" font-size="16" font-weight="bold" font-style="italic" fill="#000" textLength="6.69" lengthAdjust="spacingAndGlyphs">3</text>
<text x="614.5" y="292.3" font-family="Liberation Serif, sans-serif" font-size="27" font-weight="bold" font-style="italic" fill="#000" textLength="12.18" lengthAdjust="spacingAndGlyphs">d</text>
<text x="627" y="293.4" font-family="Liberation Serif, sans-serif" font-size="16" font-weight="bold" font-style="italic" fill="#000" textLength="6.30" lengthAdjust="spacingAndGlyphs">1</text>
<text x="561.1" y="322.4" font-family="Liberation Serif, sans-serif" font-size="27" font-weight="bold" font-style="italic" fill="#000" textLength="12.18" lengthAdjust="spacingAndGlyphs">d</text>
<text x="573.2" y="324.7" font-family="Liberation Serif, sans-serif" font-size="16" font-weight="bold" font-style="italic" fill="#000" textLength="6.14" lengthAdjust="spacingAndGlyphs">2</text>
<polyline points="915.3,119.5 854.7,119.5 854.7,292" fill="none" stroke="#000" stroke-width="2.6" stroke-linejoin="miter" stroke-linecap="square"/>
<polyline points="854.7,308 854.7,380" fill="none" stroke="#000" stroke-width="2.6" stroke-linejoin="miter" stroke-linecap="square"/>
<polyline points="854.7,417 854.7,429 1186,429 1186,361.5" fill="none" stroke="#000" stroke-width="2.6" stroke-linejoin="miter" stroke-linecap="square"/>
<polyline points="949,116.3 1083.8,116.2" fill="none" stroke="#000" stroke-width="2.6" stroke-linejoin="miter" stroke-linecap="square"/>
<polyline points="1119,116.2 1186,116.2 1186,301.2" fill="none" stroke="#000" stroke-width="2.6" stroke-linejoin="miter" stroke-linecap="square"/>
<path d="M916.7 118 L916.9 119.5 L917.1 120.9 L917.3 122.3 L917.6 123.5 L917.9 124.7 L918.3 125.7 L918.7 126.6 L919.1 127.3 L919.6 127.8 L920 128.2 L920.5 128.3 L921 128.2 L921.4 127.9 L921.9 127.5 L922.3 126.8 L922.7 125.9 L923.1 124.9 L923.4 123.8 L923.7 122.6 L924 121.2 L924.2 119.8 L924.4 118.4 L924.5 116.9 L924.6 115.5 L924.6 114.1 L924.6 112.8 L924.5 111.6 L924.4 110.6 L924.3 109.7 L924.1 108.9 L923.9 108.3 L923.7 108 L923.5 107.8 L923.3 107.8 L923.1 108.1 L922.9 108.5 L922.7 109.1 L922.6 109.9 L922.5 110.9 L922.4 112 L922.3 113.3 L922.3 114.6 L922.4 116 L922.4 117.4 L922.6 118.9 L922.8 120.3 L923 121.7 L923.3 123 L923.6 124.2 L923.9 125.3 L924.3 126.2 L924.7 127 L925.2 127.6 L925.6 128.1 L926.1 128.3 L926.6 128.3 L927 128.1 L927.5 127.7 L927.9 127.1 L928.3 126.3 L928.7 125.4 L929.1 124.3 L929.4 123.1 L929.7 121.8 L929.9 120.4 L930.1 119 L930.2 117.6 L930.3 116.1 L930.4 114.7 L930.4 113.4 L930.3 112.2 L930.2 111 L930.1 110 L930 109.2 L929.8 108.6 L929.6 108.1 L929.4 107.9 L929.2 107.8 L929 107.9 L928.8 108.3 L928.6 108.8 L928.5 109.6 L928.3 110.5 L928.2 111.5 L928.1 112.7 L928.1 114 L928.1 115.3 L928.2 116.8 L928.3 118.2 L928.5 119.7 L928.7 121.1 L928.9 122.4 L929.2 123.7 L929.6 124.8 L929.9 125.8 L930.3 126.7 L930.8 127.4 L931.2 127.9 L931.7 128.2 L932.1 128.3 L932.6 128.2 L933.1 127.9 L933.5 127.4 L934 126.7 L934.4 125.8 L934.7 124.8 L935.1 123.7 L935.4 122.4 L935.6 121.1 L935.8 119.7 L936 118.2 L936.1 116.8 L936.2 115.3 L936.2 114 L936.2 112.7 L936.1 111.5 L936 110.5 L935.8 109.6 L935.7 108.8 L935.5 108.3 L935.3 107.9 L935.1 107.8 L934.9 107.9 L934.7 108.1 L934.5 108.6 L934.3 109.2 L934.2 110 L934.1 111 L934 112.2 L933.9 113.4 L933.9 114.7 L934 116.1 L934.1 117.6 L934.2 119 L934.4 120.4 L934.6 121.8 L934.9 123.1 L935.2 124.3 L935.6 125.4 L936 126.3 L936.4 127.1 L936.8 127.7 L937.3 128.1 L937.7 128.3 L938.2 128.3 L938.7 128.1 L939.1 127.6 L939.6 127 L940 126.2 L940.4 125.3 L940.7 124.2 L941 123 L941.3 121.7 L941.5 120.3 L941.7 118.9 L941.9 117.4 L941.9 116 L942 114.6 L942 113.3 L941.9 112 L941.8 110.9 L941.7 109.9 L941.6 109.1 L941.4 108.5 L941.2 108.1 L941 107.8 L940.8 107.8 L940.6 108 L940.4 108.3 L940.2 108.9 L940 109.7 L939.9 110.6 L939.8 111.6 L939.7 112.8 L939.7 114.1 L939.7 115.5 L939.8 116.9 L939.9 118.4 L940.1 119.8 L940.3 121.2 L940.6 122.6 L940.9 123.8 L941.2 124.9 L941.6 125.9 L942 126.8 L942.4 127.5 L942.9 127.9 L943.3 128.2 L943.8 128.3 L944.3 128.2 L944.7 127.8 L945.2 127.3 L945.6 126.6 L946 125.7 L946.4 124.7 L946.7 123.5 L947 122.3 L947.2 120.9 L947.4 119.5 L947.6 118" fill="none" stroke="#4a4a38" stroke-width="2.9" stroke-linejoin="round"/>
<path d="M916.7 118 L916.9 119.5 L917.1 120.9 L917.3 122.3 L917.6 123.5 L917.9 124.7 L918.3 125.7 L918.7 126.6 L919.1 127.3 L919.6 127.8 L920 128.2 L920.5 128.3 L921 128.2 L921.4 127.9 L921.9 127.5 L922.3 126.8 L922.7 125.9 L923.1 124.9 L923.4 123.8 L923.7 122.6 L924 121.2 L924.2 119.8 L924.4 118.4 L924.5 116.9 L924.6 115.5 L924.6 114.1 L924.6 112.8 L924.5 111.6 L924.4 110.6 L924.3 109.7 L924.1 108.9 L923.9 108.3 L923.7 108 L923.5 107.8 L923.3 107.8 L923.1 108.1 L922.9 108.5 L922.7 109.1 L922.6 109.9 L922.5 110.9 L922.4 112 L922.3 113.3 L922.3 114.6 L922.4 116 L922.4 117.4 L922.6 118.9 L922.8 120.3 L923 121.7 L923.3 123 L923.6 124.2 L923.9 125.3 L924.3 126.2 L924.7 127 L925.2 127.6 L925.6 128.1 L926.1 128.3 L926.6 128.3 L927 128.1 L927.5 127.7 L927.9 127.1 L928.3 126.3 L928.7 125.4 L929.1 124.3 L929.4 123.1 L929.7 121.8 L929.9 120.4 L930.1 119 L930.2 117.6 L930.3 116.1 L930.4 114.7 L930.4 113.4 L930.3 112.2 L930.2 111 L930.1 110 L930 109.2 L929.8 108.6 L929.6 108.1 L929.4 107.9 L929.2 107.8 L929 107.9 L928.8 108.3 L928.6 108.8 L928.5 109.6 L928.3 110.5 L928.2 111.5 L928.1 112.7 L928.1 114 L928.1 115.3 L928.2 116.8 L928.3 118.2 L928.5 119.7 L928.7 121.1 L928.9 122.4 L929.2 123.7 L929.6 124.8 L929.9 125.8 L930.3 126.7 L930.8 127.4 L931.2 127.9 L931.7 128.2 L932.1 128.3 L932.6 128.2 L933.1 127.9 L933.5 127.4 L934 126.7 L934.4 125.8 L934.7 124.8 L935.1 123.7 L935.4 122.4 L935.6 121.1 L935.8 119.7 L936 118.2 L936.1 116.8 L936.2 115.3 L936.2 114 L936.2 112.7 L936.1 111.5 L936 110.5 L935.8 109.6 L935.7 108.8 L935.5 108.3 L935.3 107.9 L935.1 107.8 L934.9 107.9 L934.7 108.1 L934.5 108.6 L934.3 109.2 L934.2 110 L934.1 111 L934 112.2 L933.9 113.4 L933.9 114.7 L934 116.1 L934.1 117.6 L934.2 119 L934.4 120.4 L934.6 121.8 L934.9 123.1 L935.2 124.3 L935.6 125.4 L936 126.3 L936.4 127.1 L936.8 127.7 L937.3 128.1 L937.7 128.3 L938.2 128.3 L938.7 128.1 L939.1 127.6 L939.6 127 L940 126.2 L940.4 125.3 L940.7 124.2 L941 123 L941.3 121.7 L941.5 120.3 L941.7 118.9 L941.9 117.4 L941.9 116 L942 114.6 L942 113.3 L941.9 112 L941.8 110.9 L941.7 109.9 L941.6 109.1 L941.4 108.5 L941.2 108.1 L941 107.8 L940.8 107.8 L940.6 108 L940.4 108.3 L940.2 108.9 L940 109.7 L939.9 110.6 L939.8 111.6 L939.7 112.8 L939.7 114.1 L939.7 115.5 L939.8 116.9 L939.9 118.4 L940.1 119.8 L940.3 121.2 L940.6 122.6 L940.9 123.8 L941.2 124.9 L941.6 125.9 L942 126.8 L942.4 127.5 L942.9 127.9 L943.3 128.2 L943.8 128.3 L944.3 128.2 L944.7 127.8 L945.2 127.3 L945.6 126.6 L946 125.7 L946.4 124.7 L946.7 123.5 L947 122.3 L947.2 120.9 L947.4 119.5 L947.6 118" fill="none" stroke="#fff" stroke-width="1.5" stroke-linejoin="round"/>
<path d="M1085.2 118.3 L1085.4 119.7 L1085.6 121.1 L1085.8 122.5 L1086.1 123.8 L1086.5 124.9 L1086.9 126 L1087.3 126.8 L1087.7 127.5 L1088.2 128 L1088.7 128.4 L1089.2 128.5 L1089.7 128.4 L1090.2 128.1 L1090.6 127.7 L1091.1 127 L1091.5 126.2 L1091.9 125.2 L1092.3 124 L1092.6 122.8 L1092.8 121.5 L1093.1 120.1 L1093.2 118.6 L1093.4 117.2 L1093.4 115.8 L1093.5 114.4 L1093.4 113.1 L1093.4 111.9 L1093.3 110.9 L1093.1 110 L1093 109.2 L1092.8 108.6 L1092.6 108.3 L1092.4 108.1 L1092.1 108.1 L1091.9 108.4 L1091.7 108.8 L1091.5 109.4 L1091.4 110.2 L1091.2 111.2 L1091.2 112.3 L1091.1 113.5 L1091.1 114.8 L1091.1 116.2 L1091.2 117.7 L1091.4 119.1 L1091.6 120.5 L1091.8 121.9 L1092.1 123.2 L1092.4 124.4 L1092.8 125.5 L1093.2 126.5 L1093.6 127.2 L1094.1 127.8 L1094.6 128.3 L1095 128.5 L1095.5 128.5 L1096 128.3 L1096.5 127.9 L1097 127.3 L1097.4 126.6 L1097.8 125.6 L1098.2 124.6 L1098.5 123.4 L1098.8 122.1 L1099.1 120.7 L1099.3 119.3 L1099.4 117.8 L1099.5 116.4 L1099.5 115 L1099.5 113.7 L1099.5 112.4 L1099.4 111.3 L1099.3 110.3 L1099.1 109.5 L1098.9 108.9 L1098.7 108.4 L1098.5 108.2 L1098.3 108.1 L1098.1 108.2 L1097.9 108.6 L1097.7 109.1 L1097.5 109.9 L1097.4 110.8 L1097.3 111.8 L1097.2 113 L1097.2 114.2 L1097.2 115.6 L1097.3 117 L1097.4 118.5 L1097.5 119.9 L1097.8 121.3 L1098 122.6 L1098.3 123.9 L1098.7 125 L1099.1 126.1 L1099.5 126.9 L1100 127.6 L1100.4 128.1 L1100.9 128.4 L1101.4 128.5 L1101.9 128.4 L1102.4 128.1 L1102.8 127.6 L1103.3 126.9 L1103.7 126.1 L1104.1 125 L1104.5 123.9 L1104.8 122.6 L1105 121.3 L1105.3 119.9 L1105.4 118.5 L1105.5 117 L1105.6 115.6 L1105.6 114.2 L1105.6 113 L1105.5 111.8 L1105.4 110.8 L1105.3 109.9 L1105.1 109.1 L1104.9 108.6 L1104.7 108.2 L1104.5 108.1 L1104.3 108.2 L1104.1 108.4 L1103.9 108.9 L1103.7 109.5 L1103.5 110.3 L1103.4 111.3 L1103.3 112.4 L1103.3 113.7 L1103.3 115 L1103.3 116.4 L1103.4 117.8 L1103.5 119.3 L1103.7 120.7 L1104 122.1 L1104.3 123.4 L1104.6 124.6 L1105 125.6 L1105.4 126.6 L1105.8 127.3 L1106.3 127.9 L1106.8 128.3 L1107.3 128.5 L1107.8 128.5 L1108.2 128.3 L1108.7 127.8 L1109.2 127.2 L1109.6 126.5 L1110 125.5 L1110.4 124.4 L1110.7 123.2 L1111 121.9 L1111.2 120.5 L1111.4 119.1 L1111.6 117.7 L1111.7 116.2 L1111.7 114.8 L1111.7 113.5 L1111.6 112.3 L1111.6 111.2 L1111.4 110.2 L1111.3 109.4 L1111.1 108.8 L1110.9 108.4 L1110.7 108.1 L1110.4 108.1 L1110.2 108.3 L1110 108.6 L1109.8 109.2 L1109.7 110 L1109.5 110.9 L1109.4 111.9 L1109.4 113.1 L1109.3 114.4 L1109.4 115.8 L1109.4 117.2 L1109.6 118.6 L1109.7 120.1 L1110 121.5 L1110.2 122.8 L1110.5 124 L1110.9 125.2 L1111.3 126.2 L1111.7 127 L1112.2 127.7 L1112.6 128.1 L1113.1 128.4 L1113.6 128.5 L1114.1 128.4 L1114.6 128 L1115.1 127.5 L1115.5 126.8 L1115.9 126 L1116.3 124.9 L1116.7 123.8 L1117 122.5 L1117.2 121.1 L1117.4 119.7 L1117.6 118.3" fill="none" stroke="#4a4a38" stroke-width="2.9" stroke-linejoin="round"/>
<path d="M1085.2 118.3 L1085.4 119.7 L1085.6 121.1 L1085.8 122.5 L1086.1 123.8 L1086.5 124.9 L1086.9 126 L1087.3 126.8 L1087.7 127.5 L1088.2 128 L1088.7 128.4 L1089.2 128.5 L1089.7 128.4 L1090.2 128.1 L1090.6 127.7 L1091.1 127 L1091.5 126.2 L1091.9 125.2 L1092.3 124 L1092.6 122.8 L1092.8 121.5 L1093.1 120.1 L1093.2 118.6 L1093.4 117.2 L1093.4 115.8 L1093.5 114.4 L1093.4 113.1 L1093.4 111.9 L1093.3 110.9 L1093.1 110 L1093 109.2 L1092.8 108.6 L1092.6 108.3 L1092.4 108.1 L1092.1 108.1 L1091.9 108.4 L1091.7 108.8 L1091.5 109.4 L1091.4 110.2 L1091.2 111.2 L1091.2 112.3 L1091.1 113.5 L1091.1 114.8 L1091.1 116.2 L1091.2 117.7 L1091.4 119.1 L1091.6 120.5 L1091.8 121.9 L1092.1 123.2 L1092.4 124.4 L1092.8 125.5 L1093.2 126.5 L1093.6 127.2 L1094.1 127.8 L1094.6 128.3 L1095 128.5 L1095.5 128.5 L1096 128.3 L1096.5 127.9 L1097 127.3 L1097.4 126.6 L1097.8 125.6 L1098.2 124.6 L1098.5 123.4 L1098.8 122.1 L1099.1 120.7 L1099.3 119.3 L1099.4 117.8 L1099.5 116.4 L1099.5 115 L1099.5 113.7 L1099.5 112.4 L1099.4 111.3 L1099.3 110.3 L1099.1 109.5 L1098.9 108.9 L1098.7 108.4 L1098.5 108.2 L1098.3 108.1 L1098.1 108.2 L1097.9 108.6 L1097.7 109.1 L1097.5 109.9 L1097.4 110.8 L1097.3 111.8 L1097.2 113 L1097.2 114.2 L1097.2 115.6 L1097.3 117 L1097.4 118.5 L1097.5 119.9 L1097.8 121.3 L1098 122.6 L1098.3 123.9 L1098.7 125 L1099.1 126.1 L1099.5 126.9 L1100 127.6 L1100.4 128.1 L1100.9 128.4 L1101.4 128.5 L1101.9 128.4 L1102.4 128.1 L1102.8 127.6 L1103.3 126.9 L1103.7 126.1 L1104.1 125 L1104.5 123.9 L1104.8 122.6 L1105 121.3 L1105.3 119.9 L1105.4 118.5 L1105.5 117 L1105.6 115.6 L1105.6 114.2 L1105.6 113 L1105.5 111.8 L1105.4 110.8 L1105.3 109.9 L1105.1 109.1 L1104.9 108.6 L1104.7 108.2 L1104.5 108.1 L1104.3 108.2 L1104.1 108.4 L1103.9 108.9 L1103.7 109.5 L1103.5 110.3 L1103.4 111.3 L1103.3 112.4 L1103.3 113.7 L1103.3 115 L1103.3 116.4 L1103.4 117.8 L1103.5 119.3 L1103.7 120.7 L1104 122.1 L1104.3 123.4 L1104.6 124.6 L1105 125.6 L1105.4 126.6 L1105.8 127.3 L1106.3 127.9 L1106.8 128.3 L1107.3 128.5 L1107.8 128.5 L1108.2 128.3 L1108.7 127.8 L1109.2 127.2 L1109.6 126.5 L1110 125.5 L1110.4 124.4 L1110.7 123.2 L1111 121.9 L1111.2 120.5 L1111.4 119.1 L1111.6 117.7 L1111.7 116.2 L1111.7 114.8 L1111.7 113.5 L1111.6 112.3 L1111.6 111.2 L1111.4 110.2 L1111.3 109.4 L1111.1 108.8 L1110.9 108.4 L1110.7 108.1 L1110.4 108.1 L1110.2 108.3 L1110 108.6 L1109.8 109.2 L1109.7 110 L1109.5 110.9 L1109.4 111.9 L1109.4 113.1 L1109.3 114.4 L1109.4 115.8 L1109.4 117.2 L1109.6 118.6 L1109.7 120.1 L1110 121.5 L1110.2 122.8 L1110.5 124 L1110.9 125.2 L1111.3 126.2 L1111.7 127 L1112.2 127.7 L1112.6 128.1 L1113.1 128.4 L1113.6 128.5 L1114.1 128.4 L1114.6 128 L1115.1 127.5 L1115.5 126.8 L1115.9 126 L1116.3 124.9 L1116.7 123.8 L1117 122.5 L1117.2 121.1 L1117.4 119.7 L1117.6 118.3" fill="none" stroke="#fff" stroke-width="1.5" stroke-linejoin="round"/>
<rect x="828.9" y="288.9" width="52.3" height="7.1" fill="#000"/>
<rect x="828.9" y="304.4" width="52.3" height="7.5" fill="#000"/>
<path d="M856.1 380.5 L854.7 380.7 L853.4 380.9 L852.2 381.2 L851 381.6 L850 381.9 L849 382.4 L848.2 382.9 L847.6 383.4 L847.1 383.9 L846.8 384.4 L846.7 385 L846.8 385.5 L847 386.1 L847.5 386.6 L848.1 387.1 L848.8 387.6 L849.8 388 L850.8 388.4 L851.9 388.8 L853.2 389.1 L854.4 389.3 L855.8 389.5 L857.1 389.7 L858.4 389.8 L859.6 389.8 L860.8 389.8 L861.9 389.7 L862.9 389.6 L863.7 389.4 L864.4 389.2 L864.9 389 L865.2 388.8 L865.4 388.5 L865.4 388.3 L865.1 388 L864.7 387.8 L864.2 387.6 L863.4 387.4 L862.6 387.3 L861.5 387.2 L860.4 387.1 L859.2 387.1 L857.9 387.2 L856.6 387.3 L855.3 387.4 L854 387.6 L852.7 387.9 L851.5 388.2 L850.4 388.6 L849.4 389 L848.6 389.5 L847.9 390 L847.3 390.5 L846.9 391 L846.7 391.6 L846.7 392.1 L846.9 392.7 L847.3 393.2 L847.8 393.7 L848.5 394.2 L849.3 394.7 L850.3 395.1 L851.4 395.5 L852.6 395.8 L853.9 396.1 L855.2 396.3 L856.5 396.5 L857.8 396.6 L859.1 396.6 L860.3 396.6 L861.4 396.6 L862.5 396.5 L863.4 396.3 L864.1 396.1 L864.7 395.9 L865.1 395.7 L865.3 395.5 L865.4 395.2 L865.3 395 L864.9 394.8 L864.5 394.5 L863.8 394.3 L863 394.2 L862 394.1 L860.9 394 L859.8 394 L858.5 394 L857.2 394.1 L855.9 394.2 L854.6 394.4 L853.3 394.6 L852.1 394.9 L850.9 395.3 L849.9 395.7 L848.9 396.1 L848.2 396.6 L847.5 397.1 L847.1 397.6 L846.8 398.1 L846.7 398.7 L846.8 399.3 L847.1 399.8 L847.5 400.3 L848.2 400.8 L848.9 401.3 L849.9 401.7 L850.9 402.1 L852.1 402.5 L853.3 402.8 L854.6 403 L855.9 403.2 L857.2 403.3 L858.5 403.4 L859.8 403.4 L860.9 403.4 L862 403.3 L863 403.2 L863.8 403.1 L864.5 402.9 L864.9 402.6 L865.3 402.4 L865.4 402.2 L865.3 401.9 L865.1 401.7 L864.7 401.5 L864.1 401.3 L863.4 401.1 L862.5 400.9 L861.4 400.8 L860.3 400.8 L859.1 400.8 L857.8 400.8 L856.5 400.9 L855.2 401.1 L853.9 401.3 L852.6 401.6 L851.4 401.9 L850.3 402.3 L849.3 402.7 L848.5 403.2 L847.8 403.7 L847.3 404.2 L846.9 404.7 L846.7 405.3 L846.7 405.8 L846.9 406.4 L847.3 406.9 L847.9 407.4 L848.6 407.9 L849.4 408.4 L850.4 408.8 L851.5 409.2 L852.7 409.5 L854 409.8 L855.3 410 L856.6 410.1 L857.9 410.2 L859.2 410.3 L860.4 410.3 L861.5 410.2 L862.6 410.1 L863.4 410 L864.2 409.8 L864.7 409.6 L865.1 409.4 L865.4 409.1 L865.4 408.9 L865.2 408.6 L864.9 408.4 L864.4 408.2 L863.7 408 L862.9 407.8 L861.9 407.7 L860.8 407.6 L859.6 407.6 L858.4 407.6 L857.1 407.7 L855.8 407.9 L854.4 408.1 L853.2 408.3 L851.9 408.6 L850.8 409 L849.8 409.4 L848.8 409.8 L848.1 410.3 L847.5 410.8 L847 411.3 L846.8 411.9 L846.7 412.4 L846.8 413 L847.1 413.5 L847.6 414 L848.2 414.5 L849 415 L850 415.5 L851 415.8 L852.2 416.2 L853.4 416.5 L854.7 416.7 L856.1 416.9" fill="none" stroke="#4a4a38" stroke-width="2.9" stroke-linejoin="round"/>
<path d="M856.1 380.5 L854.7 380.7 L853.4 380.9 L852.2 381.2 L851 381.6 L850 381.9 L849 382.4 L848.2 382.9 L847.6 383.4 L847.1 383.9 L846.8 384.4 L846.7 385 L846.8 385.5 L847 386.1 L847.5 386.6 L848.1 387.1 L848.8 387.6 L849.8 388 L850.8 388.4 L851.9 388.8 L853.2 389.1 L854.4 389.3 L855.8 389.5 L857.1 389.7 L858.4 389.8 L859.6 389.8 L860.8 389.8 L861.9 389.7 L862.9 389.6 L863.7 389.4 L864.4 389.2 L864.9 389 L865.2 388.8 L865.4 388.5 L865.4 388.3 L865.1 388 L864.7 387.8 L864.2 387.6 L863.4 387.4 L862.6 387.3 L861.5 387.2 L860.4 387.1 L859.2 387.1 L857.9 387.2 L856.6 387.3 L855.3 387.4 L854 387.6 L852.7 387.9 L851.5 388.2 L850.4 388.6 L849.4 389 L848.6 389.5 L847.9 390 L847.3 390.5 L846.9 391 L846.7 391.6 L846.7 392.1 L846.9 392.7 L847.3 393.2 L847.8 393.7 L848.5 394.2 L849.3 394.7 L850.3 395.1 L851.4 395.5 L852.6 395.8 L853.9 396.1 L855.2 396.3 L856.5 396.5 L857.8 396.6 L859.1 396.6 L860.3 396.6 L861.4 396.6 L862.5 396.5 L863.4 396.3 L864.1 396.1 L864.7 395.9 L865.1 395.7 L865.3 395.5 L865.4 395.2 L865.3 395 L864.9 394.8 L864.5 394.5 L863.8 394.3 L863 394.2 L862 394.1 L860.9 394 L859.8 394 L858.5 394 L857.2 394.1 L855.9 394.2 L854.6 394.4 L853.3 394.6 L852.1 394.9 L850.9 395.3 L849.9 395.7 L848.9 396.1 L848.2 396.6 L847.5 397.1 L847.1 397.6 L846.8 398.1 L846.7 398.7 L846.8 399.3 L847.1 399.8 L847.5 400.3 L848.2 400.8 L848.9 401.3 L849.9 401.7 L850.9 402.1 L852.1 402.5 L853.3 402.8 L854.6 403 L855.9 403.2 L857.2 403.3 L858.5 403.4 L859.8 403.4 L860.9 403.4 L862 403.3 L863 403.2 L863.8 403.1 L864.5 402.9 L864.9 402.6 L865.3 402.4 L865.4 402.2 L865.3 401.9 L865.1 401.7 L864.7 401.5 L864.1 401.3 L863.4 401.1 L862.5 400.9 L861.4 400.8 L860.3 400.8 L859.1 400.8 L857.8 400.8 L856.5 400.9 L855.2 401.1 L853.9 401.3 L852.6 401.6 L851.4 401.9 L850.3 402.3 L849.3 402.7 L848.5 403.2 L847.8 403.7 L847.3 404.2 L846.9 404.7 L846.7 405.3 L846.7 405.8 L846.9 406.4 L847.3 406.9 L847.9 407.4 L848.6 407.9 L849.4 408.4 L850.4 408.8 L851.5 409.2 L852.7 409.5 L854 409.8 L855.3 410 L856.6 410.1 L857.9 410.2 L859.2 410.3 L860.4 410.3 L861.5 410.2 L862.6 410.1 L863.4 410 L864.2 409.8 L864.7 409.6 L865.1 409.4 L865.4 409.1 L865.4 408.9 L865.2 408.6 L864.9 408.4 L864.4 408.2 L863.7 408 L862.9 407.8 L861.9 407.7 L860.8 407.6 L859.6 407.6 L858.4 407.6 L857.1 407.7 L855.8 407.9 L854.4 408.1 L853.2 408.3 L851.9 408.6 L850.8 409 L849.8 409.4 L848.8 409.8 L848.1 410.3 L847.5 410.8 L847 411.3 L846.8 411.9 L846.7 412.4 L846.8 413 L847.1 413.5 L847.6 414 L848.2 414.5 L849 415 L850 415.5 L851 415.8 L852.2 416.2 L853.4 416.5 L854.7 416.7 L856.1 416.9" fill="none" stroke="#fff" stroke-width="1.5" stroke-linejoin="round"/>
<polyline points="1185.7,301.2 1198.7,306.3 1173.3,316.3 1198.7,326.6 1173.3,337 1198.7,347.3 1173.3,357.7 1185.7,361.5" fill="none" stroke="#000" stroke-width="2.4" stroke-linejoin="miter"/>
<polyline points="1031.1,116.2 1031.1,135" fill="none" stroke="#000" stroke-width="2.6" stroke-linejoin="miter" stroke-linecap="square"/>
<polyline points="1031.1,173 1031.1,189.9" fill="none" stroke="#000" stroke-width="2.6" stroke-linejoin="miter" stroke-linecap="square"/>
<path d="M1031.3 135.4 L1030 135.6 L1028.7 135.8 L1027.5 136.1 L1026.3 136.5 L1025.3 136.9 L1024.4 137.3 L1023.6 137.8 L1023 138.3 L1022.5 138.8 L1022.2 139.4 L1022.1 139.9 L1022.2 140.5 L1022.4 141 L1022.9 141.6 L1023.4 142.1 L1024.2 142.6 L1025.1 143 L1026.1 143.4 L1027.2 143.8 L1028.4 144.1 L1029.7 144.3 L1031 144.5 L1032.3 144.7 L1033.5 144.8 L1034.8 144.8 L1035.9 144.8 L1037 144.7 L1037.9 144.6 L1038.7 144.4 L1039.4 144.2 L1039.9 144 L1040.2 143.8 L1040.4 143.5 L1040.4 143.3 L1040.2 143 L1039.8 142.8 L1039.2 142.6 L1038.5 142.4 L1037.6 142.3 L1036.6 142.2 L1035.5 142.1 L1034.4 142.1 L1033.1 142.1 L1031.8 142.2 L1030.5 142.4 L1029.3 142.6 L1028 142.9 L1026.8 143.2 L1025.8 143.6 L1024.8 144 L1023.9 144.5 L1023.2 145 L1022.7 145.5 L1022.3 146 L1022.1 146.6 L1022.1 147.1 L1022.3 147.7 L1022.6 148.2 L1023.2 148.8 L1023.8 149.3 L1024.7 149.7 L1025.6 150.2 L1026.7 150.5 L1027.9 150.9 L1029.1 151.1 L1030.4 151.4 L1031.7 151.5 L1033 151.6 L1034.2 151.7 L1035.4 151.7 L1036.5 151.6 L1037.5 151.5 L1038.4 151.4 L1039.1 151.2 L1039.7 151 L1040.1 150.8 L1040.3 150.5 L1040.4 150.3 L1040.3 150 L1040 149.8 L1039.5 149.6 L1038.8 149.4 L1038 149.2 L1037.1 149.1 L1036 149 L1034.9 149 L1033.7 149 L1032.4 149.1 L1031.1 149.2 L1029.8 149.4 L1028.6 149.7 L1027.4 150 L1026.2 150.3 L1025.2 150.7 L1024.3 151.2 L1023.5 151.6 L1022.9 152.2 L1022.5 152.7 L1022.2 153.2 L1022.1 153.8 L1022.2 154.4 L1022.5 154.9 L1022.9 155.4 L1023.5 156 L1024.3 156.4 L1025.2 156.9 L1026.2 157.3 L1027.4 157.6 L1028.6 157.9 L1029.8 158.2 L1031.1 158.4 L1032.4 158.5 L1033.7 158.6 L1034.9 158.6 L1036 158.6 L1037.1 158.5 L1038 158.4 L1038.8 158.2 L1039.5 158 L1040 157.8 L1040.3 157.6 L1040.4 157.3 L1040.3 157.1 L1040.1 156.8 L1039.7 156.6 L1039.1 156.4 L1038.4 156.2 L1037.5 156.1 L1036.5 156 L1035.4 155.9 L1034.2 155.9 L1033 156 L1031.7 156.1 L1030.4 156.2 L1029.1 156.5 L1027.9 156.7 L1026.7 157.1 L1025.6 157.4 L1024.7 157.9 L1023.8 158.3 L1023.2 158.8 L1022.6 159.4 L1022.3 159.9 L1022.1 160.5 L1022.1 161 L1022.3 161.6 L1022.7 162.1 L1023.2 162.6 L1023.9 163.1 L1024.8 163.6 L1025.8 164 L1026.8 164.4 L1028 164.7 L1029.3 165 L1030.5 165.2 L1031.8 165.4 L1033.1 165.5 L1034.4 165.5 L1035.5 165.5 L1036.6 165.4 L1037.6 165.3 L1038.5 165.2 L1039.2 165 L1039.8 164.8 L1040.2 164.6 L1040.4 164.3 L1040.4 164.1 L1040.2 163.8 L1039.9 163.6 L1039.4 163.4 L1038.7 163.2 L1037.9 163 L1037 162.9 L1035.9 162.8 L1034.8 162.8 L1033.5 162.8 L1032.3 162.9 L1031 163.1 L1029.7 163.3 L1028.4 163.5 L1027.2 163.8 L1026.1 164.2 L1025.1 164.6 L1024.2 165 L1023.4 165.5 L1022.9 166 L1022.4 166.6 L1022.2 167.1 L1022.1 167.7 L1022.2 168.2 L1022.5 168.8 L1023 169.3 L1023.6 169.8 L1024.4 170.3 L1025.3 170.7 L1026.3 171.1 L1027.5 171.5 L1028.7 171.8 L1030 172 L1031.3 172.2" fill="none" stroke="#4a4a38" stroke-width="2.9" stroke-linejoin="round"/>
<path d="M1031.3 135.4 L1030 135.6 L1028.7 135.8 L1027.5 136.1 L1026.3 136.5 L1025.3 136.9 L1024.4 137.3 L1023.6 137.8 L1023 138.3 L1022.5 138.8 L1022.2 139.4 L1022.1 139.9 L1022.2 140.5 L1022.4 141 L1022.9 141.6 L1023.4 142.1 L1024.2 142.6 L1025.1 143 L1026.1 143.4 L1027.2 143.8 L1028.4 144.1 L1029.7 144.3 L1031 144.5 L1032.3 144.7 L1033.5 144.8 L1034.8 144.8 L1035.9 144.8 L1037 144.7 L1037.9 144.6 L1038.7 144.4 L1039.4 144.2 L1039.9 144 L1040.2 143.8 L1040.4 143.5 L1040.4 143.3 L1040.2 143 L1039.8 142.8 L1039.2 142.6 L1038.5 142.4 L1037.6 142.3 L1036.6 142.2 L1035.5 142.1 L1034.4 142.1 L1033.1 142.1 L1031.8 142.2 L1030.5 142.4 L1029.3 142.6 L1028 142.9 L1026.8 143.2 L1025.8 143.6 L1024.8 144 L1023.9 144.5 L1023.2 145 L1022.7 145.5 L1022.3 146 L1022.1 146.6 L1022.1 147.1 L1022.3 147.7 L1022.6 148.2 L1023.2 148.8 L1023.8 149.3 L1024.7 149.7 L1025.6 150.2 L1026.7 150.5 L1027.9 150.9 L1029.1 151.1 L1030.4 151.4 L1031.7 151.5 L1033 151.6 L1034.2 151.7 L1035.4 151.7 L1036.5 151.6 L1037.5 151.5 L1038.4 151.4 L1039.1 151.2 L1039.7 151 L1040.1 150.8 L1040.3 150.5 L1040.4 150.3 L1040.3 150 L1040 149.8 L1039.5 149.6 L1038.8 149.4 L1038 149.2 L1037.1 149.1 L1036 149 L1034.9 149 L1033.7 149 L1032.4 149.1 L1031.1 149.2 L1029.8 149.4 L1028.6 149.7 L1027.4 150 L1026.2 150.3 L1025.2 150.7 L1024.3 151.2 L1023.5 151.6 L1022.9 152.2 L1022.5 152.7 L1022.2 153.2 L1022.1 153.8 L1022.2 154.4 L1022.5 154.9 L1022.9 155.4 L1023.5 156 L1024.3 156.4 L1025.2 156.9 L1026.2 157.3 L1027.4 157.6 L1028.6 157.9 L1029.8 158.2 L1031.1 158.4 L1032.4 158.5 L1033.7 158.6 L1034.9 158.6 L1036 158.6 L1037.1 158.5 L1038 158.4 L1038.8 158.2 L1039.5 158 L1040 157.8 L1040.3 157.6 L1040.4 157.3 L1040.3 157.1 L1040.1 156.8 L1039.7 156.6 L1039.1 156.4 L1038.4 156.2 L1037.5 156.1 L1036.5 156 L1035.4 155.9 L1034.2 155.9 L1033 156 L1031.7 156.1 L1030.4 156.2 L1029.1 156.5 L1027.9 156.7 L1026.7 157.1 L1025.6 157.4 L1024.7 157.9 L1023.8 158.3 L1023.2 158.8 L1022.6 159.4 L1022.3 159.9 L1022.1 160.5 L1022.1 161 L1022.3 161.6 L1022.7 162.1 L1023.2 162.6 L1023.9 163.1 L1024.8 163.6 L1025.8 164 L1026.8 164.4 L1028 164.7 L1029.3 165 L1030.5 165.2 L1031.8 165.4 L1033.1 165.5 L1034.4 165.5 L1035.5 165.5 L1036.6 165.4 L1037.6 165.3 L1038.5 165.2 L1039.2 165 L1039.8 164.8 L1040.2 164.6 L1040.4 164.3 L1040.4 164.1 L1040.2 163.8 L1039.9 163.6 L1039.4 163.4 L1038.7 163.2 L1037.9 163 L1037 162.9 L1035.9 162.8 L1034.8 162.8 L1033.5 162.8 L1032.3 162.9 L1031 163.1 L1029.7 163.3 L1028.4 163.5 L1027.2 163.8 L1026.1 164.2 L1025.1 164.6 L1024.2 165 L1023.4 165.5 L1022.9 166 L1022.4 166.6 L1022.2 167.1 L1022.1 167.7 L1022.2 168.2 L1022.5 168.8 L1023 169.3 L1023.6 169.8 L1024.4 170.3 L1025.3 170.7 L1026.3 171.1 L1027.5 171.5 L1028.7 171.8 L1030 172 L1031.3 172.2" fill="none" stroke="#fff" stroke-width="1.5" stroke-linejoin="round"/>
<polyline points="913,250.2 913,189.9 1147,189.9 1147,200.5" fill="none" stroke="#000" stroke-width="2.6" stroke-linejoin="miter" stroke-linecap="square"/>
<polyline points="913.4,290 913.4,403.8 952.7,403.8" fill="none" stroke="#000" stroke-width="2.6" stroke-linejoin="miter" stroke-linecap="square"/>
<polyline points="986.3,403.8 1072.5,403.8" fill="none" stroke="#000" stroke-width="2.6" stroke-linejoin="miter" stroke-linecap="square"/>
<polyline points="1106.4,403.2 1147,403.2 1147,272" fill="none" stroke="#000" stroke-width="2.6" stroke-linejoin="miter" stroke-linecap="square"/>
<polyline points="1147,240 1147,262" fill="none" stroke="#000" stroke-width="2.6" stroke-linejoin="miter" stroke-linecap="square"/>
<path d="M1145.1 201.4 L1143.8 201.6 L1142.6 201.8 L1141.4 202.1 L1140.3 202.5 L1139.2 202.9 L1138.3 203.3 L1137.6 203.8 L1137 204.3 L1136.5 204.9 L1136.2 205.5 L1136.1 206 L1136.2 206.6 L1136.4 207.2 L1136.8 207.7 L1137.4 208.2 L1138.2 208.7 L1139 209.2 L1140 209.6 L1141.1 210 L1142.3 210.3 L1143.5 210.5 L1144.8 210.7 L1146 210.9 L1147.3 211 L1148.5 211 L1149.6 211 L1150.6 210.9 L1151.6 210.8 L1152.4 210.6 L1153 210.4 L1153.5 210.2 L1153.8 209.9 L1154 209.7 L1154 209.4 L1153.8 209.2 L1153.4 209 L1152.8 208.7 L1152.1 208.6 L1151.3 208.4 L1150.3 208.3 L1149.2 208.3 L1148.1 208.2 L1146.9 208.3 L1145.6 208.4 L1144.3 208.6 L1143.1 208.8 L1141.9 209.1 L1140.7 209.4 L1139.7 209.8 L1138.7 210.2 L1137.9 210.7 L1137.2 211.2 L1136.7 211.7 L1136.3 212.3 L1136.1 212.8 L1136.1 213.4 L1136.3 214 L1136.6 214.5 L1137.1 215.1 L1137.8 215.6 L1138.6 216 L1139.6 216.5 L1140.6 216.9 L1141.8 217.2 L1143 217.5 L1144.2 217.7 L1145.5 217.9 L1146.7 218 L1148 218 L1149.1 218 L1150.2 218 L1151.2 217.9 L1152 217.7 L1152.8 217.6 L1153.3 217.3 L1153.7 217.1 L1154 216.9 L1154 216.6 L1153.9 216.4 L1153.6 216.1 L1153.1 215.9 L1152.5 215.7 L1151.7 215.5 L1150.8 215.4 L1149.7 215.3 L1148.6 215.3 L1147.4 215.3 L1146.2 215.4 L1144.9 215.5 L1143.7 215.7 L1142.4 216 L1141.2 216.3 L1140.1 216.6 L1139.1 217.1 L1138.2 217.5 L1137.5 218 L1136.9 218.5 L1136.5 219.1 L1136.2 219.6 L1136.1 220.2 L1136.2 220.8 L1136.5 221.3 L1136.9 221.9 L1137.5 222.4 L1138.2 222.9 L1139.1 223.3 L1140.1 223.8 L1141.2 224.1 L1142.4 224.4 L1143.7 224.7 L1144.9 224.9 L1146.2 225 L1147.4 225.1 L1148.6 225.1 L1149.7 225.1 L1150.8 225 L1151.7 224.9 L1152.5 224.7 L1153.1 224.5 L1153.6 224.3 L1153.9 224 L1154 223.8 L1154 223.5 L1153.7 223.3 L1153.3 223.1 L1152.8 222.8 L1152 222.7 L1151.2 222.5 L1150.2 222.4 L1149.1 222.4 L1148 222.4 L1146.7 222.4 L1145.5 222.5 L1144.2 222.7 L1143 222.9 L1141.8 223.2 L1140.6 223.5 L1139.6 223.9 L1138.6 224.4 L1137.8 224.8 L1137.1 225.3 L1136.6 225.9 L1136.3 226.4 L1136.1 227 L1136.1 227.6 L1136.3 228.1 L1136.7 228.7 L1137.2 229.2 L1137.9 229.7 L1138.7 230.2 L1139.7 230.6 L1140.7 231 L1141.9 231.3 L1143.1 231.6 L1144.3 231.8 L1145.6 232 L1146.9 232.1 L1148.1 232.2 L1149.2 232.1 L1150.3 232.1 L1151.3 232 L1152.1 231.8 L1152.8 231.7 L1153.4 231.4 L1153.8 231.2 L1154 231 L1154 230.7 L1153.8 230.5 L1153.5 230.2 L1153 230 L1152.4 229.8 L1151.6 229.6 L1150.6 229.5 L1149.6 229.4 L1148.5 229.4 L1147.3 229.4 L1146 229.5 L1144.8 229.7 L1143.5 229.9 L1142.3 230.1 L1141.1 230.4 L1140 230.8 L1139 231.2 L1138.2 231.7 L1137.4 232.2 L1136.8 232.7 L1136.4 233.2 L1136.2 233.8 L1136.1 234.4 L1136.2 234.9 L1136.5 235.5 L1137 236.1 L1137.6 236.6 L1138.3 237.1 L1139.2 237.5 L1140.3 237.9 L1141.4 238.3 L1142.6 238.6 L1143.8 238.8 L1145.1 239" fill="none" stroke="#4a4a38" stroke-width="2.9" stroke-linejoin="round"/>
<path d="M1145.1 201.4 L1143.8 201.6 L1142.6 201.8 L1141.4 202.1 L1140.3 202.5 L1139.2 202.9 L1138.3 203.3 L1137.6 203.8 L1137 204.3 L1136.5 204.9 L1136.2 205.5 L1136.1 206 L1136.2 206.6 L1136.4 207.2 L1136.8 207.7 L1137.4 208.2 L1138.2 208.7 L1139 209.2 L1140 209.6 L1141.1 210 L1142.3 210.3 L1143.5 210.5 L1144.8 210.7 L1146 210.9 L1147.3 211 L1148.5 211 L1149.6 211 L1150.6 210.9 L1151.6 210.8 L1152.4 210.6 L1153 210.4 L1153.5 210.2 L1153.8 209.9 L1154 209.7 L1154 209.4 L1153.8 209.2 L1153.4 209 L1152.8 208.7 L1152.1 208.6 L1151.3 208.4 L1150.3 208.3 L1149.2 208.3 L1148.1 208.2 L1146.9 208.3 L1145.6 208.4 L1144.3 208.6 L1143.1 208.8 L1141.9 209.1 L1140.7 209.4 L1139.7 209.8 L1138.7 210.2 L1137.9 210.7 L1137.2 211.2 L1136.7 211.7 L1136.3 212.3 L1136.1 212.8 L1136.1 213.4 L1136.3 214 L1136.6 214.5 L1137.1 215.1 L1137.8 215.6 L1138.6 216 L1139.6 216.5 L1140.6 216.9 L1141.8 217.2 L1143 217.5 L1144.2 217.7 L1145.5 217.9 L1146.7 218 L1148 218 L1149.1 218 L1150.2 218 L1151.2 217.9 L1152 217.7 L1152.8 217.6 L1153.3 217.3 L1153.7 217.1 L1154 216.9 L1154 216.6 L1153.9 216.4 L1153.6 216.1 L1153.1 215.9 L1152.5 215.7 L1151.7 215.5 L1150.8 215.4 L1149.7 215.3 L1148.6 215.3 L1147.4 215.3 L1146.2 215.4 L1144.9 215.5 L1143.7 215.7 L1142.4 216 L1141.2 216.3 L1140.1 216.6 L1139.1 217.1 L1138.2 217.5 L1137.5 218 L1136.9 218.5 L1136.5 219.1 L1136.2 219.6 L1136.1 220.2 L1136.2 220.8 L1136.5 221.3 L1136.9 221.9 L1137.5 222.4 L1138.2 222.9 L1139.1 223.3 L1140.1 223.8 L1141.2 224.1 L1142.4 224.4 L1143.7 224.7 L1144.9 224.9 L1146.2 225 L1147.4 225.1 L1148.6 225.1 L1149.7 225.1 L1150.8 225 L1151.7 224.9 L1152.5 224.7 L1153.1 224.5 L1153.6 224.3 L1153.9 224 L1154 223.8 L1154 223.5 L1153.7 223.3 L1153.3 223.1 L1152.8 222.8 L1152 222.7 L1151.2 222.5 L1150.2 222.4 L1149.1 222.4 L1148 222.4 L1146.7 222.4 L1145.5 222.5 L1144.2 222.7 L1143 222.9 L1141.8 223.2 L1140.6 223.5 L1139.6 223.9 L1138.6 224.4 L1137.8 224.8 L1137.1 225.3 L1136.6 225.9 L1136.3 226.4 L1136.1 227 L1136.1 227.6 L1136.3 228.1 L1136.7 228.7 L1137.2 229.2 L1137.9 229.7 L1138.7 230.2 L1139.7 230.6 L1140.7 231 L1141.9 231.3 L1143.1 231.6 L1144.3 231.8 L1145.6 232 L1146.9 232.1 L1148.1 232.2 L1149.2 232.1 L1150.3 232.1 L1151.3 232 L1152.1 231.8 L1152.8 231.7 L1153.4 231.4 L1153.8 231.2 L1154 231 L1154 230.7 L1153.8 230.5 L1153.5 230.2 L1153 230 L1152.4 229.8 L1151.6 229.6 L1150.6 229.5 L1149.6 229.4 L1148.5 229.4 L1147.3 229.4 L1146 229.5 L1144.8 229.7 L1143.5 229.9 L1142.3 230.1 L1141.1 230.4 L1140 230.8 L1139 231.2 L1138.2 231.7 L1137.4 232.2 L1136.8 232.7 L1136.4 233.2 L1136.2 233.8 L1136.1 234.4 L1136.2 234.9 L1136.5 235.5 L1137 236.1 L1137.6 236.6 L1138.3 237.1 L1139.2 237.5 L1140.3 237.9 L1141.4 238.3 L1142.6 238.6 L1143.8 238.8 L1145.1 239" fill="none" stroke="#fff" stroke-width="1.5" stroke-linejoin="round"/>
<rect x="1128" y="260.7" width="37.3" height="4.7" fill="#000"/>
<rect x="1128" y="269.2" width="37.3" height="5.6" fill="#000"/>
<polyline points="913,250.2 922.8,254 904.7,260.5 922.8,267.5 904.7,274.3 922.8,280.1 904.7,286.7 913,290" fill="none" stroke="#000" stroke-width="2.4" stroke-linejoin="miter"/>
<path d="M954.1 404.7 L954.3 406.2 L954.5 407.6 L954.7 409 L955 410.2 L955.3 411.4 L955.7 412.4 L956.1 413.3 L956.5 414 L957 414.5 L957.4 414.9 L957.9 415 L958.4 414.9 L958.8 414.6 L959.3 414.2 L959.7 413.5 L960.1 412.6 L960.5 411.6 L960.8 410.5 L961.1 409.3 L961.4 407.9 L961.6 406.5 L961.7 405.1 L961.9 403.6 L961.9 402.2 L962 400.8 L961.9 399.5 L961.9 398.3 L961.8 397.3 L961.6 396.4 L961.5 395.6 L961.3 395 L961.1 394.7 L960.9 394.5 L960.7 394.5 L960.5 394.8 L960.3 395.2 L960.1 395.8 L960 396.6 L959.8 397.6 L959.8 398.7 L959.7 400 L959.7 401.3 L959.7 402.7 L959.8 404.1 L960 405.6 L960.1 407 L960.4 408.4 L960.6 409.7 L961 410.9 L961.3 412 L961.7 412.9 L962.1 413.7 L962.5 414.3 L963 414.8 L963.5 415 L963.9 415 L964.4 414.8 L964.8 414.4 L965.3 413.8 L965.7 413 L966.1 412.1 L966.4 411 L966.8 409.8 L967 408.5 L967.3 407.1 L967.5 405.7 L967.6 404.3 L967.7 402.8 L967.7 401.4 L967.7 400.1 L967.7 398.9 L967.6 397.7 L967.5 396.7 L967.3 395.9 L967.2 395.3 L967 394.8 L966.8 394.6 L966.6 394.5 L966.4 394.6 L966.2 395 L966 395.5 L965.8 396.3 L965.7 397.2 L965.6 398.2 L965.5 399.4 L965.5 400.7 L965.5 402 L965.6 403.5 L965.7 404.9 L965.8 406.4 L966 407.8 L966.3 409.1 L966.6 410.4 L966.9 411.5 L967.3 412.5 L967.7 413.4 L968.1 414.1 L968.6 414.6 L969 414.9 L969.5 415 L970 414.9 L970.4 414.6 L970.9 414.1 L971.3 413.4 L971.7 412.5 L972.1 411.5 L972.4 410.4 L972.7 409.1 L973 407.8 L973.2 406.4 L973.3 404.9 L973.4 403.5 L973.5 402 L973.5 400.7 L973.5 399.4 L973.4 398.2 L973.3 397.2 L973.2 396.3 L973 395.5 L972.8 395 L972.6 394.6 L972.4 394.5 L972.2 394.6 L972 394.8 L971.8 395.3 L971.7 395.9 L971.5 396.7 L971.4 397.7 L971.3 398.9 L971.3 400.1 L971.3 401.4 L971.3 402.8 L971.4 404.3 L971.5 405.7 L971.7 407.1 L972 408.5 L972.2 409.8 L972.6 411 L972.9 412.1 L973.3 413 L973.7 413.8 L974.2 414.4 L974.6 414.8 L975.1 415 L975.5 415 L976 414.8 L976.5 414.3 L976.9 413.7 L977.3 412.9 L977.7 412 L978 410.9 L978.4 409.7 L978.6 408.4 L978.9 407 L979 405.6 L979.2 404.1 L979.3 402.7 L979.3 401.3 L979.3 400 L979.2 398.7 L979.2 397.6 L979 396.6 L978.9 395.8 L978.7 395.2 L978.5 394.8 L978.3 394.5 L978.1 394.5 L977.9 394.7 L977.7 395 L977.5 395.6 L977.4 396.4 L977.2 397.3 L977.1 398.3 L977.1 399.5 L977 400.8 L977.1 402.2 L977.1 403.6 L977.3 405.1 L977.4 406.5 L977.6 407.9 L977.9 409.3 L978.2 410.5 L978.5 411.6 L978.9 412.6 L979.3 413.5 L979.7 414.2 L980.2 414.6 L980.6 414.9 L981.1 415 L981.6 414.9 L982 414.5 L982.5 414 L982.9 413.3 L983.3 412.4 L983.7 411.4 L984 410.2 L984.3 409 L984.5 407.6 L984.7 406.2 L984.9 404.7" fill="none" stroke="#4a4a38" stroke-width="2.9" stroke-linejoin="round"/>
<path d="M954.1 404.7 L954.3 406.2 L954.5 407.6 L954.7 409 L955 410.2 L955.3 411.4 L955.7 412.4 L956.1 413.3 L956.5 414 L957 414.5 L957.4 414.9 L957.9 415 L958.4 414.9 L958.8 414.6 L959.3 414.2 L959.7 413.5 L960.1 412.6 L960.5 411.6 L960.8 410.5 L961.1 409.3 L961.4 407.9 L961.6 406.5 L961.7 405.1 L961.9 403.6 L961.9 402.2 L962 400.8 L961.9 399.5 L961.9 398.3 L961.8 397.3 L961.6 396.4 L961.5 395.6 L961.3 395 L961.1 394.7 L960.9 394.5 L960.7 394.5 L960.5 394.8 L960.3 395.2 L960.1 395.8 L960 396.6 L959.8 397.6 L959.8 398.7 L959.7 400 L959.7 401.3 L959.7 402.7 L959.8 404.1 L960 405.6 L960.1 407 L960.4 408.4 L960.6 409.7 L961 410.9 L961.3 412 L961.7 412.9 L962.1 413.7 L962.5 414.3 L963 414.8 L963.5 415 L963.9 415 L964.4 414.8 L964.8 414.4 L965.3 413.8 L965.7 413 L966.1 412.1 L966.4 411 L966.8 409.8 L967 408.5 L967.3 407.1 L967.5 405.7 L967.6 404.3 L967.7 402.8 L967.7 401.4 L967.7 400.1 L967.7 398.9 L967.6 397.7 L967.5 396.7 L967.3 395.9 L967.2 395.3 L967 394.8 L966.8 394.6 L966.6 394.5 L966.4 394.6 L966.2 395 L966 395.5 L965.8 396.3 L965.7 397.2 L965.6 398.2 L965.5 399.4 L965.5 400.7 L965.5 402 L965.6 403.5 L965.7 404.9 L965.8 406.4 L966 407.8 L966.3 409.1 L966.6 410.4 L966.9 411.5 L967.3 412.5 L967.7 413.4 L968.1 414.1 L968.6 414.6 L969 414.9 L969.5 415 L970 414.9 L970.4 414.6 L970.9 414.1 L971.3 413.4 L971.7 412.5 L972.1 411.5 L972.4 410.4 L972.7 409.1 L973 407.8 L973.2 406.4 L973.3 404.9 L973.4 403.5 L973.5 402 L973.5 400.7 L973.5 399.4 L973.4 398.2 L973.3 397.2 L973.2 396.3 L973 395.5 L972.8 395 L972.6 394.6 L972.4 394.5 L972.2 394.6 L972 394.8 L971.8 395.3 L971.7 395.9 L971.5 396.7 L971.4 397.7 L971.3 398.9 L971.3 400.1 L971.3 401.4 L971.3 402.8 L971.4 404.3 L971.5 405.7 L971.7 407.1 L972 408.5 L972.2 409.8 L972.6 411 L972.9 412.1 L973.3 413 L973.7 413.8 L974.2 414.4 L974.6 414.8 L975.1 415 L975.5 415 L976 414.8 L976.5 414.3 L976.9 413.7 L977.3 412.9 L977.7 412 L978 410.9 L978.4 409.7 L978.6 408.4 L978.9 407 L979 405.6 L979.2 404.1 L979.3 402.7 L979.3 401.3 L979.3 400 L979.2 398.7 L979.2 397.6 L979 396.6 L978.9 395.8 L978.7 395.2 L978.5 394.8 L978.3 394.5 L978.1 394.5 L977.9 394.7 L977.7 395 L977.5 395.6 L977.4 396.4 L977.2 397.3 L977.1 398.3 L977.1 399.5 L977 400.8 L977.1 402.2 L977.1 403.6 L977.3 405.1 L977.4 406.5 L977.6 407.9 L977.9 409.3 L978.2 410.5 L978.5 411.6 L978.9 412.6 L979.3 413.5 L979.7 414.2 L980.2 414.6 L980.6 414.9 L981.1 415 L981.6 414.9 L982 414.5 L982.5 414 L982.9 413.3 L983.3 412.4 L983.7 411.4 L984 410.2 L984.3 409 L984.5 407.6 L984.7 406.2 L984.9 404.7" fill="none" stroke="#fff" stroke-width="1.5" stroke-linejoin="round"/>
<path d="M1073.9 405.2 L1074.1 406.7 L1074.3 408.1 L1074.5 409.5 L1074.8 410.8 L1075.1 412 L1075.5 413 L1075.9 413.9 L1076.3 414.6 L1076.8 415.1 L1077.3 415.5 L1077.7 415.6 L1078.2 415.5 L1078.7 415.2 L1079.1 414.7 L1079.5 414.1 L1080 413.2 L1080.3 412.2 L1080.7 411.1 L1081 409.8 L1081.2 408.4 L1081.5 407 L1081.6 405.6 L1081.7 404.1 L1081.8 402.7 L1081.8 401.3 L1081.8 400 L1081.7 398.8 L1081.6 397.7 L1081.5 396.8 L1081.4 396 L1081.2 395.5 L1081 395.1 L1080.8 394.9 L1080.6 394.9 L1080.3 395.2 L1080.2 395.6 L1080 396.3 L1079.8 397.1 L1079.7 398 L1079.6 399.2 L1079.6 400.4 L1079.6 401.7 L1079.6 403.1 L1079.7 404.6 L1079.8 406.1 L1080 407.5 L1080.2 408.9 L1080.5 410.2 L1080.8 411.5 L1081.2 412.6 L1081.6 413.5 L1082 414.3 L1082.4 414.9 L1082.9 415.4 L1083.3 415.6 L1083.8 415.6 L1084.3 415.4 L1084.8 415 L1085.2 414.4 L1085.6 413.6 L1086 412.7 L1086.4 411.6 L1086.7 410.4 L1087 409.1 L1087.2 407.7 L1087.4 406.2 L1087.5 404.8 L1087.6 403.3 L1087.7 401.9 L1087.7 400.5 L1087.6 399.3 L1087.5 398.2 L1087.4 397.2 L1087.3 396.3 L1087.1 395.7 L1086.9 395.2 L1086.7 395 L1086.5 394.9 L1086.3 395 L1086.1 395.4 L1085.9 396 L1085.7 396.7 L1085.6 397.6 L1085.5 398.6 L1085.4 399.8 L1085.4 401.1 L1085.4 402.5 L1085.5 403.9 L1085.6 405.4 L1085.8 406.9 L1086 408.3 L1086.2 409.7 L1086.5 410.9 L1086.8 412.1 L1087.2 413.1 L1087.6 414 L1088.1 414.7 L1088.5 415.2 L1089 415.5 L1089.5 415.6 L1089.9 415.5 L1090.4 415.2 L1090.8 414.7 L1091.3 414 L1091.7 413.1 L1092.1 412.1 L1092.4 410.9 L1092.7 409.7 L1092.9 408.3 L1093.1 406.9 L1093.3 405.4 L1093.4 403.9 L1093.5 402.5 L1093.5 401.1 L1093.5 399.8 L1093.4 398.6 L1093.3 397.6 L1093.2 396.7 L1093 396 L1092.8 395.4 L1092.6 395 L1092.4 394.9 L1092.2 395 L1092 395.2 L1091.8 395.7 L1091.6 396.3 L1091.5 397.2 L1091.4 398.2 L1091.3 399.3 L1091.2 400.5 L1091.2 401.9 L1091.3 403.3 L1091.4 404.8 L1091.5 406.2 L1091.7 407.7 L1091.9 409.1 L1092.2 410.4 L1092.5 411.6 L1092.9 412.7 L1093.3 413.6 L1093.7 414.4 L1094.1 415 L1094.6 415.4 L1095.1 415.6 L1095.6 415.6 L1096 415.4 L1096.5 414.9 L1096.9 414.3 L1097.3 413.5 L1097.7 412.6 L1098.1 411.5 L1098.4 410.2 L1098.7 408.9 L1098.9 407.5 L1099.1 406.1 L1099.2 404.6 L1099.3 403.1 L1099.3 401.7 L1099.3 400.4 L1099.3 399.2 L1099.2 398 L1099.1 397.1 L1098.9 396.3 L1098.7 395.6 L1098.6 395.2 L1098.3 394.9 L1098.1 394.9 L1097.9 395.1 L1097.7 395.5 L1097.5 396 L1097.4 396.8 L1097.3 397.7 L1097.2 398.8 L1097.1 400 L1097.1 401.3 L1097.1 402.7 L1097.2 404.1 L1097.3 405.6 L1097.4 407 L1097.7 408.4 L1097.9 409.8 L1098.2 411.1 L1098.6 412.2 L1098.9 413.2 L1099.4 414.1 L1099.8 414.7 L1100.2 415.2 L1100.7 415.5 L1101.2 415.6 L1101.6 415.5 L1102.1 415.1 L1102.6 414.6 L1103 413.9 L1103.4 413 L1103.8 412 L1104.1 410.8 L1104.4 409.5 L1104.6 408.1 L1104.8 406.7 L1105 405.2" fill="none" stroke="#4a4a38" stroke-width="2.9" stroke-linejoin="round"/>
<path d="M1073.9 405.2 L1074.1 406.7 L1074.3 408.1 L1074.5 409.5 L1074.8 410.8 L1075.1 412 L1075.5 413 L1075.9 413.9 L1076.3 414.6 L1076.8 415.1 L1077.3 415.5 L1077.7 415.6 L1078.2 415.5 L1078.7 415.2 L1079.1 414.7 L1079.5 414.1 L1080 413.2 L1080.3 412.2 L1080.7 411.1 L1081 409.8 L1081.2 408.4 L1081.5 407 L1081.6 405.6 L1081.7 404.1 L1081.8 402.7 L1081.8 401.3 L1081.8 400 L1081.7 398.8 L1081.6 397.7 L1081.5 396.8 L1081.4 396 L1081.2 395.5 L1081 395.1 L1080.8 394.9 L1080.6 394.9 L1080.3 395.2 L1080.2 395.6 L1080 396.3 L1079.8 397.1 L1079.7 398 L1079.6 399.2 L1079.6 400.4 L1079.6 401.7 L1079.6 403.1 L1079.7 404.6 L1079.8 406.1 L1080 407.5 L1080.2 408.9 L1080.5 410.2 L1080.8 411.5 L1081.2 412.6 L1081.6 413.5 L1082 414.3 L1082.4 414.9 L1082.9 415.4 L1083.3 415.6 L1083.8 415.6 L1084.3 415.4 L1084.8 415 L1085.2 414.4 L1085.6 413.6 L1086 412.7 L1086.4 411.6 L1086.7 410.4 L1087 409.1 L1087.2 407.7 L1087.4 406.2 L1087.5 404.8 L1087.6 403.3 L1087.7 401.9 L1087.7 400.5 L1087.6 399.3 L1087.5 398.2 L1087.4 397.2 L1087.3 396.3 L1087.1 395.7 L1086.9 395.2 L1086.7 395 L1086.5 394.9 L1086.3 395 L1086.1 395.4 L1085.9 396 L1085.7 396.7 L1085.6 397.6 L1085.5 398.6 L1085.4 399.8 L1085.4 401.1 L1085.4 402.5 L1085.5 403.9 L1085.6 405.4 L1085.8 406.9 L1086 408.3 L1086.2 409.7 L1086.5 410.9 L1086.8 412.1 L1087.2 413.1 L1087.6 414 L1088.1 414.7 L1088.5 415.2 L1089 415.5 L1089.5 415.6 L1089.9 415.5 L1090.4 415.2 L1090.8 414.7 L1091.3 414 L1091.7 413.1 L1092.1 412.1 L1092.4 410.9 L1092.7 409.7 L1092.9 408.3 L1093.1 406.9 L1093.3 405.4 L1093.4 403.9 L1093.5 402.5 L1093.5 401.1 L1093.5 399.8 L1093.4 398.6 L1093.3 397.6 L1093.2 396.7 L1093 396 L1092.8 395.4 L1092.6 395 L1092.4 394.9 L1092.2 395 L1092 395.2 L1091.8 395.7 L1091.6 396.3 L1091.5 397.2 L1091.4 398.2 L1091.3 399.3 L1091.2 400.5 L1091.2 401.9 L1091.3 403.3 L1091.4 404.8 L1091.5 406.2 L1091.7 407.7 L1091.9 409.1 L1092.2 410.4 L1092.5 411.6 L1092.9 412.7 L1093.3 413.6 L1093.7 414.4 L1094.1 415 L1094.6 415.4 L1095.1 415.6 L1095.6 415.6 L1096 415.4 L1096.5 414.9 L1096.9 414.3 L1097.3 413.5 L1097.7 412.6 L1098.1 411.5 L1098.4 410.2 L1098.7 408.9 L1098.9 407.5 L1099.1 406.1 L1099.2 404.6 L1099.3 403.1 L1099.3 401.7 L1099.3 400.4 L1099.3 399.2 L1099.2 398 L1099.1 397.1 L1098.9 396.3 L1098.7 395.6 L1098.6 395.2 L1098.3 394.9 L1098.1 394.9 L1097.9 395.1 L1097.7 395.5 L1097.5 396 L1097.4 396.8 L1097.3 397.7 L1097.2 398.8 L1097.1 400 L1097.1 401.3 L1097.1 402.7 L1097.2 404.1 L1097.3 405.6 L1097.4 407 L1097.7 408.4 L1097.9 409.8 L1098.2 411.1 L1098.6 412.2 L1098.9 413.2 L1099.4 414.1 L1099.8 414.7 L1100.2 415.2 L1100.7 415.5 L1101.2 415.6 L1101.6 415.5 L1102.1 415.1 L1102.6 414.6 L1103 413.9 L1103.4 413 L1103.8 412 L1104.1 410.8 L1104.4 409.5 L1104.6 408.1 L1104.8 406.7 L1105 405.2" fill="none" stroke="#fff" stroke-width="1.5" stroke-linejoin="round"/>
<polyline points="977.5,249 977.5,223.3 1021.7,223.3" fill="none" stroke="#000" stroke-width="2.6" stroke-linejoin="miter" stroke-linecap="square"/>
<polyline points="1055.6,222.3 1091.7,222.3 1091.7,253.2" fill="none" stroke="#000" stroke-width="2.6" stroke-linejoin="miter" stroke-linecap="square"/>
<polyline points="1091.7,291.8 1091.7,331.5 977,331.5 977,324" fill="none" stroke="#000" stroke-width="2.6" stroke-linejoin="miter" stroke-linecap="square"/>
<polyline points="977.5,260 977.5,286" fill="none" stroke="#000" stroke-width="2.6" stroke-linejoin="miter" stroke-linecap="square"/>
<path d="M1022.1 221.1 L1022.3 222.6 L1022.5 224 L1022.7 225.4 L1023 226.7 L1023.4 227.9 L1023.8 228.9 L1024.2 229.8 L1024.6 230.5 L1025.1 231 L1025.6 231.4 L1026 231.5 L1026.5 231.4 L1027 231.1 L1027.5 230.6 L1027.9 230 L1028.4 229.1 L1028.7 228.1 L1029.1 227 L1029.4 225.7 L1029.7 224.3 L1029.9 222.9 L1030.1 221.5 L1030.2 220 L1030.3 218.6 L1030.3 217.2 L1030.3 215.9 L1030.2 214.7 L1030.1 213.6 L1030 212.7 L1029.8 211.9 L1029.6 211.4 L1029.4 211 L1029.2 210.8 L1029 210.8 L1028.8 211.1 L1028.6 211.5 L1028.4 212.2 L1028.2 213 L1028.1 213.9 L1028 215.1 L1027.9 216.3 L1027.9 217.6 L1028 219 L1028.1 220.5 L1028.2 222 L1028.4 223.4 L1028.6 224.8 L1028.9 226.1 L1029.2 227.4 L1029.6 228.5 L1030 229.4 L1030.4 230.2 L1030.9 230.8 L1031.4 231.3 L1031.9 231.5 L1032.3 231.5 L1032.8 231.3 L1033.3 230.9 L1033.8 230.3 L1034.2 229.5 L1034.6 228.6 L1035 227.5 L1035.3 226.3 L1035.6 225 L1035.8 223.6 L1036 222.1 L1036.2 220.7 L1036.3 219.2 L1036.3 217.8 L1036.3 216.4 L1036.3 215.2 L1036.2 214.1 L1036 213.1 L1035.9 212.2 L1035.7 211.6 L1035.5 211.1 L1035.3 210.9 L1035.1 210.8 L1034.9 210.9 L1034.7 211.3 L1034.5 211.9 L1034.3 212.6 L1034.2 213.5 L1034.1 214.5 L1034 215.7 L1034 217 L1034 218.4 L1034 219.8 L1034.2 221.3 L1034.3 222.8 L1034.5 224.2 L1034.8 225.6 L1035.1 226.8 L1035.5 228 L1035.9 229 L1036.3 229.9 L1036.7 230.6 L1037.2 231.1 L1037.7 231.4 L1038.1 231.5 L1038.6 231.4 L1039.1 231.1 L1039.6 230.6 L1040 229.9 L1040.4 229 L1040.8 228 L1041.2 226.8 L1041.5 225.6 L1041.8 224.2 L1042 222.8 L1042.1 221.3 L1042.3 219.8 L1042.3 218.4 L1042.3 217 L1042.3 215.7 L1042.2 214.5 L1042.1 213.5 L1042 212.6 L1041.8 211.9 L1041.6 211.3 L1041.4 210.9 L1041.2 210.8 L1041 210.9 L1040.8 211.1 L1040.6 211.6 L1040.4 212.2 L1040.3 213.1 L1040.1 214.1 L1040 215.2 L1040 216.4 L1040 217.8 L1040 219.2 L1040.1 220.7 L1040.3 222.1 L1040.5 223.6 L1040.7 225 L1041 226.3 L1041.3 227.5 L1041.7 228.6 L1042.1 229.5 L1042.5 230.3 L1043 230.9 L1043.5 231.3 L1044 231.5 L1044.4 231.5 L1044.9 231.3 L1045.4 230.8 L1045.9 230.2 L1046.3 229.4 L1046.7 228.5 L1047.1 227.4 L1047.4 226.1 L1047.7 224.8 L1047.9 223.4 L1048.1 222 L1048.2 220.5 L1048.3 219 L1048.4 217.6 L1048.4 216.3 L1048.3 215.1 L1048.2 213.9 L1048.1 213 L1047.9 212.2 L1047.7 211.5 L1047.5 211.1 L1047.3 210.8 L1047.1 210.8 L1046.9 211 L1046.7 211.4 L1046.5 211.9 L1046.3 212.7 L1046.2 213.6 L1046.1 214.7 L1046 215.9 L1046 217.2 L1046 218.6 L1046.1 220 L1046.2 221.5 L1046.4 222.9 L1046.6 224.3 L1046.9 225.7 L1047.2 227 L1047.6 228.1 L1047.9 229.1 L1048.4 230 L1048.8 230.6 L1049.3 231.1 L1049.8 231.4 L1050.3 231.5 L1050.7 231.4 L1051.2 231 L1051.7 230.5 L1052.1 229.8 L1052.5 228.9 L1052.9 227.9 L1053.3 226.7 L1053.6 225.4 L1053.8 224 L1054 222.6 L1054.2 221.1" fill="none" stroke="#4a4a38" stroke-width="2.9" stroke-linejoin="round"/>
<path d="M1022.1 221.1 L1022.3 222.6 L1022.5 224 L1022.7 225.4 L1023 226.7 L1023.4 227.9 L1023.8 228.9 L1024.2 229.8 L1024.6 230.5 L1025.1 231 L1025.6 231.4 L1026 231.5 L1026.5 231.4 L1027 231.1 L1027.5 230.6 L1027.9 230 L1028.4 229.1 L1028.7 228.1 L1029.1 227 L1029.4 225.7 L1029.7 224.3 L1029.9 222.9 L1030.1 221.5 L1030.2 220 L1030.3 218.6 L1030.3 217.2 L1030.3 215.9 L1030.2 214.7 L1030.1 213.6 L1030 212.7 L1029.8 211.9 L1029.6 211.4 L1029.4 211 L1029.2 210.8 L1029 210.8 L1028.8 211.1 L1028.6 211.5 L1028.4 212.2 L1028.2 213 L1028.1 213.9 L1028 215.1 L1027.9 216.3 L1027.9 217.6 L1028 219 L1028.1 220.5 L1028.2 222 L1028.4 223.4 L1028.6 224.8 L1028.9 226.1 L1029.2 227.4 L1029.6 228.5 L1030 229.4 L1030.4 230.2 L1030.9 230.8 L1031.4 231.3 L1031.9 231.5 L1032.3 231.5 L1032.8 231.3 L1033.3 230.9 L1033.8 230.3 L1034.2 229.5 L1034.6 228.6 L1035 227.5 L1035.3 226.3 L1035.6 225 L1035.8 223.6 L1036 222.1 L1036.2 220.7 L1036.3 219.2 L1036.3 217.8 L1036.3 216.4 L1036.3 215.2 L1036.2 214.1 L1036 213.1 L1035.9 212.2 L1035.7 211.6 L1035.5 211.1 L1035.3 210.9 L1035.1 210.8 L1034.9 210.9 L1034.7 211.3 L1034.5 211.9 L1034.3 212.6 L1034.2 213.5 L1034.1 214.5 L1034 215.7 L1034 217 L1034 218.4 L1034 219.8 L1034.2 221.3 L1034.3 222.8 L1034.5 224.2 L1034.8 225.6 L1035.1 226.8 L1035.5 228 L1035.9 229 L1036.3 229.9 L1036.7 230.6 L1037.2 231.1 L1037.7 231.4 L1038.1 231.5 L1038.6 231.4 L1039.1 231.1 L1039.6 230.6 L1040 229.9 L1040.4 229 L1040.8 228 L1041.2 226.8 L1041.5 225.6 L1041.8 224.2 L1042 222.8 L1042.1 221.3 L1042.3 219.8 L1042.3 218.4 L1042.3 217 L1042.3 215.7 L1042.2 214.5 L1042.1 213.5 L1042 212.6 L1041.8 211.9 L1041.6 211.3 L1041.4 210.9 L1041.2 210.8 L1041 210.9 L1040.8 211.1 L1040.6 211.6 L1040.4 212.2 L1040.3 213.1 L1040.1 214.1 L1040 215.2 L1040 216.4 L1040 217.8 L1040 219.2 L1040.1 220.7 L1040.3 222.1 L1040.5 223.6 L1040.7 225 L1041 226.3 L1041.3 227.5 L1041.7 228.6 L1042.1 229.5 L1042.5 230.3 L1043 230.9 L1043.5 231.3 L1044 231.5 L1044.4 231.5 L1044.9 231.3 L1045.4 230.8 L1045.9 230.2 L1046.3 229.4 L1046.7 228.5 L1047.1 227.4 L1047.4 226.1 L1047.7 224.8 L1047.9 223.4 L1048.1 222 L1048.2 220.5 L1048.3 219 L1048.4 217.6 L1048.4 216.3 L1048.3 215.1 L1048.2 213.9 L1048.1 213 L1047.9 212.2 L1047.7 211.5 L1047.5 211.1 L1047.3 210.8 L1047.1 210.8 L1046.9 211 L1046.7 211.4 L1046.5 211.9 L1046.3 212.7 L1046.2 213.6 L1046.1 214.7 L1046 215.9 L1046 217.2 L1046 218.6 L1046.1 220 L1046.2 221.5 L1046.4 222.9 L1046.6 224.3 L1046.9 225.7 L1047.2 227 L1047.6 228.1 L1047.9 229.1 L1048.4 230 L1048.8 230.6 L1049.3 231.1 L1049.8 231.4 L1050.3 231.5 L1050.7 231.4 L1051.2 231 L1051.7 230.5 L1052.1 229.8 L1052.5 228.9 L1052.9 227.9 L1053.3 226.7 L1053.6 225.4 L1053.8 224 L1054 222.6 L1054.2 221.1" fill="none" stroke="#fff" stroke-width="1.5" stroke-linejoin="round"/>
<rect x="960.2" y="247.5" width="36.4" height="4.6" fill="#000"/>
<rect x="960.2" y="256.8" width="36.4" height="5.2" fill="#000"/>
<path d="M978.9 287.1 L977.6 287.3 L976.4 287.5 L975.2 287.8 L974.1 288.2 L973.1 288.6 L972.2 289 L971.5 289.5 L970.8 290 L970.4 290.5 L970.1 291 L970 291.6 L970.1 292.1 L970.3 292.7 L970.7 293.2 L971.3 293.7 L972 294.2 L972.9 294.7 L973.9 295.1 L975 295.4 L976.1 295.7 L977.3 296 L978.6 296.2 L979.8 296.3 L981.1 296.4 L982.2 296.4 L983.4 296.4 L984.4 296.3 L985.3 296.2 L986.1 296 L986.7 295.8 L987.2 295.6 L987.5 295.4 L987.7 295.2 L987.7 294.9 L987.5 294.7 L987.1 294.4 L986.5 294.2 L985.8 294.1 L985 293.9 L984.1 293.8 L983 293.7 L981.9 293.7 L980.6 293.8 L979.4 293.9 L978.2 294 L976.9 294.3 L975.7 294.5 L974.6 294.8 L973.5 295.2 L972.6 295.6 L971.8 296.1 L971.1 296.6 L970.6 297.1 L970.2 297.6 L970 298.2 L970 298.7 L970.2 299.3 L970.5 299.8 L971 300.4 L971.7 300.9 L972.5 301.3 L973.4 301.7 L974.5 302.1 L975.6 302.4 L976.8 302.7 L978 302.9 L979.3 303.1 L980.5 303.2 L981.7 303.3 L982.9 303.3 L983.9 303.2 L984.9 303.1 L985.8 303 L986.5 302.8 L987 302.6 L987.4 302.4 L987.7 302.1 L987.7 301.9 L987.6 301.6 L987.3 301.4 L986.8 301.2 L986.2 301 L985.4 300.8 L984.5 300.7 L983.5 300.6 L982.4 300.6 L981.2 300.6 L980 300.7 L978.7 300.8 L977.5 301 L976.2 301.3 L975.1 301.6 L974 301.9 L973 302.3 L972.1 302.7 L971.4 303.2 L970.8 303.7 L970.4 304.3 L970.1 304.8 L970 305.3 L970.1 305.9 L970.4 306.4 L970.8 307 L971.4 307.5 L972.1 308 L973 308.4 L974 308.8 L975.1 309.1 L976.2 309.4 L977.5 309.7 L978.7 309.9 L980 310 L981.2 310.1 L982.4 310.1 L983.5 310.1 L984.5 310 L985.4 309.9 L986.2 309.7 L986.8 309.5 L987.3 309.3 L987.6 309.1 L987.7 308.8 L987.7 308.6 L987.4 308.3 L987 308.1 L986.5 307.9 L985.8 307.7 L984.9 307.6 L983.9 307.5 L982.9 307.4 L981.7 307.4 L980.5 307.5 L979.3 307.6 L978 307.8 L976.8 308 L975.6 308.3 L974.5 308.6 L973.4 309 L972.5 309.4 L971.7 309.8 L971 310.3 L970.5 310.9 L970.2 311.4 L970 312 L970 312.5 L970.2 313.1 L970.6 313.6 L971.1 314.1 L971.8 314.6 L972.6 315.1 L973.5 315.5 L974.6 315.9 L975.7 316.2 L976.9 316.4 L978.2 316.7 L979.4 316.8 L980.6 316.9 L981.9 317 L983 317 L984.1 316.9 L985 316.8 L985.8 316.6 L986.5 316.5 L987.1 316.3 L987.5 316 L987.7 315.8 L987.7 315.5 L987.5 315.3 L987.2 315.1 L986.7 314.9 L986.1 314.7 L985.3 314.5 L984.4 314.4 L983.4 314.3 L982.2 314.3 L981.1 314.3 L979.8 314.4 L978.6 314.5 L977.3 314.7 L976.1 315 L975 315.3 L973.9 315.6 L972.9 316 L972 316.5 L971.3 317 L970.7 317.5 L970.3 318 L970.1 318.6 L970 319.1 L970.1 319.7 L970.4 320.2 L970.8 320.7 L971.5 321.2 L972.2 321.7 L973.1 322.1 L974.1 322.5 L975.2 322.9 L976.4 323.2 L977.6 323.4 L978.9 323.6" fill="none" stroke="#4a4a38" stroke-width="2.9" stroke-linejoin="round"/>
<path d="M978.9 287.1 L977.6 287.3 L976.4 287.5 L975.2 287.8 L974.1 288.2 L973.1 288.6 L972.2 289 L971.5 289.5 L970.8 290 L970.4 290.5 L970.1 291 L970 291.6 L970.1 292.1 L970.3 292.7 L970.7 293.2 L971.3 293.7 L972 294.2 L972.9 294.7 L973.9 295.1 L975 295.4 L976.1 295.7 L977.3 296 L978.6 296.2 L979.8 296.3 L981.1 296.4 L982.2 296.4 L983.4 296.4 L984.4 296.3 L985.3 296.2 L986.1 296 L986.7 295.8 L987.2 295.6 L987.5 295.4 L987.7 295.2 L987.7 294.9 L987.5 294.7 L987.1 294.4 L986.5 294.2 L985.8 294.1 L985 293.9 L984.1 293.8 L983 293.7 L981.9 293.7 L980.6 293.8 L979.4 293.9 L978.2 294 L976.9 294.3 L975.7 294.5 L974.6 294.8 L973.5 295.2 L972.6 295.6 L971.8 296.1 L971.1 296.6 L970.6 297.1 L970.2 297.6 L970 298.2 L970 298.7 L970.2 299.3 L970.5 299.8 L971 300.4 L971.7 300.9 L972.5 301.3 L973.4 301.7 L974.5 302.1 L975.6 302.4 L976.8 302.7 L978 302.9 L979.3 303.1 L980.5 303.2 L981.7 303.3 L982.9 303.3 L983.9 303.2 L984.9 303.1 L985.8 303 L986.5 302.8 L987 302.6 L987.4 302.4 L987.7 302.1 L987.7 301.9 L987.6 301.6 L987.3 301.4 L986.8 301.2 L986.2 301 L985.4 300.8 L984.5 300.7 L983.5 300.6 L982.4 300.6 L981.2 300.6 L980 300.7 L978.7 300.8 L977.5 301 L976.2 301.3 L975.1 301.6 L974 301.9 L973 302.3 L972.1 302.7 L971.4 303.2 L970.8 303.7 L970.4 304.3 L970.1 304.8 L970 305.3 L970.1 305.9 L970.4 306.4 L970.8 307 L971.4 307.5 L972.1 308 L973 308.4 L974 308.8 L975.1 309.1 L976.2 309.4 L977.5 309.7 L978.7 309.9 L980 310 L981.2 310.1 L982.4 310.1 L983.5 310.1 L984.5 310 L985.4 309.9 L986.2 309.7 L986.8 309.5 L987.3 309.3 L987.6 309.1 L987.7 308.8 L987.7 308.6 L987.4 308.3 L987 308.1 L986.5 307.9 L985.8 307.7 L984.9 307.6 L983.9 307.5 L982.9 307.4 L981.7 307.4 L980.5 307.5 L979.3 307.6 L978 307.8 L976.8 308 L975.6 308.3 L974.5 308.6 L973.4 309 L972.5 309.4 L971.7 309.8 L971 310.3 L970.5 310.9 L970.2 311.4 L970 312 L970 312.5 L970.2 313.1 L970.6 313.6 L971.1 314.1 L971.8 314.6 L972.6 315.1 L973.5 315.5 L974.6 315.9 L975.7 316.2 L976.9 316.4 L978.2 316.7 L979.4 316.8 L980.6 316.9 L981.9 317 L983 317 L984.1 316.9 L985 316.8 L985.8 316.6 L986.5 316.5 L987.1 316.3 L987.5 316 L987.7 315.8 L987.7 315.5 L987.5 315.3 L987.2 315.1 L986.7 314.9 L986.1 314.7 L985.3 314.5 L984.4 314.4 L983.4 314.3 L982.2 314.3 L981.1 314.3 L979.8 314.4 L978.6 314.5 L977.3 314.7 L976.1 315 L975 315.3 L973.9 315.6 L972.9 316 L972 316.5 L971.3 317 L970.7 317.5 L970.3 318 L970.1 318.6 L970 319.1 L970.1 319.7 L970.4 320.2 L970.8 320.7 L971.5 321.2 L972.2 321.7 L973.1 322.1 L974.1 322.5 L975.2 322.9 L976.4 323.2 L977.6 323.4 L978.9 323.6" fill="none" stroke="#fff" stroke-width="1.5" stroke-linejoin="round"/>
<polyline points="1091.7,253.2 1100.8,257 1081.9,263.5 1100.8,270.3 1081.9,277 1100.8,283.5 1081.9,289.5 1091.7,291.8" fill="none" stroke="#000" stroke-width="2.4" stroke-linejoin="miter"/>
<polyline points="1031.1,331.5 1031.1,349" fill="none" stroke="#000" stroke-width="2.6" stroke-linejoin="miter" stroke-linecap="square"/>
<polyline points="1031.1,386 1031.1,403.8" fill="none" stroke="#000" stroke-width="2.6" stroke-linejoin="miter" stroke-linecap="square"/>
<path d="M1031.3 349.7 L1030 349.9 L1028.7 350.1 L1027.5 350.4 L1026.3 350.7 L1025.3 351.1 L1024.4 351.5 L1023.6 352 L1023 352.5 L1022.5 353 L1022.2 353.6 L1022.1 354.1 L1022.2 354.6 L1022.4 355.2 L1022.9 355.7 L1023.4 356.2 L1024.2 356.7 L1025.1 357.1 L1026.1 357.5 L1027.2 357.9 L1028.4 358.1 L1029.7 358.4 L1031 358.6 L1032.3 358.7 L1033.5 358.8 L1034.8 358.8 L1035.9 358.8 L1037 358.7 L1037.9 358.6 L1038.7 358.5 L1039.4 358.3 L1039.9 358.1 L1040.2 357.8 L1040.4 357.6 L1040.4 357.4 L1040.2 357.1 L1039.8 356.9 L1039.2 356.7 L1038.5 356.5 L1037.6 356.4 L1036.6 356.3 L1035.5 356.2 L1034.4 356.2 L1033.1 356.3 L1031.8 356.4 L1030.5 356.5 L1029.3 356.7 L1028 357 L1026.8 357.3 L1025.8 357.7 L1024.8 358.1 L1023.9 358.5 L1023.2 359 L1022.7 359.5 L1022.3 360 L1022.1 360.6 L1022.1 361.1 L1022.3 361.7 L1022.6 362.2 L1023.2 362.7 L1023.8 363.2 L1024.7 363.6 L1025.6 364.1 L1026.7 364.4 L1027.9 364.7 L1029.1 365 L1030.4 365.2 L1031.7 365.4 L1033 365.5 L1034.2 365.5 L1035.4 365.5 L1036.5 365.5 L1037.5 365.4 L1038.4 365.3 L1039.1 365.1 L1039.7 364.9 L1040.1 364.7 L1040.3 364.4 L1040.4 364.2 L1040.3 363.9 L1040 363.7 L1039.5 363.5 L1038.8 363.3 L1038 363.2 L1037.1 363 L1036 363 L1034.9 362.9 L1033.7 363 L1032.4 363 L1031.1 363.2 L1029.8 363.3 L1028.6 363.6 L1027.4 363.9 L1026.2 364.2 L1025.2 364.6 L1024.3 365 L1023.5 365.5 L1022.9 366 L1022.5 366.5 L1022.2 367.1 L1022.1 367.6 L1022.2 368.1 L1022.5 368.7 L1022.9 369.2 L1023.5 369.7 L1024.3 370.2 L1025.2 370.6 L1026.2 371 L1027.4 371.3 L1028.6 371.6 L1029.8 371.9 L1031.1 372 L1032.4 372.2 L1033.7 372.2 L1034.9 372.3 L1036 372.2 L1037.1 372.2 L1038 372 L1038.8 371.9 L1039.5 371.7 L1040 371.5 L1040.3 371.3 L1040.4 371 L1040.3 370.8 L1040.1 370.5 L1039.7 370.3 L1039.1 370.1 L1038.4 369.9 L1037.5 369.8 L1036.5 369.7 L1035.4 369.7 L1034.2 369.7 L1033 369.7 L1031.7 369.8 L1030.4 370 L1029.1 370.2 L1027.9 370.5 L1026.7 370.8 L1025.6 371.1 L1024.7 371.6 L1023.8 372 L1023.2 372.5 L1022.6 373 L1022.3 373.5 L1022.1 374.1 L1022.1 374.6 L1022.3 375.2 L1022.7 375.7 L1023.2 376.2 L1023.9 376.7 L1024.8 377.1 L1025.8 377.5 L1026.8 377.9 L1028 378.2 L1029.3 378.5 L1030.5 378.7 L1031.8 378.8 L1033.1 378.9 L1034.4 379 L1035.5 379 L1036.6 378.9 L1037.6 378.8 L1038.5 378.7 L1039.2 378.5 L1039.8 378.3 L1040.2 378.1 L1040.4 377.8 L1040.4 377.6 L1040.2 377.4 L1039.9 377.1 L1039.4 376.9 L1038.7 376.7 L1037.9 376.6 L1037 376.5 L1035.9 376.4 L1034.8 376.4 L1033.5 376.4 L1032.3 376.5 L1031 376.6 L1029.7 376.8 L1028.4 377.1 L1027.2 377.3 L1026.1 377.7 L1025.1 378.1 L1024.2 378.5 L1023.4 379 L1022.9 379.5 L1022.4 380 L1022.2 380.6 L1022.1 381.1 L1022.2 381.6 L1022.5 382.2 L1023 382.7 L1023.6 383.2 L1024.4 383.7 L1025.3 384.1 L1026.3 384.5 L1027.5 384.8 L1028.7 385.1 L1030 385.3 L1031.3 385.5" fill="none" stroke="#4a4a38" stroke-width="2.9" stroke-linejoin="round"/>
<path d="M1031.3 349.7 L1030 349.9 L1028.7 350.1 L1027.5 350.4 L1026.3 350.7 L1025.3 351.1 L1024.4 351.5 L1023.6 352 L1023 352.5 L1022.5 353 L1022.2 353.6 L1022.1 354.1 L1022.2 354.6 L1022.4 355.2 L1022.9 355.7 L1023.4 356.2 L1024.2 356.7 L1025.1 357.1 L1026.1 357.5 L1027.2 357.9 L1028.4 358.1 L1029.7 358.4 L1031 358.6 L1032.3 358.7 L1033.5 358.8 L1034.8 358.8 L1035.9 358.8 L1037 358.7 L1037.9 358.6 L1038.7 358.5 L1039.4 358.3 L1039.9 358.1 L1040.2 357.8 L1040.4 357.6 L1040.4 357.4 L1040.2 357.1 L1039.8 356.9 L1039.2 356.7 L1038.5 356.5 L1037.6 356.4 L1036.6 356.3 L1035.5 356.2 L1034.4 356.2 L1033.1 356.3 L1031.8 356.4 L1030.5 356.5 L1029.3 356.7 L1028 357 L1026.8 357.3 L1025.8 357.7 L1024.8 358.1 L1023.9 358.5 L1023.2 359 L1022.7 359.5 L1022.3 360 L1022.1 360.6 L1022.1 361.1 L1022.3 361.7 L1022.6 362.2 L1023.2 362.7 L1023.8 363.2 L1024.7 363.6 L1025.6 364.1 L1026.7 364.4 L1027.9 364.7 L1029.1 365 L1030.4 365.2 L1031.7 365.4 L1033 365.5 L1034.2 365.5 L1035.4 365.5 L1036.5 365.5 L1037.5 365.4 L1038.4 365.3 L1039.1 365.1 L1039.7 364.9 L1040.1 364.7 L1040.3 364.4 L1040.4 364.2 L1040.3 363.9 L1040 363.7 L1039.5 363.5 L1038.8 363.3 L1038 363.2 L1037.1 363 L1036 363 L1034.9 362.9 L1033.7 363 L1032.4 363 L1031.1 363.2 L1029.8 363.3 L1028.6 363.6 L1027.4 363.9 L1026.2 364.2 L1025.2 364.6 L1024.3 365 L1023.5 365.5 L1022.9 366 L1022.5 366.5 L1022.2 367.1 L1022.1 367.6 L1022.2 368.1 L1022.5 368.7 L1022.9 369.2 L1023.5 369.7 L1024.3 370.2 L1025.2 370.6 L1026.2 371 L1027.4 371.3 L1028.6 371.6 L1029.8 371.9 L1031.1 372 L1032.4 372.2 L1033.7 372.2 L1034.9 372.3 L1036 372.2 L1037.1 372.2 L1038 372 L1038.8 371.9 L1039.5 371.7 L1040 371.5 L1040.3 371.3 L1040.4 371 L1040.3 370.8 L1040.1 370.5 L1039.7 370.3 L1039.1 370.1 L1038.4 369.9 L1037.5 369.8 L1036.5 369.7 L1035.4 369.7 L1034.2 369.7 L1033 369.7 L1031.7 369.8 L1030.4 370 L1029.1 370.2 L1027.9 370.5 L1026.7 370.8 L1025.6 371.1 L1024.7 371.6 L1023.8 372 L1023.2 372.5 L1022.6 373 L1022.3 373.5 L1022.1 374.1 L1022.1 374.6 L1022.3 375.2 L1022.7 375.7 L1023.2 376.2 L1023.9 376.7 L1024.8 377.1 L1025.8 377.5 L1026.8 377.9 L1028 378.2 L1029.3 378.5 L1030.5 378.7 L1031.8 378.8 L1033.1 378.9 L1034.4 379 L1035.5 379 L1036.6 378.9 L1037.6 378.8 L1038.5 378.7 L1039.2 378.5 L1039.8 378.3 L1040.2 378.1 L1040.4 377.8 L1040.4 377.6 L1040.2 377.4 L1039.9 377.1 L1039.4 376.9 L1038.7 376.7 L1037.9 376.6 L1037 376.5 L1035.9 376.4 L1034.8 376.4 L1033.5 376.4 L1032.3 376.5 L1031 376.6 L1029.7 376.8 L1028.4 377.1 L1027.2 377.3 L1026.1 377.7 L1025.1 378.1 L1024.2 378.5 L1023.4 379 L1022.9 379.5 L1022.4 380 L1022.2 380.6 L1022.1 381.1 L1022.2 381.6 L1022.5 382.2 L1023 382.7 L1023.6 383.2 L1024.4 383.7 L1025.3 384.1 L1026.3 384.5 L1027.5 384.8 L1028.7 385.1 L1030 385.3 L1031.3 385.5" fill="none" stroke="#fff" stroke-width="1.5" stroke-linejoin="round"/>
<text x="925.6" y="98.9" font-family="Liberation Sans, sans-serif" font-size="31" font-weight="bold" font-style="normal" fill="#000" textLength="11.20" lengthAdjust="spacingAndGlyphs" stroke="#000" stroke-width="0.6">L</text>
<text x="937.7" y="103.6" font-family="Liberation Sans, sans-serif" font-size="20.5" font-weight="bold" font-style="normal" fill="#000" textLength="7.50" lengthAdjust="spacingAndGlyphs" stroke="#000" stroke-width="0.4">1</text>
<text x="1095.1" y="98.2" font-family="Liberation Sans, sans-serif" font-size="31" font-weight="bold" font-style="normal" fill="#000" textLength="10.40" lengthAdjust="spacingAndGlyphs" stroke="#000" stroke-width="0.6">L</text>
<text x="1106.4" y="103" font-family="Liberation Sans, sans-serif" font-size="20.5" font-weight="bold" font-style="normal" fill="#000" textLength="8.50" lengthAdjust="spacingAndGlyphs" stroke="#000" stroke-width="0.4">2</text>
<text x="1050.8" y="164.2" font-family="Liberation Sans, sans-serif" font-size="31" font-weight="bold" font-style="normal" fill="#000" textLength="11.30" lengthAdjust="spacingAndGlyphs" stroke="#000" stroke-width="0.6">L</text>
<text x="1062.1" y="169.8" font-family="Liberation Sans, sans-serif" font-size="20.5" font-weight="bold" font-style="normal" fill="#000" textLength="9.50" lengthAdjust="spacingAndGlyphs" stroke="#000" stroke-width="0.4">4</text>
<text x="1162" y="227.2" font-family="Liberation Sans, sans-serif" font-size="31" font-weight="bold" font-style="normal" fill="#000" textLength="10.30" lengthAdjust="spacingAndGlyphs" stroke="#000" stroke-width="0.6">L</text>
<text x="1173.3" y="232" font-family="Liberation Sans, sans-serif" font-size="20.5" font-weight="bold" font-style="normal" fill="#000" textLength="8.40" lengthAdjust="spacingAndGlyphs" stroke="#000" stroke-width="0.4">7</text>
<text x="1110.2" y="251.7" font-family="Liberation Sans, sans-serif" font-size="31" font-weight="bold" font-style="normal" fill="#000" textLength="15.00" lengthAdjust="spacingAndGlyphs" stroke="#000" stroke-width="0.6">C</text>
<text x="1125.2" y="255.5" font-family="Liberation Sans, sans-serif" font-size="20.5" font-weight="bold" font-style="normal" fill="#000" textLength="9.50" lengthAdjust="spacingAndGlyphs" stroke="#000" stroke-width="0.4">3</text>
<text x="1032" y="258.3" font-family="Liberation Sans, sans-serif" font-size="31" font-weight="bold" font-style="normal" fill="#000" textLength="10.40" lengthAdjust="spacingAndGlyphs" stroke="#000" stroke-width="0.6">L</text>
<text x="1043.3" y="264" font-family="Liberation Sans, sans-serif" font-size="20.5" font-weight="bold" font-style="normal" fill="#000" textLength="8.50" lengthAdjust="spacingAndGlyphs" stroke="#000" stroke-width="0.4">5</text>
<text x="938.7" y="234.3" font-family="Liberation Sans, sans-serif" font-size="31" font-weight="bold" font-style="normal" fill="#000" textLength="15.90" lengthAdjust="spacingAndGlyphs" stroke="#000" stroke-width="0.6">C</text>
<text x="954.6" y="239" font-family="Liberation Sans, sans-serif" font-size="20.5" font-weight="bold" font-style="normal" fill="#000" textLength="9.30" lengthAdjust="spacingAndGlyphs" stroke="#000" stroke-width="0.4">2</text>
<text x="873.3" y="275.5" font-family="Liberation Sans, sans-serif" font-size="31" font-weight="bold" font-style="normal" fill="#000" textLength="14.00" lengthAdjust="spacingAndGlyphs" stroke="#000" stroke-width="0.6">R</text>
<text x="889.2" y="280.1" font-family="Liberation Sans, sans-serif" font-size="20.5" font-weight="bold" font-style="normal" fill="#000" textLength="8.40" lengthAdjust="spacingAndGlyphs" stroke="#000" stroke-width="0.4">2</text>
<text x="1106.4" y="302.1" font-family="Liberation Sans, sans-serif" font-size="31" font-weight="bold" font-style="normal" fill="#000" textLength="14.10" lengthAdjust="spacingAndGlyphs" stroke="#000" stroke-width="0.6">R</text>
<text x="1120.5" y="306.9" font-family="Liberation Sans, sans-serif" font-size="20.5" font-weight="bold" font-style="normal" fill="#000" textLength="10.40" lengthAdjust="spacingAndGlyphs" stroke="#000" stroke-width="0.4">3</text>
<text x="997" y="316.5" font-family="Liberation Sans, sans-serif" font-size="31" font-weight="bold" font-style="normal" fill="#000" textLength="10.50" lengthAdjust="spacingAndGlyphs" stroke="#000" stroke-width="0.6">L</text>
<text x="1008.5" y="320" font-family="Liberation Sans, sans-serif" font-size="20.5" font-weight="bold" font-style="normal" fill="#000" textLength="9.40" lengthAdjust="spacingAndGlyphs" stroke="#000" stroke-width="0.4">6</text>
<text x="792.1" y="339" font-family="Liberation Sans, sans-serif" font-size="31" font-weight="bold" font-style="normal" fill="#000" textLength="15.00" lengthAdjust="spacingAndGlyphs" stroke="#000" stroke-width="0.6">C</text>
<text x="808" y="343.6" font-family="Liberation Sans, sans-serif" font-size="20.5" font-weight="bold" font-style="normal" fill="#000" textLength="8.40" lengthAdjust="spacingAndGlyphs" stroke="#000" stroke-width="0.4">1</text>
<text x="1205.3" y="337.9" font-family="Liberation Sans, sans-serif" font-size="31" font-weight="bold" font-style="normal" fill="#000" textLength="14.10" lengthAdjust="spacingAndGlyphs" stroke="#000" stroke-width="0.6">R</text>
<text x="1220.3" y="342.6" font-family="Liberation Sans, sans-serif" font-size="20.5" font-weight="bold" font-style="normal" fill="#000" textLength="9.50" lengthAdjust="spacingAndGlyphs" stroke="#000" stroke-width="0.4">1</text>
<text x="817.3" y="404.3" font-family="Liberation Sans, sans-serif" font-size="31" font-weight="bold" font-style="normal" fill="#000" textLength="10.30" lengthAdjust="spacingAndGlyphs" stroke="#000" stroke-width="0.6">L</text>
<text x="827.6" y="409" font-family="Liberation Sans, sans-serif" font-size="20.5" font-weight="bold" font-style="normal" fill="#000" textLength="9.30" lengthAdjust="spacingAndGlyphs" stroke="#000" stroke-width="0.4">3</text>
<text x="963.9" y="384.7" font-family="Liberation Sans, sans-serif" font-size="31" font-weight="bold" font-style="normal" fill="#000" textLength="10.30" lengthAdjust="spacingAndGlyphs" stroke="#000" stroke-width="0.6">L</text>
<text x="974.2" y="388.4" font-family="Liberation Sans, sans-serif" font-size="20.5" font-weight="bold" font-style="normal" fill="#000" textLength="9.30" lengthAdjust="spacingAndGlyphs" stroke="#000" stroke-width="0.4">8</text>
<text x="1048" y="378.4" font-family="Liberation Sans, sans-serif" font-size="31" font-weight="bold" font-style="normal" fill="#000" textLength="9.40" lengthAdjust="spacingAndGlyphs" stroke="#000" stroke-width="0.6">L</text>
<text x="1057.4" y="383.1" font-family="Liberation Sans, sans-serif" font-size="20.5" font-weight="bold" font-style="normal" fill="#000" textLength="10.40" lengthAdjust="spacingAndGlyphs" stroke="#000" stroke-width="0.4">4</text>
<text x="1087.6" y="384.1" font-family="Liberation Sans, sans-serif" font-size="31" font-weight="bold" font-style="normal" fill="#000" textLength="10.30" lengthAdjust="spacingAndGlyphs" stroke="#000" stroke-width="0.6">L</text>
<text x="1097.9" y="389.7" font-family="Liberation Sans, sans-serif" font-size="20.5" font-weight="bold" font-style="normal" fill="#000" textLength="10.40" lengthAdjust="spacingAndGlyphs" stroke="#000" stroke-width="0.4">9</text>
</svg>
</body></html>
